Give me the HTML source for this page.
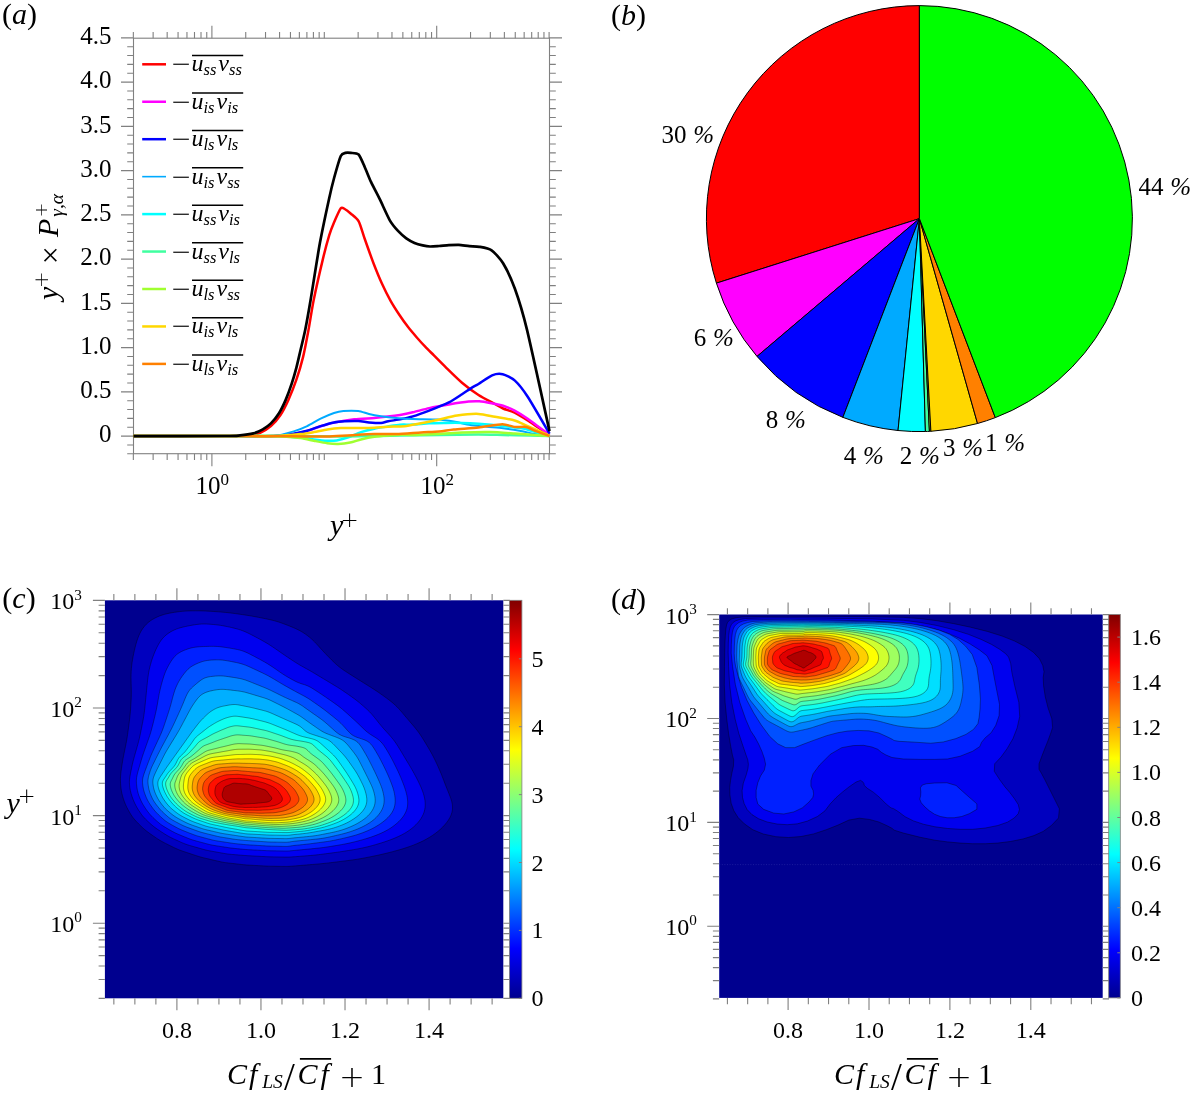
<!DOCTYPE html>
<html lang="en"><head><meta charset="utf-8"><title>Figure</title>
<style>
html,body{margin:0;padding:0;background:#fff;}
body{width:1191px;height:1097px;overflow:hidden;}
svg{display:block;}
text{fill:#000;}
</style></head><body>
<svg width="1191" height="1097" viewBox="0 0 1191 1097">
<rect width="1191" height="1097" fill="#fff"/>
<g stroke="#808080" stroke-width="1.1" fill="none">
<rect x="133.5" y="38.2" width="416" height="415.5"/>
<path d="M133.34 453.7v6.3M133.34 38.2v-6.3M153.13 453.7v6.3M153.13 38.2v-6.3M167.17 453.7v6.3M167.17 38.2v-6.3M178.06 453.7v6.3M178.06 38.2v-6.3M186.96 453.7v6.3M186.96 38.2v-6.3M194.49 453.7v6.3M194.49 38.2v-6.3M201.01 453.7v6.3M201.01 38.2v-6.3M206.76 453.7v6.3M206.76 38.2v-6.3M211.9 453.7v12.5M211.9 38.2v-12.5M245.74 453.7v6.3M245.74 38.2v-6.3M265.53 453.7v6.3M265.53 38.2v-6.3M279.57 453.7v6.3M279.57 38.2v-6.3M290.46 453.7v6.3M290.46 38.2v-6.3M299.36 453.7v6.3M299.36 38.2v-6.3M306.89 453.7v6.3M306.89 38.2v-6.3M313.41 453.7v6.3M313.41 38.2v-6.3M319.16 453.7v6.3M319.16 38.2v-6.3M324.3 453.7v6.3M324.3 38.2v-6.3M358.14 453.7v6.3M358.14 38.2v-6.3M377.93 453.7v6.3M377.93 38.2v-6.3M391.97 453.7v6.3M391.97 38.2v-6.3M402.86 453.7v6.3M402.86 38.2v-6.3M411.76 453.7v6.3M411.76 38.2v-6.3M419.29 453.7v6.3M419.29 38.2v-6.3M425.81 453.7v6.3M425.81 38.2v-6.3M431.56 453.7v6.3M431.56 38.2v-6.3M436.7 453.7v12.5M436.7 38.2v-12.5M470.54 453.7v6.3M470.54 38.2v-6.3M490.33 453.7v6.3M490.33 38.2v-6.3M504.37 453.7v6.3M504.37 38.2v-6.3M515.26 453.7v6.3M515.26 38.2v-6.3M524.16 453.7v6.3M524.16 38.2v-6.3M531.69 453.7v6.3M531.69 38.2v-6.3M538.21 453.7v6.3M538.21 38.2v-6.3M543.96 453.7v6.3M543.96 38.2v-6.3M549.1 453.7v6.3M549.1 38.2v-6.3M133.5 453.8h-6.3M549.5 453.8h6.3M133.5 444.95h-6.3M549.5 444.95h6.3M133.5 436.1h-12.5M549.5 436.1h12.5M133.5 427.25h-6.3M549.5 427.25h6.3M133.5 418.4h-6.3M549.5 418.4h6.3M133.5 409.55h-6.3M549.5 409.55h6.3M133.5 400.7h-6.3M549.5 400.7h6.3M133.5 391.85h-12.5M549.5 391.85h12.5M133.5 383h-6.3M549.5 383h6.3M133.5 374.15h-6.3M549.5 374.15h6.3M133.5 365.3h-6.3M549.5 365.3h6.3M133.5 356.45h-6.3M549.5 356.45h6.3M133.5 347.6h-12.5M549.5 347.6h12.5M133.5 338.75h-6.3M549.5 338.75h6.3M133.5 329.9h-6.3M549.5 329.9h6.3M133.5 321.05h-6.3M549.5 321.05h6.3M133.5 312.2h-6.3M549.5 312.2h6.3M133.5 303.35h-12.5M549.5 303.35h12.5M133.5 294.5h-6.3M549.5 294.5h6.3M133.5 285.65h-6.3M549.5 285.65h6.3M133.5 276.8h-6.3M549.5 276.8h6.3M133.5 267.95h-6.3M549.5 267.95h6.3M133.5 259.1h-12.5M549.5 259.1h12.5M133.5 250.25h-6.3M549.5 250.25h6.3M133.5 241.4h-6.3M549.5 241.4h6.3M133.5 232.55h-6.3M549.5 232.55h6.3M133.5 223.7h-6.3M549.5 223.7h6.3M133.5 214.85h-12.5M549.5 214.85h12.5M133.5 206h-6.3M549.5 206h6.3M133.5 197.15h-6.3M549.5 197.15h6.3M133.5 188.3h-6.3M549.5 188.3h6.3M133.5 179.45h-6.3M549.5 179.45h6.3M133.5 170.6h-12.5M549.5 170.6h12.5M133.5 161.75h-6.3M549.5 161.75h6.3M133.5 152.9h-6.3M549.5 152.9h6.3M133.5 144.05h-6.3M549.5 144.05h6.3M133.5 135.2h-6.3M549.5 135.2h6.3M133.5 126.35h-12.5M549.5 126.35h12.5M133.5 117.5h-6.3M549.5 117.5h6.3M133.5 108.65h-6.3M549.5 108.65h6.3M133.5 99.8h-6.3M549.5 99.8h6.3M133.5 90.95h-6.3M549.5 90.95h6.3M133.5 82.1h-12.5M549.5 82.1h12.5M133.5 73.25h-6.3M549.5 73.25h6.3M133.5 64.4h-6.3M549.5 64.4h6.3M133.5 55.55h-6.3M549.5 55.55h6.3M133.5 46.7h-6.3M549.5 46.7h6.3M133.5 37.85h-12.5M549.5 37.85h12.5"/>
</g>
<path fill="none" stroke="#ff0000" stroke-width="2.5" stroke-linejoin="round" d="M133.5 436.1C145.93 436.09 226.79 436.02 240 436C253.21 435.98 244.34 436.27 246.7 435.9C249.06 435.53 257.38 433.94 260.2 432.8C263.02 431.66 268.55 428.14 270.9 426.1C273.25 424.06 278.26 418.36 280.3 415.3C282.34 412.24 286.52 404.05 288.4 399.9C290.28 395.75 294.68 384.72 296.4 379.7C298.12 374.68 301.69 362.7 303.1 356.9C304.51 351.1 307.26 336.64 308.5 330C309.74 323.36 312.01 308.33 313.7 300C315.39 291.67 321.19 266.14 323 258.6C324.81 251.06 327.94 239.55 329.2 235.4C330.46 231.25 332.45 226.16 333.8 223C335.15 219.84 339.53 209.93 340.8 208.3C342.07 206.67 343.52 208.37 344.7 209C345.88 209.63 349.27 212.26 350.9 213.7C352.53 215.13 357.1 218.41 358.7 221.3C360.3 224.19 362.9 233.67 364.6 238.5C366.3 243.33 371.28 257.45 373.3 262.7C375.32 267.95 379.88 279.06 381.9 283.5C383.92 287.94 388.57 297.16 390.6 300.8C392.63 304.44 397.28 311.67 399.3 314.7C401.32 317.73 405.88 324.18 407.9 326.8C409.92 329.43 414.58 334.88 416.6 337.2C418.62 339.52 423.18 344.58 425.2 346.7C427.22 348.82 431.52 353.02 433.9 355.4C436.28 357.78 442.32 363.92 445.6 367.1C448.88 370.29 458.16 379.44 462 382.7C465.84 385.95 474.66 392.51 478.5 395C482.34 397.49 492.03 402.43 494.9 404C497.77 405.57 500.8 407.49 503.1 408.5C505.4 409.51 511.73 411.3 514.6 412.7C517.47 414.1 523.63 417.88 527.7 420.5C531.77 423.12 546.96 433.49 549.5 435.2"/>
<path fill="none" stroke="#ff00ff" stroke-width="2.5" stroke-linejoin="round" d="M133.5 436.1C145.93 436.1 223.66 436.11 240 436.1C256.35 436.09 267.34 436.26 273.6 436C279.87 435.74 289.78 434.48 293.7 433.9C297.62 433.32 304.06 431.89 307.2 431C310.34 430.11 317.47 427.28 320.6 426.3C323.73 425.32 330.08 423.42 334 422.6C337.92 421.78 349.5 419.84 354.2 419.3C358.9 418.76 370.38 418.31 374.3 418C378.22 417.69 384.8 416.96 387.8 416.6C390.8 416.24 397.08 415.4 400 414.9C402.92 414.4 409.39 413.09 412.8 412.3C416.21 411.51 424.99 409.01 429.2 408.1C433.41 407.19 444.3 405.26 448.9 404.5C453.5 403.74 465.05 401.97 468.6 401.6C472.15 401.23 476.62 401.11 479.3 401.3C481.98 401.49 488.82 402.69 491.6 403.2C494.38 403.71 500.42 404.84 503.1 405.7C505.78 406.56 511.73 409.07 514.6 410.6C517.47 412.13 523.63 415.95 527.7 418.8C531.77 421.65 546.96 433.11 549.5 435"/>
<path fill="none" stroke="#0000ff" stroke-width="2.5" stroke-linejoin="round" d="M133.5 436.1C145.93 436.1 223.66 436.11 240 436.1C256.35 436.09 267.34 436.28 273.6 436C279.87 435.72 289.78 434.31 293.7 433.7C297.62 433.09 304.06 431.69 307.2 430.8C310.34 429.91 317.47 427.08 320.6 426.1C323.73 425.12 331.18 422.96 334 422.4C336.82 421.84 341.98 421.45 344.8 421.3C347.62 421.15 355.38 420.97 358.2 421.1C361.02 421.23 366.33 422.18 369 422.4C371.67 422.62 378.86 423.13 381.1 423C383.34 422.87 385.84 421.75 388.2 421.3C390.56 420.85 398.43 419.67 401.3 419.1C404.17 418.53 409.55 417.39 412.8 416.4C416.06 415.41 424.99 412.23 429.2 410.6C433.41 408.97 445.07 404.31 448.9 402.4C452.73 400.49 459.32 395.93 462 394.2C464.68 392.47 469.97 388.79 471.9 387.6C473.82 386.41 476.14 385.44 478.5 384C480.86 382.56 489.28 376.44 492.1 375.3C494.92 374.16 500.04 373.58 502.7 374.2C505.36 374.82 511.98 377.98 514.9 380.6C517.82 383.23 523.66 390.52 527.7 396.7C531.74 402.88 546.96 429.3 549.5 433.6"/>
<path fill="none" stroke="#00aaff" stroke-width="2" stroke-linejoin="round" d="M133.5 436.1C145.93 436.1 223.66 436.11 240 436.1C256.35 436.09 267.34 436.55 273.6 436C279.87 435.45 289.78 432.55 293.7 431.4C297.62 430.25 304.06 427.58 307.2 426.1C310.34 424.62 317.47 420.23 320.6 418.7C323.73 417.17 331.34 413.9 334 413C336.66 412.1 340.58 411.23 343.4 411C346.22 410.77 355.21 410.65 358.2 411C361.19 411.35 366.33 413.39 369 414C371.67 414.61 377.9 415.73 381.1 416.2C384.3 416.67 392.7 417.66 396.4 418C400.1 418.34 408.02 418.91 412.8 419.1C417.58 419.29 432.62 419.31 437.4 419.6C442.18 419.89 449.96 420.98 453.8 421.6C457.64 422.22 466.46 424.31 470.3 424.9C474.14 425.49 482.87 426.3 486.7 426.7C490.53 427.1 499.27 427.82 503.1 428.3C506.93 428.78 515.67 430.12 519.5 430.8C523.33 431.48 532.4 433.52 535.9 434.1C539.4 434.68 547.91 435.6 549.5 435.8"/>
<path fill="none" stroke="#00ffff" stroke-width="2.5" stroke-linejoin="round" d="M133.5 436.1C145.93 436.1 223.66 436.11 240 436.1C256.35 436.09 266.54 435.84 273.6 436C280.66 436.16 295.8 437.09 300.5 437.5C305.2 437.91 310.77 439.12 313.9 439.5C317.03 439.88 324.64 440.69 327.3 440.8C329.96 440.91 334.34 440.78 336.7 440.4C339.06 440.01 344.68 438.47 347.5 437.5C350.32 436.53 357.77 433.13 360.9 432.1C364.03 431.07 371.16 429.35 374.3 428.7C377.44 428.05 384.8 426.97 387.8 426.5C390.8 426.03 397.08 424.92 400 424.7C402.92 424.48 409.39 424.78 412.8 424.6C416.21 424.43 425.37 423.4 429.2 423.2C433.03 423 441.77 422.94 445.6 422.9C449.43 422.86 458.16 422.81 462 422.9C465.84 422.99 473.7 423.35 478.5 423.7C483.3 424.05 497.75 425.32 503.1 425.9C508.46 426.48 520.39 427.89 524.4 428.7C528.41 429.5 534.57 431.97 537.5 432.8C540.43 433.63 548.1 435.45 549.5 435.8"/>
<path fill="none" stroke="#40ffa0" stroke-width="2.5" stroke-linejoin="round" d="M133.5 436.1C145.93 436.1 220.57 436.09 240 436.1C259.43 436.11 288.33 436.15 300 436.2C311.67 436.25 330.67 436.52 340 436.5C349.33 436.48 373 436.12 380 436C387 435.88 393 435.62 400 435.5C407 435.38 430.9 435.12 440 435C449.1 434.88 470.65 434.5 478 434.5C485.35 434.5 496.93 434.87 503 435C509.07 435.13 524.58 435.48 530 435.6C535.42 435.72 547.23 435.95 549.5 436"/>
<path fill="none" stroke="#a0ff30" stroke-width="2.5" stroke-linejoin="round" d="M133.5 436.1C145.93 436.1 223.66 436.11 240 436.1C256.35 436.09 266.54 435.77 273.6 436C280.66 436.23 295.8 437.54 300.5 438.1C305.2 438.66 310.77 440.21 313.9 440.8C317.03 441.39 324.48 442.84 327.3 443.2C330.12 443.56 335.43 443.97 338.1 443.9C340.77 443.83 347.54 443.11 350.2 442.6C352.86 442.09 358.09 440.18 360.9 439.5C363.71 438.82 371.16 437.27 374.3 436.8C377.44 436.33 384.8 435.73 387.8 435.5C390.8 435.27 396.24 434.88 400 434.8C403.76 434.72 412.77 435.07 420 434.8C427.23 434.53 453.83 432.83 462 432.5C470.17 432.17 483.82 431.88 490 432C496.18 432.12 508.06 433.03 515 433.5C521.94 433.97 545.48 435.71 549.5 436"/>
<path fill="none" stroke="#ffd700" stroke-width="2.5" stroke-linejoin="round" d="M133.5 436.1C145.93 436.1 223.66 436.11 240 436.1C256.35 436.09 266.54 436.23 273.6 436C280.66 435.77 295.8 434.56 300.5 434.1C305.2 433.65 310.77 432.65 313.9 432.1C317.03 431.55 324.16 429.87 327.3 429.4C330.44 428.93 336.88 428.25 340.8 428.1C344.72 427.95 356.99 428.14 360.9 428.1C364.81 428.06 371.16 427.96 374.3 427.8C377.44 427.64 384.26 426.89 387.8 426.7C391.34 426.51 400.73 426.61 404.6 426.2C408.47 425.79 417.17 423.92 421 423.2C424.83 422.48 433.19 420.9 437.4 420C441.61 419.1 452.31 416.21 457.1 415.5C461.9 414.79 474.09 413.75 478.5 413.9C482.91 414.05 490.69 416.03 494.9 416.8C499.11 417.57 510.77 419.4 514.6 420.5C518.43 421.6 523.63 424.44 527.7 426.2C531.77 427.96 546.96 434.5 549.5 435.6"/>
<path fill="none" stroke="#ff8000" stroke-width="2.5" stroke-linejoin="round" d="M133.5 436.1C145.93 436.1 223.66 436.09 240 436.1C256.35 436.11 265.76 436.17 273.6 436.2C281.44 436.23 300.94 436.36 307.2 436.4C313.46 436.44 322.6 436.61 327.3 436.5C332 436.39 342.02 435.78 347.5 435.5C352.98 435.22 368.6 434.29 374.3 434.1C380 433.91 390.95 434.1 396.4 433.9C401.85 433.7 416.02 432.68 421 432.4C425.98 432.12 435.27 431.84 439.1 431.5C442.93 431.16 449.2 429.97 453.8 429.5C458.4 429.03 472.84 428.12 478.5 427.5C484.16 426.88 498.09 424.26 502.3 424.2C506.51 424.14 511.84 426.67 514.6 427C517.37 427.33 523.51 426.52 526 427C528.49 427.48 533.16 430.05 535.9 431.1C538.64 432.15 547.91 435.43 549.5 436"/>
<path fill="none" stroke="#000000" stroke-width="2.7" stroke-linejoin="round" d="M133.5 436.1C144.18 436.09 212.57 436.08 225 436C237.43 435.92 236.69 435.7 240 435.4C243.31 435.1 250.74 434.1 253.4 433.4C256.06 432.7 260.76 430.57 262.8 429.4C264.84 428.23 269.01 425.28 270.9 423.4C272.79 421.52 277.27 416.04 279 413.3C280.73 410.56 284.22 403.35 285.7 399.9C287.18 396.45 290.45 387.47 291.7 383.7C292.95 379.93 295.37 371.51 296.4 367.6C297.43 363.69 299.47 354.59 300.5 350.2C301.53 345.81 304.02 335.86 305.2 330C306.38 324.14 308.89 310.14 310.6 300C312.31 289.86 317.73 254.98 319.9 243.1C322.07 231.22 327.54 205.79 329.2 198.2C330.86 190.6 332.75 182.92 334.1 178C335.45 173.08 339.48 158.93 340.8 156C342.12 153.07 344.22 153.26 345.4 152.9C346.58 152.54 349.36 152.71 350.9 152.9C352.44 153.09 356.98 152.83 358.6 154.5C360.22 156.17 363.35 164 364.8 167.2C366.25 170.4 369.23 178.11 371 181.9C372.77 185.69 377.81 195.22 380 199.7C382.19 204.18 387.7 216.66 389.8 220.3C391.9 223.94 396.07 228.8 398 230.9C399.93 233 404.38 236.9 406.3 238.3C408.23 239.7 412.59 242.07 414.5 242.9C416.41 243.73 420.89 244.98 422.7 245.4C424.51 245.82 428.09 246.43 430 246.5C431.91 246.57 436.9 246.15 439.1 246C441.31 245.85 446.6 245.33 448.9 245.2C451.2 245.07 456.41 244.78 458.8 244.9C461.19 245.02 467.01 245.98 469.4 246.2C471.79 246.42 476.71 246.32 479.3 246.8C481.89 247.28 488.82 248.39 491.6 250.3C494.38 252.21 500.38 258.71 503.1 263.2C505.82 267.69 512.12 281.08 514.9 288.8C517.68 296.52 522.86 312.8 526.9 329.4C530.94 346 546.86 419.24 549.5 431.1"/>
<line x1="142.2" y1="64.3" x2="166" y2="64.3" stroke="#ff0000" stroke-width="2.5"/>
<line x1="192" y1="55.5" x2="243.2" y2="55.5" stroke="#000" stroke-width="1.5"/>
<text transform="translate(171.7,72.3) scale(1.4,1)" font-size="24" font-family='"Liberation Serif", "DejaVu Serif", serif'>−</text>
<text x="191.5" y="71.3" font-size="24" font-style="italic" font-family='"Liberation Serif", "DejaVu Serif", serif'>u<tspan font-size="16.5" dy="4">ss</tspan><tspan dy="-4" dx="2">v</tspan><tspan font-size="16.5" dy="4">ss</tspan></text>
<line x1="142.2" y1="101.75" x2="166" y2="101.75" stroke="#ff00ff" stroke-width="2.5"/>
<line x1="192" y1="92.95" x2="243.2" y2="92.95" stroke="#000" stroke-width="1.5"/>
<text transform="translate(171.7,109.75) scale(1.4,1)" font-size="24" font-family='"Liberation Serif", "DejaVu Serif", serif'>−</text>
<text x="191.5" y="108.75" font-size="24" font-style="italic" font-family='"Liberation Serif", "DejaVu Serif", serif'>u<tspan font-size="16.5" dy="4">is</tspan><tspan dy="-4" dx="2">v</tspan><tspan font-size="16.5" dy="4">is</tspan></text>
<line x1="142.2" y1="139.2" x2="166" y2="139.2" stroke="#0000ff" stroke-width="2.5"/>
<line x1="192" y1="130.4" x2="243.2" y2="130.4" stroke="#000" stroke-width="1.5"/>
<text transform="translate(171.7,147.2) scale(1.4,1)" font-size="24" font-family='"Liberation Serif", "DejaVu Serif", serif'>−</text>
<text x="191.5" y="146.2" font-size="24" font-style="italic" font-family='"Liberation Serif", "DejaVu Serif", serif'>u<tspan font-size="16.5" dy="4">ls</tspan><tspan dy="-4" dx="2">v</tspan><tspan font-size="16.5" dy="4">ls</tspan></text>
<line x1="142.2" y1="176.65" x2="166" y2="176.65" stroke="#00aaff" stroke-width="1.6"/>
<line x1="192" y1="167.85" x2="243.2" y2="167.85" stroke="#000" stroke-width="1.5"/>
<text transform="translate(171.7,184.65) scale(1.4,1)" font-size="24" font-family='"Liberation Serif", "DejaVu Serif", serif'>−</text>
<text x="191.5" y="183.65" font-size="24" font-style="italic" font-family='"Liberation Serif", "DejaVu Serif", serif'>u<tspan font-size="16.5" dy="4">is</tspan><tspan dy="-4" dx="2">v</tspan><tspan font-size="16.5" dy="4">ss</tspan></text>
<line x1="142.2" y1="214.1" x2="166" y2="214.1" stroke="#00ffff" stroke-width="2.5"/>
<line x1="192" y1="205.3" x2="243.2" y2="205.3" stroke="#000" stroke-width="1.5"/>
<text transform="translate(171.7,222.1) scale(1.4,1)" font-size="24" font-family='"Liberation Serif", "DejaVu Serif", serif'>−</text>
<text x="191.5" y="221.1" font-size="24" font-style="italic" font-family='"Liberation Serif", "DejaVu Serif", serif'>u<tspan font-size="16.5" dy="4">ss</tspan><tspan dy="-4" dx="2">v</tspan><tspan font-size="16.5" dy="4">is</tspan></text>
<line x1="142.2" y1="251.55" x2="166" y2="251.55" stroke="#40ffa0" stroke-width="2.5"/>
<line x1="192" y1="242.75" x2="243.2" y2="242.75" stroke="#000" stroke-width="1.5"/>
<text transform="translate(171.7,259.55) scale(1.4,1)" font-size="24" font-family='"Liberation Serif", "DejaVu Serif", serif'>−</text>
<text x="191.5" y="258.55" font-size="24" font-style="italic" font-family='"Liberation Serif", "DejaVu Serif", serif'>u<tspan font-size="16.5" dy="4">ss</tspan><tspan dy="-4" dx="2">v</tspan><tspan font-size="16.5" dy="4">ls</tspan></text>
<line x1="142.2" y1="289" x2="166" y2="289" stroke="#a0ff30" stroke-width="2.5"/>
<line x1="192" y1="280.2" x2="243.2" y2="280.2" stroke="#000" stroke-width="1.5"/>
<text transform="translate(171.7,297) scale(1.4,1)" font-size="24" font-family='"Liberation Serif", "DejaVu Serif", serif'>−</text>
<text x="191.5" y="296" font-size="24" font-style="italic" font-family='"Liberation Serif", "DejaVu Serif", serif'>u<tspan font-size="16.5" dy="4">ls</tspan><tspan dy="-4" dx="2">v</tspan><tspan font-size="16.5" dy="4">ss</tspan></text>
<line x1="142.2" y1="326.45" x2="166" y2="326.45" stroke="#ffd700" stroke-width="2.5"/>
<line x1="192" y1="317.65" x2="243.2" y2="317.65" stroke="#000" stroke-width="1.5"/>
<text transform="translate(171.7,334.45) scale(1.4,1)" font-size="24" font-family='"Liberation Serif", "DejaVu Serif", serif'>−</text>
<text x="191.5" y="333.45" font-size="24" font-style="italic" font-family='"Liberation Serif", "DejaVu Serif", serif'>u<tspan font-size="16.5" dy="4">is</tspan><tspan dy="-4" dx="2">v</tspan><tspan font-size="16.5" dy="4">ls</tspan></text>
<line x1="142.2" y1="363.9" x2="166" y2="363.9" stroke="#ff8000" stroke-width="2.5"/>
<line x1="192" y1="355.1" x2="243.2" y2="355.1" stroke="#000" stroke-width="1.5"/>
<text transform="translate(171.7,371.9) scale(1.4,1)" font-size="24" font-family='"Liberation Serif", "DejaVu Serif", serif'>−</text>
<text x="191.5" y="370.9" font-size="24" font-style="italic" font-family='"Liberation Serif", "DejaVu Serif", serif'>u<tspan font-size="16.5" dy="4">ls</tspan><tspan dy="-4" dx="2">v</tspan><tspan font-size="16.5" dy="4">is</tspan></text>
<text x="111.5" y="442.4" font-size="25" text-anchor="end" font-family='"Liberation Serif", "DejaVu Serif", serif'>0</text>
<text x="111.5" y="398.15" font-size="25" text-anchor="end" font-family='"Liberation Serif", "DejaVu Serif", serif'>0.5</text>
<text x="111.5" y="353.9" font-size="25" text-anchor="end" font-family='"Liberation Serif", "DejaVu Serif", serif'>1.0</text>
<text x="111.5" y="309.65" font-size="25" text-anchor="end" font-family='"Liberation Serif", "DejaVu Serif", serif'>1.5</text>
<text x="111.5" y="265.4" font-size="25" text-anchor="end" font-family='"Liberation Serif", "DejaVu Serif", serif'>2.0</text>
<text x="111.5" y="221.15" font-size="25" text-anchor="end" font-family='"Liberation Serif", "DejaVu Serif", serif'>2.5</text>
<text x="111.5" y="176.9" font-size="25" text-anchor="end" font-family='"Liberation Serif", "DejaVu Serif", serif'>3.0</text>
<text x="111.5" y="132.65" font-size="25" text-anchor="end" font-family='"Liberation Serif", "DejaVu Serif", serif'>3.5</text>
<text x="111.5" y="88.4" font-size="25" text-anchor="end" font-family='"Liberation Serif", "DejaVu Serif", serif'>4.0</text>
<text x="111.5" y="44.15" font-size="25" text-anchor="end" font-family='"Liberation Serif", "DejaVu Serif", serif'>4.5</text>
<text x="195.6" y="494.2" font-size="25" font-family='"Liberation Serif", "DejaVu Serif", serif'>10<tspan font-size="17" dy="-9.3">0</tspan></text>
<text x="420.4" y="494.2" font-size="25" font-family='"Liberation Serif", "DejaVu Serif", serif'>10<tspan font-size="17" dy="-9.3">2</tspan></text>
<text x="330" y="535" font-size="30" font-style="italic" font-family='"Liberation Serif", "DejaVu Serif", serif'>y<tspan x="340.6" y="527.3" font-style="normal" font-family="DejaVu Sans, sans-serif" font-weight="200" font-size="21.7">+</tspan></text>
<text transform="translate(57.7,302) rotate(-90)" font-size="30" font-family='"Liberation Serif", "DejaVu Serif", serif'><tspan x="2" y="0" font-style="italic">y</tspan><tspan x="13.9" y="-10" font-family="DejaVu Sans, sans-serif" font-weight="200" font-size="19.7">+</tspan><tspan x="37.7" y="3" font-size="32">×</tspan><tspan x="65" y="0" font-style="italic">P</tspan><tspan x="84.6" y="-10.6" font-family="DejaVu Sans, sans-serif" font-weight="200" font-size="17.8">+</tspan><tspan x="85.3" y="5.3" font-size="19.5" font-style="italic">γ,α</tspan></text>
<text x="2" y="23.6" font-size="30" font-family='"Liberation Serif", "DejaVu Serif", serif'>(<tspan font-style="italic">a</tspan>)</text>
<g stroke="#000" stroke-width="1" stroke-linejoin="round">
<path fill="#ff0000" d="M919.4 218.6L919.4 5.6A213 213 0 0 0 716.42 283.15Z"/>
<path fill="#ff00ff" d="M919.4 218.6L716.42 283.15A213 213 0 0 0 757 356.42Z"/>
<path fill="#0000ff" d="M919.4 218.6L757 356.42A213 213 0 0 0 842.86 417.37Z"/>
<path fill="#00aaff" d="M919.4 218.6L842.86 417.37A213 213 0 0 0 898.02 430.52Z"/>
<path fill="#00ffff" d="M919.4 218.6L898.02 430.52A213 213 0 0 0 925.42 431.51Z"/>
<path fill="#40ffa0" d="M919.4 218.6L925.42 431.51A213 213 0 0 0 929.43 431.36Z"/>
<path fill="#a0ff30" d="M919.4 218.6L929.43 431.36A213 213 0 0 0 930.9 431.29Z"/>
<path fill="#ffd700" d="M919.4 218.6L930.9 431.29A213 213 0 0 0 977.54 423.51Z"/>
<path fill="#ff8000" d="M919.4 218.6L977.54 423.51A213 213 0 0 0 995.32 417.61Z"/>
<path fill="#00ff00" d="M919.4 218.6L995.32 417.61A213 213 0 0 0 919.4 5.6Z"/>
</g>
<text x="661.5" y="143" font-size="25" font-family='"Liberation Serif", "DejaVu Serif", serif'>30 <tspan font-style="italic" dx="0.5">%</tspan></text>
<text x="1138.5" y="194.8" font-size="25" font-family='"Liberation Serif", "DejaVu Serif", serif'>44 <tspan font-style="italic" dx="0.5">%</tspan></text>
<text x="693.8" y="346" font-size="25" font-family='"Liberation Serif", "DejaVu Serif", serif'>6 <tspan font-style="italic" dx="0.5">%</tspan></text>
<text x="765.8" y="427.8" font-size="25" font-family='"Liberation Serif", "DejaVu Serif", serif'>8 <tspan font-style="italic" dx="0.5">%</tspan></text>
<text x="843.7" y="464" font-size="25" font-family='"Liberation Serif", "DejaVu Serif", serif'>4 <tspan font-style="italic" dx="0.5">%</tspan></text>
<text x="899.7" y="464" font-size="25" font-family='"Liberation Serif", "DejaVu Serif", serif'>2 <tspan font-style="italic" dx="0.5">%</tspan></text>
<text x="942.9" y="455.6" font-size="25" font-family='"Liberation Serif", "DejaVu Serif", serif'>3 <tspan font-style="italic" dx="0.5">%</tspan></text>
<text x="985" y="450.6" font-size="25" font-family='"Liberation Serif", "DejaVu Serif", serif'>1 <tspan font-style="italic" dx="0.5">%</tspan></text>
<text x="611" y="24.8" font-size="30" font-family='"Liberation Serif", "DejaVu Serif", serif'>(<tspan font-style="italic">b</tspan>)</text>
<rect x="104.9" y="600.3" width="398.4" height="398" fill="#00008f"/>
<clipPath id="cc"><rect x="104.9" y="600.3" width="398.4" height="398"/></clipPath>
<g clip-path="url(#cc)">
<path fill="#0000bf" stroke="#000" stroke-opacity="0.75" stroke-width="0.5" stroke-linejoin="round" d="M448.9 793.5L447.83 790.87L446.78 788.27L445.76 785.69L444.78 783.14L443.8 780.6L442.84 778.09L441.86 775.6L440.86 773.12L439.83 770.68L438.78 768.25L437.71 765.85L436.63 763.47L435.52 761.11L434.39 758.77L433.22 756.46L432.01 754.17L430.76 751.92L429.49 749.69L428.19 747.48L426.89 745.3L425.58 743.14L424.27 740.99L422.96 738.86L421.63 736.76L420.25 734.69L418.83 732.65L417.34 730.66L415.81 728.7L414.24 726.78L412.64 724.89L411.05 723.02L409.46 721.17L407.89 719.33L406.34 717.5L404.8 715.68L403.28 713.87L401.76 712.08L400.22 710.31L398.66 708.57L397.04 706.88L395.36 705.24L393.61 703.66L391.8 702.14L389.95 700.67L388.07 699.24L386.18 697.84L384.3 696.47L382.41 695.12L380.53 693.79L378.65 692.48L376.76 691.2L374.87 689.95L372.98 688.72L371.09 687.52L369.21 686.33L367.33 685.15L365.47 683.99L363.62 682.83L361.79 681.68L359.96 680.54L358.15 679.4L356.35 678.27L354.56 677.14L352.79 676.01L351.02 674.89L349.26 673.77L347.51 672.65L345.78 671.52L344.06 670.38L342.37 669.22L340.71 668.01L339.08 666.76L337.5 665.44L335.95 664.07L334.43 662.65L332.92 661.2L331.41 659.72L329.91 658.21L328.4 656.68L326.88 655.14L325.37 653.56L323.85 651.95L322.34 650.31L320.81 648.64L319.28 646.94L317.72 645.22L316.14 643.51L314.53 641.83L312.87 640.19L311.15 638.62L309.39 637.12L307.58 635.69L305.72 634.34L303.82 633.05L301.88 631.84L299.89 630.71L297.87 629.66L295.82 628.69L293.74 627.77L291.64 626.9L289.53 626.05L287.4 625.21L285.27 624.39L283.12 623.59L280.95 622.81L278.77 622.07L276.57 621.39L274.36 620.76L272.13 620.19L269.89 619.67L267.63 619.18L265.37 618.7L263.1 618.24L260.83 617.79L258.55 617.34L256.26 616.9L253.96 616.48L251.65 616.07L249.33 615.67L247 615.3L244.66 614.94L242.32 614.59L239.96 614.25L237.59 613.91L235.21 613.59L232.82 613.27L230.41 612.97L228 612.7L225.57 612.44L223.13 612.22L220.69 612.01L218.22 611.82L215.75 611.64L213.26 611.46L210.76 611.3L208.24 611.16L205.71 611.04L203.17 610.95L200.62 610.88L198.06 610.84L195.48 610.83L192.89 610.84L190.3 610.89L187.7 610.98L185.09 611.12L182.49 611.33L179.89 611.59L177.29 611.91L174.7 612.28L172.11 612.7L169.52 613.17L166.96 613.72L164.42 614.36L161.92 615.13L159.47 616.01L157.08 617.02L154.75 618.16L152.49 619.43L150.31 620.85L148.24 622.45L146.3 624.23L144.49 626.21L142.82 628.38L141.3 630.73L139.93 633.25L138.71 635.93L137.63 638.74L136.68 641.65L135.83 644.62L135.06 647.61L134.35 650.61L133.7 653.59L133.1 656.55L132.56 659.5L132.08 662.46L131.69 665.43L131.38 668.43L131.18 671.45L131.07 674.49L131.03 677.53L131.07 680.56L131.14 683.55L131.23 686.48L131.3 689.32L131.33 692.06L131.32 694.7L131.26 697.24L131.15 699.69L131.03 702.07L130.89 704.4L130.73 706.68L130.58 708.91L130.41 711.1L130.22 713.24L130.02 715.34L129.8 717.39L129.57 719.41L129.33 721.39L129.08 723.35L128.83 725.27L128.58 727.18L128.33 729.07L128.08 730.93L127.83 732.78L127.57 734.6L127.3 736.41L127.02 738.19L126.73 739.95L126.41 741.69L126.09 743.42L125.75 745.13L125.4 746.82L125.06 748.51L124.71 750.19L124.36 751.87L124.02 753.54L123.69 755.21L123.37 756.88L123.06 758.55L122.77 760.21L122.49 761.88L122.22 763.54L121.96 765.21L121.71 766.87L121.46 768.53L121.23 770.19L121.01 771.85L120.81 773.51L120.65 775.18L120.53 776.85L120.46 778.52L120.45 780.2L120.5 781.88L120.58 783.55L120.7 785.22L120.86 786.89L121.06 788.55L121.29 790.21L121.59 791.86L121.93 793.5L122.33 795.13L122.78 796.75L123.26 798.36L123.79 799.96L124.35 801.54L124.95 803.11L125.61 804.65L126.31 806.18L127.06 807.7L127.84 809.19L128.64 810.66L129.46 812.12L130.31 813.55L131.18 814.97L132.11 816.35L133.1 817.71L134.16 819.03L135.27 820.32L136.42 821.58L137.6 822.81L138.79 824.02L139.98 825.2L141.17 826.36L142.37 827.5L143.59 828.6L144.84 829.68L146.11 830.72L147.41 831.73L148.72 832.71L150.04 833.66L151.35 834.59L152.65 835.51L153.94 836.4L155.22 837.28L156.48 838.14L157.75 838.97L159.03 839.78L160.32 840.56L161.63 841.31L162.95 842.03L164.27 842.72L165.58 843.39L166.88 844.05L168.17 844.69L169.44 845.33L170.69 845.95L171.92 846.56L173.14 847.16L174.35 847.75L175.56 848.32L176.77 848.87L177.98 849.39L179.21 849.88L180.44 850.35L181.67 850.79L182.9 851.22L184.12 851.63L185.32 852.03L186.51 852.43L187.68 852.82L188.84 853.2L189.99 853.58L191.12 853.96L192.23 854.33L193.34 854.69L194.43 855.06L195.51 855.41L196.58 855.77L197.64 856.11L198.7 856.45L199.76 856.77L200.81 857.07L201.87 857.36L202.92 857.63L203.97 857.89L205.02 858.14L206.06 858.39L207.09 858.63L208.11 858.86L209.13 859.1L210.13 859.33L211.13 859.57L212.12 859.8L213.1 860.02L214.08 860.25L215.05 860.48L216.02 860.7L216.98 860.93L217.94 861.15L218.89 861.37L219.84 861.59L220.78 861.8L221.73 862L222.68 862.18L223.63 862.35L224.58 862.5L225.53 862.64L226.48 862.76L227.44 862.87L228.38 862.98L229.33 863.09L230.27 863.19L231.21 863.3L232.14 863.4L233.07 863.51L234 863.62L234.93 863.72L235.86 863.83L236.79 863.93L237.71 864.04L238.64 864.14L239.56 864.25L240.49 864.35L241.42 864.46L242.34 864.56L243.27 864.66L244.2 864.76L245.13 864.85L246.06 864.93L247 865L247.94 865.07L248.88 865.12L249.82 865.18L250.76 865.23L251.7 865.28L252.65 865.33L253.61 865.38L254.56 865.43L255.52 865.49L256.48 865.54L257.45 865.59L258.43 865.64L259.41 865.7L260.39 865.75L261.38 865.8L262.38 865.86L263.38 865.91L264.4 865.96L265.42 866.02L266.44 866.07L267.48 866.11L268.52 866.15L269.57 866.18L270.63 866.21L271.69 866.23L272.76 866.25L273.85 866.27L274.94 866.29L276.05 866.31L277.16 866.32L278.29 866.34L279.44 866.36L280.6 866.38L281.77 866.4L282.96 866.41L284.16 866.43L285.37 866.44L286.6 866.43L287.83 866.41L289.06 866.36L290.3 866.28L291.55 866.19L292.8 866.1L294.08 865.99L295.37 865.89L296.68 865.78L298.01 865.67L299.36 865.56L300.73 865.45L302.12 865.33L303.54 865.22L304.98 865.1L306.44 864.97L307.94 864.85L309.46 864.72L311.01 864.59L312.6 864.46L314.21 864.33L315.86 864.19L317.54 864.04L319.26 863.89L321.01 863.73L322.79 863.56L324.6 863.37L326.44 863.16L328.31 862.95L330.23 862.72L332.19 862.49L334.2 862.24L336.26 861.99L338.37 861.73L340.55 861.46L342.78 861.19L345.07 860.91L347.43 860.61L349.85 860.29L352.32 859.95L354.84 859.58L357.4 859.18L360.01 858.74L362.66 858.27L365.36 857.77L368.13 857.23L370.97 856.67L373.89 856.07L376.87 855.45L379.92 854.78L383.03 854.06L386.2 853.3L389.43 852.5L392.73 851.64L396.09 850.73L399.51 849.77L402.97 848.73L406.44 847.62L409.91 846.43L413.35 845.15L416.74 843.78L420.08 842.31L423.33 840.75L426.49 839.08L429.53 837.32L432.44 835.46L435.22 833.51L437.86 831.46L440.33 829.33L442.65 827.12L444.78 824.83L446.73 822.46L448.45 820.02L449.93 817.52L451.11 814.95L451.96 812.33L452.44 809.67L452.55 806.97L452.3 804.26L451.73 801.54L450.92 798.84L449.95 796.16Z"/>
<path fill="#0000ef" stroke="#000" stroke-opacity="0.75" stroke-width="0.5" stroke-linejoin="round" d="M423.36 793.5L422.57 791.2L421.69 788.93L420.74 786.67L419.73 784.45L418.68 782.25L417.6 780.07L416.5 777.92L415.39 775.8L414.26 773.7L413.11 771.63L411.94 769.59L410.76 767.56L409.58 765.56L408.4 763.59L407.23 761.63L406.06 759.69L404.91 757.77L403.76 755.86L402.63 753.98L401.5 752.1L400.38 750.24L399.26 748.4L398.13 746.57L396.98 744.77L395.8 742.99L394.57 741.24L393.28 739.54L391.93 737.87L390.54 736.24L389.11 734.64L387.67 733.06L386.24 731.51L384.83 729.96L383.46 728.41L382.12 726.87L380.82 725.32L379.54 723.77L378.3 722.21L377.07 720.66L375.84 719.11L374.61 717.58L373.36 716.07L372.09 714.58L370.77 713.12L369.42 711.7L368.03 710.32L366.6 708.98L365.15 707.66L363.69 706.36L362.22 705.09L360.75 703.83L359.26 702.59L357.76 701.38L356.25 700.19L354.72 699.03L353.17 697.9L351.62 696.79L350.07 695.69L348.52 694.6L346.98 693.52L345.44 692.45L343.89 691.4L342.35 690.35L340.8 689.33L339.24 688.32L337.67 687.33L336.1 686.36L334.53 685.41L332.96 684.46L331.4 683.51L329.83 682.57L328.27 681.64L326.72 680.7L325.16 679.77L323.61 678.84L322.06 677.91L320.52 676.98L318.97 676.06L317.42 675.13L315.88 674.2L314.33 673.28L312.78 672.35L311.22 671.44L309.66 670.53L308.08 669.63L306.5 668.75L304.91 667.88L303.32 667L301.73 666.12L300.14 665.21L298.56 664.27L296.98 663.3L295.4 662.31L293.82 661.29L292.23 660.25L290.64 659.2L289.03 658.13L287.42 657.05L285.79 655.95L284.15 654.84L282.5 653.7L280.84 652.55L279.16 651.38L277.46 650.2L275.74 649.01L274 647.81L272.24 646.62L270.45 645.44L268.64 644.28L266.79 643.15L264.92 642.06L263.03 640.98L261.11 639.92L259.17 638.87L257.2 637.81L255.22 636.75L253.2 635.68L251.16 634.62L249.09 633.58L247 632.57L244.88 631.63L242.74 630.77L240.58 630L238.4 629.32L236.2 628.7L233.99 628.14L231.76 627.6L229.51 627.09L227.25 626.6L224.97 626.14L222.67 625.71L220.37 625.34L218.05 625.02L215.72 624.74L213.38 624.5L211.04 624.3L208.68 624.14L206.31 624.03L203.95 623.99L201.59 624.04L199.25 624.19L196.92 624.44L194.61 624.77L192.3 625.15L190 625.58L187.7 626.04L185.4 626.52L183.1 627.04L180.82 627.63L178.57 628.3L176.36 629.08L174.2 629.99L172.1 631.02L170.06 632.18L168.08 633.47L166.19 634.91L164.4 636.5L162.72 638.27L161.16 640.23L159.73 642.34L158.4 644.58L157.16 646.9L156.01 649.28L154.92 651.71L153.91 654.18L152.97 656.68L152.09 659.21L151.29 661.76L150.55 664.33L149.87 666.92L149.28 669.54L148.76 672.18L148.32 674.85L147.94 677.52L147.62 680.17L147.33 682.8L147.06 685.38L146.81 687.92L146.56 690.4L146.33 692.83L146.09 695.2L145.87 697.53L145.64 699.81L145.42 702.04L145.2 704.23L144.99 706.37L144.76 708.47L144.53 710.52L144.28 712.52L144.01 714.48L143.72 716.38L143.41 718.24L143.08 720.06L142.75 721.85L142.4 723.61L142.06 725.35L141.72 727.07L141.38 728.78L141.04 730.46L140.71 732.13L140.37 733.78L140.03 735.42L139.67 737.03L139.31 738.63L138.92 740.2L138.53 741.76L138.11 743.3L137.69 744.83L137.27 746.35L136.84 747.87L136.41 749.38L135.98 750.88L135.55 752.38L135.12 753.88L134.7 755.38L134.28 756.87L133.87 758.37L133.46 759.87L133.08 761.37L132.71 762.88L132.36 764.39L132.03 765.9L131.71 767.41L131.4 768.93L131.1 770.45L130.79 771.96L130.49 773.48L130.2 775L129.93 776.53L129.69 778.06L129.53 779.6L129.43 781.14L129.42 782.7L129.49 784.25L129.63 785.81L129.81 787.36L130.05 788.91L130.34 790.45L130.68 791.98L131.08 793.5L131.54 795.01L132.04 796.51L132.57 798L133.13 799.47L133.72 800.92L134.34 802.37L135.01 803.79L135.72 805.2L136.47 806.58L137.25 807.95L138.06 809.29L138.89 810.62L139.74 811.93L140.61 813.22L141.51 814.48L142.47 815.72L143.48 816.92L144.54 818.1L145.65 819.24L146.78 820.35L147.92 821.44L149.07 822.51L150.21 823.55L151.36 824.57L152.53 825.57L153.72 826.53L154.93 827.47L156.17 828.37L157.42 829.24L158.67 830.09L159.92 830.91L161.16 831.72L162.38 832.51L163.59 833.29L164.78 834.05L165.97 834.79L167.16 835.51L168.35 836.2L169.56 836.87L170.78 837.5L172.01 838.11L173.24 838.7L174.47 839.27L175.68 839.82L176.87 840.36L178.04 840.89L179.2 841.42L180.34 841.93L181.47 842.43L182.59 842.92L183.71 843.39L184.84 843.84L185.97 844.26L187.1 844.66L188.25 845.03L189.39 845.38L190.52 845.71L191.64 846.03L192.75 846.35L193.84 846.66L194.92 846.97L195.98 847.27L197.02 847.57L198.05 847.86L199.07 848.15L200.08 848.44L201.07 848.72L202.06 849L203.03 849.27L204 849.54L204.96 849.8L205.92 850.04L206.88 850.27L207.84 850.48L208.8 850.67L209.75 850.86L210.7 851.03L211.64 851.2L212.57 851.37L213.49 851.53L214.41 851.7L215.32 851.86L216.21 852.02L217.1 852.17L217.99 852.33L218.86 852.49L219.74 852.64L220.6 852.8L221.46 852.95L222.31 853.1L223.16 853.25L224.01 853.4L224.85 853.55L225.69 853.69L226.52 853.82L227.36 853.95L228.2 854.06L229.03 854.16L229.87 854.24L230.7 854.32L231.53 854.4L232.36 854.47L233.19 854.53L234.01 854.6L234.83 854.67L235.65 854.74L236.47 854.8L237.28 854.87L238.09 854.94L238.9 855.01L239.71 855.08L240.52 855.15L241.33 855.21L242.14 855.28L242.95 855.35L243.76 855.41L244.57 855.47L245.38 855.53L246.19 855.59L247 855.64L247.81 855.69L248.63 855.74L249.45 855.78L250.27 855.83L251.09 855.87L251.91 855.92L252.74 855.96L253.57 856.01L254.4 856.05L255.24 856.1L256.08 856.14L256.93 856.19L257.78 856.23L258.64 856.28L259.5 856.32L260.36 856.37L261.24 856.42L262.12 856.47L263 856.51L263.9 856.56L264.8 856.61L265.71 856.66L266.62 856.7L267.55 856.74L268.48 856.78L269.42 856.81L270.37 856.83L271.32 856.86L272.28 856.87L273.26 856.89L274.24 856.9L275.24 856.92L276.24 856.94L277.26 856.95L278.3 856.97L279.35 856.98L280.41 857L281.49 857.02L282.58 857.04L283.7 857.06L284.82 857.08L285.97 857.09L287.12 857.09L288.29 857.08L289.46 857.04L290.63 856.99L291.82 856.92L293.02 856.84L294.23 856.75L295.47 856.67L296.72 856.57L298 856.48L299.3 856.38L300.62 856.28L301.96 856.17L303.34 856.07L304.73 855.96L306.16 855.85L307.62 855.73L309.11 855.61L310.63 855.48L312.17 855.35L313.75 855.2L315.34 855.04L316.96 854.86L318.61 854.66L320.29 854.45L322 854.24L323.76 854.01L325.55 853.78L327.4 853.54L329.29 853.29L331.23 853.03L333.23 852.76L335.28 852.49L337.38 852.19L339.53 851.88L341.74 851.56L344 851.21L346.32 850.84L348.71 850.46L351.16 850.06L353.69 849.63L356.28 849.18L358.93 848.7L361.62 848.17L364.33 847.59L367.06 846.95L369.8 846.26L372.57 845.51L375.37 844.71L378.22 843.87L381.12 842.98L384.07 842.04L387.04 841.04L390.01 839.97L392.97 838.83L395.9 837.61L398.79 836.31L401.6 834.93L404.33 833.46L406.93 831.9L409.39 830.25L411.71 828.51L413.88 826.69L415.89 824.8L417.74 822.84L419.42 820.81L420.9 818.71L422.17 816.56L423.24 814.36L424.08 812.11L424.69 809.83L425.07 807.51L425.24 805.18L425.2 802.84L424.98 800.49L424.58 798.15L424.03 795.82Z"/>
<path fill="#0020ff" stroke="#000" stroke-opacity="0.75" stroke-width="0.5" stroke-linejoin="round" d="M406.43 793.5L405.88 791.42L405.26 789.36L404.58 787.31L403.86 785.28L403.1 783.27L402.31 781.28L401.52 779.3L400.7 777.35L399.87 775.41L399.02 773.49L398.15 771.58L397.27 769.7L396.36 767.83L395.45 765.99L394.53 764.15L393.61 762.34L392.69 760.53L391.75 758.75L390.79 756.98L389.82 755.23L388.83 753.5L387.83 751.78L386.82 750.09L385.79 748.4L384.73 746.75L383.62 745.12L382.42 743.54L381.08 742.03L379.59 740.6L377.94 739.26L376.16 738.01L374.3 736.82L372.45 735.67L370.65 734.52L368.96 733.36L367.38 732.16L365.91 730.94L364.52 729.69L363.19 728.43L361.89 727.17L360.6 725.91L359.33 724.67L358.05 723.43L356.77 722.22L355.48 721.01L354.2 719.83L352.91 718.65L351.62 717.49L350.34 716.33L349.07 715.18L347.79 714.04L346.53 712.9L345.26 711.78L343.99 710.66L342.71 709.56L341.42 708.48L340.11 707.43L338.79 706.4L337.45 705.39L336.09 704.41L334.73 703.44L333.38 702.48L332.02 701.53L330.67 700.58L329.32 699.64L327.97 698.7L326.62 697.77L325.27 696.84L323.92 695.92L322.57 695.01L321.22 694.11L319.86 693.22L318.5 692.33L317.14 691.44L315.78 690.56L314.42 689.68L313.05 688.81L311.67 687.97L310.27 687.16L308.83 686.41L307.35 685.73L305.83 685.14L304.28 684.62L302.72 684.14L301.17 683.65L299.65 683.12L298.15 682.54L296.69 681.89L295.25 681.19L293.83 680.45L292.41 679.69L290.99 678.91L289.57 678.12L288.15 677.31L286.72 676.48L285.3 675.61L283.88 674.72L282.46 673.79L281.03 672.84L279.6 671.85L278.15 670.85L276.69 669.83L275.22 668.8L273.72 667.77L272.21 666.74L270.68 665.72L269.13 664.72L267.55 663.74L265.95 662.78L264.33 661.85L262.69 660.94L261.03 660.03L259.35 659.12L257.65 658.21L255.93 657.29L254.19 656.37L252.42 655.43L250.64 654.5L248.83 653.59L247 652.71L245.15 651.9L243.27 651.17L241.38 650.54L239.48 650.01L237.57 649.55L235.64 649.16L233.7 648.8L231.76 648.46L229.79 648.12L227.82 647.8L225.83 647.48L223.83 647.18L221.81 646.91L219.79 646.68L217.76 646.51L215.73 646.4L213.7 646.35L211.67 646.35L209.63 646.37L207.59 646.42L205.54 646.49L203.47 646.56L201.4 646.65L199.32 646.77L197.25 646.94L195.19 647.19L193.15 647.52L191.14 647.97L189.16 648.51L187.21 649.15L185.29 649.86L183.39 650.64L181.53 651.49L179.73 652.46L177.99 653.57L176.36 654.85L174.83 656.32L173.41 657.96L172.08 659.73L170.84 661.59L169.66 663.51L168.54 665.47L167.48 667.46L166.48 669.51L165.56 671.61L164.71 673.77L163.93 675.97L163.22 678.18L162.55 680.4L161.91 682.61L161.31 684.8L160.74 686.98L160.22 689.15L159.73 691.32L159.28 693.48L158.87 695.62L158.49 697.75L158.13 699.85L157.77 701.91L157.42 703.92L157.07 705.9L156.71 707.82L156.34 709.7L155.95 711.52L155.56 713.31L155.15 715.05L154.74 716.76L154.32 718.45L153.91 720.11L153.5 721.76L153.1 723.38L152.7 724.98L152.3 726.57L151.89 728.13L151.48 729.68L151.06 731.2L150.62 732.69L150.16 734.16L149.69 735.61L149.21 737.04L148.72 738.46L148.22 739.87L147.72 741.27L147.22 742.66L146.73 744.05L146.23 745.44L145.74 746.82L145.25 748.2L144.76 749.58L144.28 750.95L143.8 752.33L143.33 753.7L142.87 755.08L142.42 756.47L141.98 757.85L141.56 759.24L141.14 760.63L140.73 762.02L140.33 763.41L139.92 764.81L139.51 766.2L139.11 767.6L138.7 768.99L138.3 770.4L137.91 771.8L137.53 773.21L137.19 774.63L136.88 776.06L136.64 777.5L136.48 778.95L136.39 780.41L136.39 781.87L136.46 783.34L136.58 784.81L136.75 786.27L136.95 787.73L137.19 789.19L137.48 790.63L137.82 792.07L138.22 793.5L138.67 794.92L139.18 796.32L139.72 797.72L140.29 799.09L140.9 800.45L141.55 801.8L142.24 803.13L142.98 804.43L143.75 805.72L144.55 806.99L145.37 808.24L146.2 809.46L147.05 810.67L147.92 811.86L148.83 813.03L149.78 814.17L150.77 815.27L151.81 816.35L152.87 817.41L153.94 818.44L155.01 819.44L156.08 820.43L157.15 821.4L158.22 822.35L159.32 823.26L160.45 824.15L161.62 825L162.82 825.81L164.04 826.6L165.28 827.35L166.51 828.08L167.73 828.79L168.94 829.49L170.12 830.17L171.3 830.83L172.46 831.48L173.63 832.1L174.8 832.7L175.99 833.27L177.17 833.81L178.36 834.33L179.55 834.84L180.72 835.32L181.87 835.79L183.01 836.26L184.13 836.71L185.22 837.16L186.3 837.6L187.37 838.03L188.42 838.45L189.47 838.85L190.51 839.24L191.56 839.61L192.61 839.95L193.66 840.28L194.71 840.58L195.75 840.87L196.78 841.15L197.8 841.43L198.81 841.69L199.79 841.96L200.77 842.22L201.73 842.48L202.67 842.73L203.61 842.98L204.53 843.23L205.44 843.47L206.34 843.71L207.23 843.95L208.11 844.18L208.98 844.41L209.86 844.63L210.73 844.83L211.6 845.01L212.47 845.18L213.34 845.34L214.2 845.48L215.06 845.62L215.92 845.75L216.76 845.88L217.6 846L218.42 846.13L219.24 846.26L220.06 846.38L220.86 846.5L221.66 846.63L222.45 846.75L223.24 846.87L224.02 846.99L224.8 847.11L225.57 847.23L226.33 847.34L227.09 847.46L227.85 847.58L228.61 847.69L229.36 847.8L230.11 847.9L230.86 848L231.6 848.09L232.35 848.18L233.09 848.26L233.84 848.33L234.58 848.41L235.31 848.48L236.05 848.56L236.78 848.63L237.51 848.7L238.25 848.77L238.97 848.85L239.7 848.92L240.43 849L241.16 849.07L241.89 849.14L242.62 849.22L243.34 849.29L244.07 849.35L244.8 849.42L245.53 849.48L246.27 849.54L247 849.59L247.73 849.64L248.47 849.68L249.21 849.72L249.95 849.76L250.69 849.8L251.43 849.84L252.18 849.88L252.93 849.92L253.68 849.96L254.44 850L255.2 850.04L255.96 850.09L256.73 850.13L257.5 850.17L258.28 850.21L259.06 850.25L259.85 850.3L260.65 850.34L261.45 850.38L262.25 850.43L263.07 850.47L263.89 850.51L264.72 850.56L265.55 850.6L266.4 850.65L267.25 850.69L268.11 850.72L268.98 850.75L269.85 850.78L270.73 850.8L271.62 850.82L272.53 850.83L273.44 850.85L274.36 850.86L275.29 850.87L276.24 850.89L277.2 850.9L278.18 850.92L279.16 850.93L280.17 850.95L281.19 850.97L282.23 850.98L283.28 851L284.35 851.02L285.44 851.03L286.54 851.03L287.65 851.01L288.75 850.97L289.86 850.89L290.96 850.79L292.08 850.68L293.21 850.57L294.37 850.46L295.55 850.34L296.75 850.23L297.97 850.11L299.22 849.99L300.49 849.86L301.78 849.74L303.11 849.61L304.46 849.48L305.84 849.34L307.26 849.2L308.71 849.06L310.19 848.92L311.71 848.77L313.27 848.61L314.87 848.46L316.5 848.29L318.18 848.12L319.89 847.93L321.64 847.73L323.41 847.5L325.22 847.26L327.05 846.99L328.93 846.7L330.84 846.4L332.81 846.08L334.83 845.75L336.91 845.41L339.05 845.05L341.24 844.67L343.49 844.27L345.78 843.83L348.1 843.35L350.44 842.84L352.81 842.28L355.22 841.68L357.67 841.05L360.17 840.38L362.72 839.67L365.32 838.92L367.94 838.12L370.58 837.26L373.21 836.34L375.85 835.37L378.47 834.32L381.06 833.21L383.61 832.03L386.07 830.76L388.44 829.42L390.71 828L392.87 826.51L394.95 824.95L396.92 823.32L398.77 821.63L400.48 819.87L402.04 818.06L403.43 816.18L404.65 814.25L405.67 812.28L406.49 810.26L407.1 808.21L407.5 806.13L407.69 804.03L407.71 801.92L407.56 799.81L407.29 797.7L406.9 795.59Z"/>
<path fill="#0050ff" stroke="#000" stroke-opacity="0.75" stroke-width="0.5" stroke-linejoin="round" d="M394.43 793.5L394.01 791.58L393.51 789.66L392.94 787.77L392.3 785.89L391.62 784.02L390.91 782.17L390.18 780.34L389.44 778.53L388.69 776.73L387.93 774.95L387.14 773.18L386.33 771.43L385.51 769.7L384.68 767.98L383.84 766.28L383 764.59L382.15 762.92L381.3 761.26L380.45 759.61L379.58 757.98L378.7 756.36L377.8 754.76L376.89 753.17L375.96 751.6L375.03 750.04L374.08 748.5L373.09 746.98L372.04 745.5L370.86 744.09L369.48 742.77L367.86 741.57L365.97 740.53L363.85 739.63L361.58 738.85L359.3 738.12L357.14 737.38L355.18 736.59L353.46 735.7L351.96 734.72L350.65 733.66L349.47 732.54L348.36 731.39L347.28 730.22L346.23 729.06L345.19 727.89L344.14 726.74L343.08 725.6L342.01 724.47L340.91 723.37L339.79 722.3L338.64 721.26L337.47 720.24L336.28 719.25L335.08 718.27L333.89 717.3L332.69 716.34L331.5 715.39L330.31 714.44L329.13 713.5L327.94 712.56L326.76 711.62L325.57 710.7L324.38 709.79L323.19 708.89L321.98 708L320.77 707.13L319.56 706.26L318.34 705.4L317.13 704.55L315.91 703.69L314.7 702.84L313.48 702L312.26 701.15L311.04 700.31L309.82 699.49L308.58 698.68L307.32 697.9L306.05 697.14L304.76 696.41L303.46 695.71L302.15 695.02L300.84 694.33L299.54 693.65L298.23 692.95L296.93 692.26L295.63 691.55L294.33 690.84L293.03 690.13L291.72 689.41L290.41 688.69L289.1 687.96L287.79 687.23L286.48 686.49L285.16 685.74L283.84 684.98L282.51 684.21L281.18 683.42L279.84 682.62L278.5 681.82L277.14 681L275.78 680.19L274.4 679.36L273.01 678.54L271.61 677.72L270.19 676.91L268.76 676.12L267.3 675.34L265.83 674.59L264.35 673.85L262.85 673.12L261.33 672.4L259.8 671.68L258.26 670.96L256.7 670.23L255.13 669.49L253.54 668.75L251.93 668L250.31 667.26L248.66 666.52L247 665.8L245.32 665.12L243.62 664.5L241.91 663.93L240.18 663.44L238.45 663L236.7 662.61L234.94 662.24L233.17 661.89L231.38 661.54L229.58 661.2L227.77 660.87L225.95 660.57L224.11 660.31L222.27 660.09L220.44 659.95L218.6 659.87L216.76 659.85L214.92 659.89L213.08 659.96L211.25 660.06L209.41 660.22L207.58 660.43L205.77 660.72L203.99 661.11L202.23 661.6L200.5 662.18L198.8 662.84L197.12 663.55L195.46 664.31L193.83 665.13L192.23 666.03L190.69 667.03L189.22 668.16L187.81 669.42L186.48 670.79L185.22 672.25L184.01 673.77L182.83 675.32L181.7 676.9L180.62 678.52L179.58 680.17L178.59 681.87L177.67 683.61L176.8 685.41L176 687.24L175.26 689.12L174.58 691.03L173.96 692.97L173.39 694.92L172.85 696.87L172.34 698.8L171.85 700.7L171.36 702.56L170.87 704.37L170.38 706.13L169.88 707.85L169.37 709.52L168.85 711.15L168.34 712.75L167.82 714.32L167.31 715.87L166.81 717.4L166.3 718.91L165.81 720.4L165.32 721.87L164.84 723.33L164.35 724.76L163.87 726.18L163.39 727.58L162.89 728.96L162.38 730.31L161.85 731.64L161.31 732.94L160.75 734.22L160.18 735.49L159.61 736.75L159.03 737.99L158.45 739.24L157.87 740.48L157.3 741.71L156.72 742.94L156.15 744.17L155.58 745.4L155.01 746.63L154.43 747.85L153.86 749.08L153.29 750.3L152.73 751.53L152.17 752.76L151.62 753.99L151.09 755.23L150.57 756.48L150.06 757.74L149.56 759L149.08 760.26L148.6 761.53L148.12 762.8L147.64 764.07L147.16 765.34L146.68 766.62L146.2 767.9L145.72 769.19L145.24 770.47L144.76 771.77L144.29 773.07L143.84 774.38L143.43 775.7L143.07 777.04L142.79 778.39L142.6 779.76L142.52 781.13L142.53 782.52L142.63 783.91L142.78 785.3L142.99 786.68L143.24 788.06L143.53 789.43L143.88 790.8L144.28 792.16L144.73 793.5L145.22 794.83L145.73 796.15L146.28 797.46L146.86 798.75L147.48 800.02L148.15 801.28L148.87 802.52L149.63 803.73L150.43 804.93L151.24 806.11L152.07 807.26L152.91 808.4L153.77 809.52L154.65 810.62L155.56 811.69L156.52 812.73L157.5 813.75L158.51 814.75L159.52 815.72L160.54 816.67L161.55 817.6L162.56 818.51L163.58 819.4L164.63 820.27L165.7 821.1L166.82 821.89L167.97 822.66L169.15 823.39L170.34 824.09L171.52 824.76L172.7 825.42L173.86 826.06L175 826.69L176.13 827.3L177.25 827.9L178.37 828.47L179.5 829.01L180.63 829.53L181.77 830.03L182.91 830.5L184.04 830.96L185.15 831.4L186.25 831.83L187.33 832.25L188.39 832.66L189.43 833.07L190.45 833.46L191.46 833.85L192.45 834.23L193.43 834.61L194.4 834.96L195.37 835.31L196.34 835.63L197.32 835.93L198.28 836.22L199.25 836.49L200.21 836.76L201.15 837.01L202.08 837.26L203 837.5L203.9 837.74L204.79 837.98L205.67 838.21L206.54 838.44L207.39 838.67L208.23 838.89L209.07 839.11L209.89 839.33L210.7 839.54L211.51 839.75L212.31 839.96L213.11 840.15L213.9 840.33L214.7 840.5L215.49 840.65L216.29 840.79L217.08 840.92L217.86 841.05L218.64 841.17L219.41 841.28L220.18 841.4L220.93 841.51L221.68 841.63L222.42 841.74L223.15 841.85L223.88 841.97L224.61 842.08L225.32 842.19L226.04 842.3L226.74 842.4L227.45 842.51L228.15 842.62L228.84 842.73L229.53 842.83L230.22 842.94L230.9 843.04L231.58 843.15L232.26 843.25L232.94 843.34L233.62 843.44L234.3 843.52L234.97 843.6L235.65 843.67L236.32 843.74L236.99 843.81L237.66 843.88L238.33 843.95L239 844.01L239.67 844.08L240.33 844.15L241 844.22L241.66 844.28L242.33 844.35L242.99 844.41L243.66 844.48L244.33 844.54L244.99 844.6L245.66 844.66L246.33 844.71L247 844.77L247.67 844.81L248.34 844.85L249.02 844.9L249.7 844.94L250.37 844.98L251.05 845.02L251.74 845.06L252.42 845.1L253.11 845.14L253.8 845.18L254.5 845.22L255.2 845.27L255.9 845.31L256.61 845.35L257.32 845.4L258.04 845.44L258.76 845.48L259.49 845.53L260.22 845.57L260.96 845.62L261.71 845.66L262.46 845.71L263.23 845.76L263.99 845.8L264.77 845.85L265.55 845.9L266.35 845.94L267.15 845.99L267.96 846.03L268.77 846.06L269.6 846.09L270.43 846.12L271.27 846.14L272.12 846.16L272.98 846.18L273.85 846.2L274.74 846.22L275.64 846.24L276.55 846.26L277.48 846.28L278.42 846.31L279.37 846.33L280.35 846.35L281.34 846.37L282.35 846.4L283.37 846.42L284.42 846.44L285.47 846.45L286.53 846.43L287.58 846.38L288.61 846.28L289.63 846.15L290.65 845.98L291.68 845.81L292.73 845.65L293.82 845.5L294.95 845.37L296.11 845.25L297.3 845.14L298.52 845.02L299.76 844.9L301.03 844.77L302.33 844.64L303.65 844.51L305 844.36L306.38 844.21L307.78 844.05L309.21 843.88L310.67 843.69L312.16 843.5L313.7 843.3L315.27 843.1L316.88 842.89L318.54 842.67L320.25 842.45L322.01 842.21L323.82 841.97L325.68 841.71L327.57 841.44L329.5 841.13L331.46 840.8L333.43 840.43L335.44 840.03L337.47 839.6L339.55 839.14L341.67 838.66L343.86 838.15L346.11 837.63L348.41 837.07L350.77 836.48L353.15 835.85L355.53 835.16L357.92 834.42L360.29 833.62L362.65 832.76L365.01 831.84L367.35 830.87L369.67 829.84L371.95 828.74L374.18 827.58L376.34 826.35L378.44 825.06L380.47 823.7L382.44 822.29L384.33 820.82L386.13 819.29L387.8 817.69L389.34 816.04L390.71 814.34L391.91 812.58L392.93 810.77L393.75 808.92L394.38 807.04L394.82 805.13L395.08 803.21L395.19 801.27L395.16 799.32L395.01 797.38L394.76 795.43Z"/>
<path fill="#0080ff" stroke="#000" stroke-opacity="0.75" stroke-width="0.5" stroke-linejoin="round" d="M383.35 793.5L382.92 791.72L382.43 789.95L381.88 788.2L381.26 786.46L380.6 784.74L379.9 783.04L379.18 781.35L378.44 779.69L377.7 778.03L376.95 776.39L376.2 774.77L375.45 773.16L374.68 771.56L373.91 769.98L373.14 768.41L372.37 766.85L371.59 765.31L370.82 763.77L370.05 762.25L369.28 760.74L368.5 759.23L367.71 757.74L366.9 756.27L366.08 754.81L365.24 753.36L364.4 751.93L363.55 750.5L362.7 749.09L361.84 747.68L360.95 746.3L360.01 744.95L358.98 743.64L357.81 742.42L356.45 741.3L354.87 740.3L353.1 739.44L351.17 738.69L349.15 738.03L347.13 737.42L345.17 736.82L343.32 736.19L341.63 735.51L340.1 734.76L338.72 733.94L337.46 733.06L336.28 732.14L335.16 731.19L334.07 730.24L333 729.28L331.93 728.33L330.88 727.38L329.82 726.43L328.77 725.49L327.72 724.56L326.67 723.63L325.61 722.72L324.54 721.82L323.46 720.94L322.36 720.09L321.25 719.25L320.13 718.43L319 717.63L317.87 716.83L316.75 716.04L315.62 715.25L314.5 714.47L313.38 713.69L312.27 712.9L311.15 712.12L310.04 711.34L308.93 710.56L307.83 709.77L306.73 708.98L305.63 708.19L304.53 707.4L303.43 706.61L302.31 705.84L301.17 705.1L300.01 704.39L298.83 703.73L297.62 703.1L296.4 702.51L295.17 701.94L293.94 701.38L292.7 700.84L291.46 700.29L290.22 699.74L288.99 699.2L287.75 698.64L286.52 698.09L285.29 697.52L284.06 696.94L282.84 696.36L281.61 695.76L280.38 695.15L279.15 694.54L277.92 693.92L276.68 693.3L275.43 692.68L274.18 692.06L272.92 691.43L271.65 690.81L270.38 690.19L269.09 689.59L267.79 688.99L266.48 688.42L265.15 687.85L263.82 687.3L262.48 686.75L261.13 686.21L259.76 685.66L258.39 685.11L257.01 684.55L255.62 684L254.21 683.43L252.8 682.87L251.37 682.3L249.93 681.72L248.47 681.16L247 680.6L245.52 680.08L244.02 679.59L242.51 679.16L240.99 678.78L239.46 678.45L237.92 678.16L236.38 677.89L234.82 677.64L233.26 677.39L231.68 677.14L230.09 676.9L228.49 676.66L226.88 676.44L225.27 676.23L223.64 676.07L222.01 675.95L220.39 675.9L218.77 675.9L217.15 675.97L215.54 676.07L213.92 676.21L212.31 676.38L210.69 676.57L209.09 676.82L207.5 677.14L205.95 677.57L204.44 678.14L202.99 678.85L201.6 679.69L200.25 680.64L198.94 681.64L197.66 682.69L196.4 683.74L195.15 684.8L193.92 685.86L192.7 686.93L191.52 688.05L190.39 689.23L189.33 690.52L188.35 691.92L187.46 693.42L186.65 695.01L185.9 696.66L185.19 698.32L184.51 699.97L183.84 701.61L183.19 703.21L182.54 704.78L181.89 706.31L181.25 707.81L180.6 709.27L179.96 710.71L179.31 712.12L178.68 713.51L178.05 714.88L177.43 716.23L176.81 717.57L176.2 718.89L175.6 720.2L175 721.5L174.41 722.78L173.81 724.05L173.22 725.3L172.63 726.54L172.03 727.75L171.42 728.95L170.81 730.14L170.2 731.31L169.58 732.47L168.96 733.62L168.35 734.77L167.73 735.91L167.12 737.05L166.51 738.18L165.9 739.31L165.3 740.44L164.69 741.57L164.09 742.69L163.48 743.81L162.88 744.93L162.28 746.06L161.68 747.18L161.09 748.3L160.51 749.43L159.93 750.56L159.35 751.69L158.78 752.83L158.2 753.97L157.63 755.11L157.06 756.25L156.49 757.39L155.92 758.54L155.34 759.69L154.77 760.84L154.19 761.99L153.61 763.16L153.04 764.32L152.47 765.5L151.92 766.69L151.4 767.88L150.91 769.1L150.45 770.32L150.02 771.56L149.61 772.8L149.23 774.05L148.87 775.31L148.54 776.58L148.27 777.86L148.07 779.16L147.95 780.46L147.93 781.77L147.98 783.09L148.1 784.41L148.27 785.73L148.48 787.04L148.73 788.35L149.02 789.65L149.37 790.94L149.77 792.23L150.21 793.5L150.69 794.76L151.21 796.01L151.76 797.24L152.35 798.46L152.98 799.66L153.66 800.85L154.4 802.01L155.18 803.15L155.99 804.27L156.82 805.37L157.66 806.45L158.51 807.52L159.37 808.56L160.27 809.58L161.19 810.57L162.14 811.54L163.11 812.48L164.1 813.4L165.09 814.3L166.08 815.18L167.07 816.04L168.07 816.88L169.09 817.69L170.14 818.47L171.23 819.22L172.35 819.93L173.51 820.61L174.67 821.26L175.84 821.89L176.99 822.5L178.13 823.09L179.24 823.67L180.34 824.23L181.43 824.78L182.51 825.3L183.6 825.81L184.69 826.28L185.78 826.74L186.87 827.17L187.96 827.58L189.04 827.98L190.1 828.37L191.14 828.75L192.16 829.11L193.16 829.48L194.14 829.83L195.1 830.18L196.05 830.52L196.97 830.86L197.89 831.18L198.8 831.5L199.71 831.8L200.61 832.08L201.51 832.35L202.41 832.6L203.31 832.84L204.19 833.07L205.07 833.29L205.93 833.51L206.78 833.72L207.62 833.93L208.44 834.13L209.25 834.33L210.06 834.53L210.84 834.73L211.62 834.92L212.39 835.11L213.15 835.3L213.9 835.49L214.64 835.67L215.37 835.86L216.1 836.03L216.82 836.21L217.53 836.38L218.24 836.54L218.95 836.69L219.66 836.83L220.37 836.96L221.07 837.08L221.77 837.2L222.47 837.31L223.15 837.42L223.83 837.53L224.51 837.64L225.18 837.75L225.84 837.86L226.5 837.96L227.16 838.07L227.81 838.18L228.45 838.28L229.09 838.39L229.73 838.49L230.36 838.59L230.99 838.7L231.62 838.8L232.25 838.9L232.87 839.01L233.49 839.11L234.11 839.2L234.73 839.29L235.35 839.38L235.97 839.46L236.58 839.53L237.2 839.6L237.82 839.66L238.43 839.72L239.05 839.79L239.66 839.85L240.27 839.91L240.88 839.97L241.49 840.03L242.1 840.09L242.71 840.15L243.32 840.21L243.93 840.27L244.55 840.33L245.16 840.39L245.77 840.44L246.38 840.49L247 840.54L247.62 840.59L248.23 840.63L248.85 840.67L249.47 840.71L250.1 840.75L250.72 840.79L251.35 840.84L251.98 840.88L252.61 840.92L253.25 840.96L253.89 841.01L254.53 841.05L255.18 841.09L255.83 841.14L256.48 841.18L257.14 841.23L257.81 841.27L258.48 841.32L259.16 841.36L259.84 841.41L260.52 841.45L261.22 841.5L261.92 841.55L262.63 841.6L263.34 841.64L264.07 841.69L264.8 841.74L265.54 841.79L266.29 841.84L267.04 841.89L267.81 841.93L268.58 841.96L269.36 841.99L270.14 842.02L270.93 842.04L271.74 842.05L272.55 842.06L273.38 842.08L274.21 842.09L275.06 842.1L275.92 842.12L276.8 842.13L277.69 842.14L278.6 842.16L279.52 842.17L280.46 842.19L281.42 842.2L282.4 842.22L283.39 842.24L284.41 842.25L285.43 842.25L286.47 842.24L287.49 842.18L288.5 842.09L289.5 841.96L290.49 841.8L291.49 841.63L292.53 841.47L293.6 841.33L294.7 841.2L295.85 841.09L297.02 840.97L298.23 840.85L299.46 840.73L300.72 840.61L302.01 840.48L303.34 840.36L304.7 840.22L306.1 840.09L307.53 839.95L309.01 839.8L310.53 839.66L312.09 839.5L313.7 839.34L315.36 839.18L317.06 839L318.8 838.8L320.56 838.58L322.34 838.33L324.14 838.03L325.94 837.71L327.75 837.34L329.59 836.95L331.46 836.54L333.38 836.1L335.36 835.64L337.39 835.17L339.48 834.68L341.63 834.16L343.81 833.6L346.01 833L348.22 832.35L350.42 831.65L352.62 830.9L354.81 830.1L357 829.24L359.18 828.33L361.33 827.37L363.44 826.34L365.5 825.25L367.5 824.1L369.43 822.89L371.28 821.62L373.04 820.29L374.69 818.9L376.22 817.45L377.62 815.94L378.9 814.39L380.07 812.79L381.11 811.16L382.02 809.48L382.77 807.77L383.37 806.03L383.8 804.27L384.06 802.48L384.17 800.69L384.13 798.89L383.97 797.09L383.7 795.29Z"/>
<path fill="#00afff" stroke="#000" stroke-opacity="0.75" stroke-width="0.5" stroke-linejoin="round" d="M374.26 793.5L373.82 791.84L373.31 790.19L372.74 788.56L372.11 786.94L371.42 785.34L370.7 783.76L369.95 782.2L369.19 780.66L368.43 779.13L367.68 777.61L366.93 776.11L366.18 774.62L365.44 773.15L364.71 771.68L363.98 770.23L363.26 768.79L362.54 767.36L361.83 765.93L361.11 764.52L360.4 763.11L359.68 761.72L358.95 760.34L358.19 758.98L357.39 757.63L356.55 756.31L355.66 755.02L354.74 753.75L353.8 752.5L352.84 751.27L351.88 750.06L350.92 748.85L349.96 747.66L349 746.48L348.03 745.31L347.04 744.16L346.01 743.05L344.9 741.99L343.7 741L342.38 740.09L340.95 739.26L339.43 738.51L337.85 737.83L336.24 737.19L334.64 736.59L333.05 736L331.49 735.43L329.97 734.87L328.48 734.3L327.04 733.73L325.66 733.15L324.34 732.53L323.08 731.89L321.89 731.21L320.75 730.51L319.65 729.79L318.57 729.06L317.51 728.33L316.45 727.59L315.41 726.86L314.37 726.13L313.33 725.41L312.3 724.69L311.27 723.97L310.25 723.25L309.23 722.54L308.22 721.82L307.22 721.1L306.21 720.38L305.22 719.65L304.22 718.93L303.23 718.21L302.22 717.49L301.21 716.79L300.19 716.11L299.15 715.45L298.1 714.82L297.03 714.2L295.97 713.6L294.89 713L293.82 712.41L292.75 711.82L291.67 711.23L290.6 710.64L289.52 710.05L288.44 709.46L287.37 708.87L286.28 708.29L285.2 707.71L284.1 707.14L283.01 706.57L281.9 706.01L280.8 705.45L279.69 704.89L278.57 704.34L277.46 703.78L276.34 703.21L275.21 702.65L274.08 702.09L272.94 701.52L271.79 700.96L270.64 700.42L269.47 699.89L268.29 699.39L267.1 698.93L265.9 698.49L264.68 698.08L263.46 697.69L262.23 697.31L261 696.94L259.76 696.56L258.52 696.19L257.27 695.81L256.01 695.44L254.75 695.06L253.48 694.67L252.2 694.29L250.91 693.9L249.62 693.52L248.31 693.13L247 692.76L245.68 692.39L244.34 692.06L243 691.75L241.65 691.49L240.3 691.26L238.94 691.05L237.57 690.87L236.2 690.7L234.81 690.54L233.42 690.38L232.02 690.21L230.62 690.05L229.2 689.89L227.77 689.73L226.33 689.58L224.89 689.46L223.44 689.38L222 689.35L220.56 689.38L219.13 689.48L217.71 689.64L216.3 689.85L214.89 690.08L213.48 690.34L212.08 690.63L210.68 690.94L209.29 691.29L207.92 691.69L206.56 692.15L205.24 692.68L203.94 693.28L202.69 693.97L201.48 694.76L200.33 695.65L199.24 696.66L198.22 697.76L197.24 698.93L196.31 700.14L195.41 701.38L194.53 702.62L193.68 703.87L192.84 705.13L192.04 706.39L191.26 707.67L190.51 708.96L189.78 710.25L189.08 711.54L188.39 712.82L187.71 714.1L187.04 715.35L186.37 716.6L185.72 717.83L185.07 719.04L184.43 720.24L183.8 721.43L183.17 722.61L182.55 723.78L181.94 724.94L181.32 726.08L180.72 727.22L180.11 728.34L179.5 729.44L178.89 730.54L178.27 731.61L177.64 732.68L177.02 733.73L176.39 734.77L175.75 735.81L175.12 736.84L174.49 737.86L173.86 738.89L173.23 739.91L172.61 740.92L171.98 741.94L171.36 742.96L170.73 743.97L170.11 744.98L169.48 746L168.86 747.01L168.24 748.03L167.62 749.05L167.01 750.07L166.41 751.1L165.82 752.14L165.24 753.18L164.68 754.23L164.13 755.29L163.58 756.36L163.04 757.43L162.5 758.5L161.97 759.58L161.43 760.65L160.89 761.73L160.35 762.81L159.8 763.9L159.26 764.99L158.71 766.09L158.16 767.18L157.61 768.29L157.06 769.4L156.52 770.52L155.98 771.65L155.45 772.78L154.93 773.93L154.42 775.09L153.95 776.26L153.54 777.44L153.21 778.64L152.97 779.87L152.85 781.11L152.84 782.36L152.92 783.61L153.06 784.87L153.25 786.12L153.49 787.37L153.78 788.61L154.12 789.85L154.51 791.08L154.95 792.3L155.43 793.5L155.94 794.69L156.48 795.87L157.05 797.03L157.65 798.18L158.3 799.31L158.98 800.43L159.71 801.52L160.47 802.6L161.24 803.65L162.03 804.69L162.83 805.7L163.65 806.7L164.5 807.68L165.39 808.63L166.32 809.55L167.29 810.44L168.28 811.31L169.28 812.16L170.28 812.98L171.28 813.79L172.28 814.57L173.29 815.33L174.31 816.07L175.36 816.78L176.44 817.45L177.53 818.1L178.63 818.72L179.73 819.32L180.82 819.9L181.89 820.47L182.94 821.02L183.97 821.56L185 822.08L186.01 822.59L187.03 823.07L188.06 823.53L189.1 823.96L190.14 824.37L191.17 824.76L192.2 825.14L193.22 825.5L194.21 825.85L195.19 826.19L196.15 826.52L197.08 826.85L198 827.17L198.9 827.49L199.79 827.8L200.66 828.1L201.52 828.39L202.38 828.68L203.23 828.94L204.09 829.19L204.94 829.42L205.79 829.64L206.63 829.85L207.46 830.05L208.29 830.24L209.09 830.43L209.89 830.61L210.67 830.79L211.44 830.97L212.2 831.15L212.95 831.32L213.68 831.49L214.41 831.66L215.13 831.82L215.83 831.99L216.53 832.15L217.22 832.31L217.9 832.47L218.57 832.63L219.24 832.78L219.9 832.93L220.56 833.08L221.21 833.21L221.86 833.34L222.51 833.47L223.16 833.58L223.8 833.69L224.44 833.79L225.07 833.88L225.7 833.98L226.33 834.08L226.94 834.17L227.56 834.26L228.16 834.36L228.77 834.45L229.37 834.54L229.96 834.63L230.55 834.72L231.14 834.81L231.73 834.9L232.31 834.99L232.88 835.08L233.46 835.17L234.03 835.26L234.6 835.35L235.17 835.44L235.74 835.52L236.31 835.61L236.87 835.7L237.43 835.78L237.99 835.87L238.55 835.96L239.12 836.04L239.68 836.13L240.24 836.21L240.8 836.29L241.36 836.36L241.92 836.44L242.48 836.51L243.04 836.59L243.6 836.67L244.17 836.74L244.73 836.82L245.3 836.89L245.86 836.95L246.43 837.01L247 837.05L247.57 837.1L248.14 837.13L248.72 837.17L249.29 837.2L249.87 837.24L250.44 837.27L251.02 837.3L251.61 837.34L252.19 837.37L252.78 837.41L253.37 837.44L253.97 837.48L254.56 837.52L255.16 837.55L255.77 837.59L256.38 837.63L256.99 837.66L257.61 837.7L258.24 837.74L258.86 837.78L259.5 837.82L260.14 837.86L260.78 837.89L261.44 837.93L262.1 837.97L262.76 838.02L263.44 838.06L264.12 838.1L264.81 838.14L265.51 838.18L266.22 838.23L266.93 838.27L267.65 838.3L268.39 838.34L269.12 838.36L269.87 838.38L270.62 838.4L271.39 838.42L272.16 838.43L272.95 838.44L273.75 838.45L274.56 838.47L275.38 838.48L276.22 838.49L277.07 838.51L277.94 838.52L278.83 838.53L279.73 838.55L280.65 838.56L281.59 838.58L282.55 838.6L283.53 838.62L284.54 838.63L285.55 838.64L286.58 838.63L287.61 838.6L288.63 838.53L289.64 838.43L290.65 838.31L291.68 838.18L292.73 838.05L293.82 837.93L294.94 837.81L296.09 837.7L297.27 837.59L298.48 837.47L299.73 837.35L301 837.23L302.31 837.1L303.65 836.97L305.03 836.83L306.45 836.7L307.91 836.55L309.41 836.39L310.95 836.23L312.51 836.04L314.09 835.83L315.7 835.6L317.32 835.34L318.96 835.05L320.64 834.74L322.35 834.41L324.11 834.07L325.92 833.71L327.79 833.34L329.72 832.96L331.71 832.55L333.74 832.12L335.8 831.65L337.87 831.14L339.93 830.58L341.98 829.96L344.01 829.29L346.02 828.57L348.04 827.8L350.05 826.98L352.05 826.12L354.02 825.2L355.95 824.23L357.84 823.2L359.67 822.12L361.46 820.98L363.19 819.79L364.84 818.55L366.4 817.25L367.86 815.9L369.21 814.5L370.43 813.05L371.54 811.56L372.51 810.02L373.34 808.45L374.03 806.85L374.56 805.22L374.93 803.57L375.15 801.9L375.22 800.22L375.14 798.53L374.94 796.85L374.64 795.17Z"/>
<path fill="#00dfff" stroke="#000" stroke-opacity="0.75" stroke-width="0.5" stroke-linejoin="round" d="M365.89 793.5L365.48 791.95L365.01 790.41L364.49 788.88L363.91 787.37L363.28 785.88L362.61 784.4L361.92 782.94L361.21 781.5L360.49 780.07L359.77 778.65L359.05 777.25L358.3 775.87L357.54 774.51L356.74 773.16L355.92 771.84L355.07 770.53L354.2 769.24L353.33 767.97L352.46 766.72L351.59 765.48L350.73 764.25L349.87 763.03L349.02 761.82L348.16 760.63L347.3 759.45L346.42 758.29L345.52 757.15L344.6 756.03L343.65 754.94L342.69 753.87L341.71 752.81L340.74 751.77L339.76 750.74L338.79 749.72L337.83 748.71L336.88 747.7L335.93 746.71L334.99 745.73L334.05 744.75L333.09 743.79L332.12 742.86L331.09 741.97L330 741.13L328.82 740.36L327.56 739.67L326.22 739.05L324.83 738.49L323.42 737.98L322 737.5L320.59 737.03L319.2 736.58L317.83 736.14L316.48 735.71L315.16 735.29L313.86 734.87L312.58 734.45L311.34 734.03L310.13 733.59L308.99 733.12L307.9 732.6L306.89 732.02L305.95 731.38L305.06 730.69L304.22 729.96L303.39 729.21L302.56 728.45L301.72 727.71L300.85 727L299.95 726.33L299.01 725.72L298.03 725.16L297.03 724.64L296.01 724.15L294.98 723.68L293.95 723.23L292.93 722.78L291.91 722.33L290.89 721.88L289.87 721.44L288.86 720.99L287.85 720.55L286.85 720.11L285.85 719.66L284.85 719.22L283.85 718.77L282.85 718.33L281.86 717.88L280.87 717.44L279.87 716.99L278.88 716.54L277.88 716.09L276.89 715.65L275.89 715.2L274.89 714.75L273.89 714.3L272.88 713.85L271.87 713.4L270.86 712.96L269.83 712.54L268.8 712.13L267.76 711.76L266.71 711.42L265.65 711.1L264.58 710.8L263.51 710.52L262.43 710.25L261.35 709.97L260.27 709.7L259.19 709.43L258.1 709.16L257.01 708.89L255.92 708.62L254.82 708.34L253.72 708.08L252.62 707.81L251.5 707.55L250.39 707.3L249.26 707.06L248.13 706.82L247 706.59L245.86 706.36L244.71 706.13L243.56 705.9L242.4 705.66L241.23 705.43L240.05 705.2L238.87 704.98L237.68 704.78L236.48 704.63L235.29 704.53L234.1 704.51L232.91 704.55L231.73 704.66L230.56 704.82L229.4 705.01L228.23 705.21L227.07 705.42L225.91 705.64L224.74 705.86L223.58 706.1L222.42 706.34L221.26 706.61L220.11 706.91L218.97 707.25L217.86 707.64L216.76 708.09L215.68 708.6L214.62 709.14L213.58 709.73L212.55 710.34L211.55 710.98L210.56 711.65L209.6 712.36L208.66 713.11L207.74 713.9L206.85 714.71L205.98 715.54L205.12 716.37L204.27 717.19L203.42 718.02L202.59 718.85L201.77 719.69L200.97 720.54L200.18 721.41L199.42 722.29L198.68 723.19L197.95 724.1L197.24 725.01L196.54 725.92L195.84 726.83L195.15 727.72L194.46 728.62L193.78 729.51L193.11 730.4L192.44 731.29L191.78 732.17L191.13 733.06L190.49 733.95L189.85 734.83L189.22 735.72L188.59 736.6L187.97 737.48L187.34 738.35L186.72 739.23L186.1 740.1L185.49 740.96L184.87 741.83L184.26 742.69L183.64 743.55L183.02 744.41L182.41 745.27L181.79 746.13L181.18 746.98L180.56 747.84L179.95 748.7L179.33 749.56L178.72 750.42L178.1 751.28L177.48 752.14L176.86 753L176.24 753.87L175.61 754.74L174.99 755.61L174.36 756.49L173.74 757.37L173.1 758.25L172.47 759.14L171.84 760.03L171.2 760.93L170.55 761.83L169.91 762.74L169.26 763.66L168.6 764.58L167.95 765.51L167.29 766.44L166.64 767.39L165.99 768.34L165.33 769.31L164.68 770.28L164.02 771.27L163.36 772.26L162.69 773.26L162.01 774.27L161.33 775.29L160.64 776.32L159.96 777.37L159.32 778.43L158.74 779.52L158.28 780.64L157.97 781.78L157.83 782.95L157.83 784.13L157.95 785.32L158.15 786.51L158.43 787.69L158.76 788.88L159.14 790.05L159.57 791.21L160.04 792.36L160.55 793.5L161.07 794.62L161.62 795.74L162.2 796.83L162.81 797.91L163.47 798.98L164.16 800.02L164.88 801.05L165.63 802.05L166.39 803.04L167.16 804.01L167.95 804.96L168.76 805.89L169.6 806.8L170.49 807.68L171.42 808.53L172.37 809.36L173.34 810.17L174.31 810.95L175.27 811.72L176.24 812.46L177.21 813.18L178.19 813.88L179.19 814.56L180.21 815.2L181.26 815.82L182.32 816.4L183.38 816.97L184.43 817.52L185.47 818.05L186.48 818.57L187.48 819.07L188.46 819.56L189.43 820.04L190.4 820.5L191.38 820.93L192.35 821.34L193.33 821.73L194.32 822.11L195.29 822.46L196.25 822.8L197.2 823.13L198.12 823.45L199.03 823.77L199.91 824.08L200.78 824.38L201.64 824.68L202.47 824.97L203.29 825.25L204.11 825.53L204.91 825.8L205.71 826.05L206.51 826.29L207.31 826.51L208.11 826.72L208.9 826.91L209.7 827.09L210.48 827.26L211.25 827.43L212.01 827.59L212.75 827.75L213.48 827.91L214.2 828.06L214.91 828.21L215.61 828.36L216.3 828.51L216.97 828.66L217.64 828.8L218.3 828.94L218.95 829.08L219.59 829.22L220.22 829.36L220.85 829.49L221.47 829.63L222.08 829.76L222.69 829.89L223.29 830.02L223.88 830.14L224.47 830.26L225.06 830.37L225.65 830.48L226.23 830.59L226.81 830.69L227.38 830.79L227.95 830.88L228.52 830.98L229.08 831.07L229.64 831.17L230.19 831.26L230.74 831.35L231.28 831.44L231.83 831.54L232.36 831.63L232.9 831.72L233.43 831.81L233.97 831.9L234.49 831.99L235.02 832.08L235.55 832.17L236.07 832.26L236.59 832.34L237.11 832.43L237.63 832.52L238.15 832.61L238.67 832.7L239.19 832.79L239.7 832.87L240.22 832.96L240.74 833.04L241.26 833.12L241.77 833.2L242.29 833.28L242.81 833.35L243.33 833.43L243.85 833.5L244.37 833.58L244.9 833.65L245.42 833.72L245.95 833.78L246.47 833.83L247 833.87L247.53 833.91L248.06 833.94L248.59 833.97L249.12 834L249.66 834.02L250.19 834.05L250.73 834.08L251.27 834.11L251.81 834.14L252.35 834.16L252.9 834.19L253.45 834.22L254 834.25L254.56 834.28L255.12 834.31L255.68 834.34L256.25 834.37L256.82 834.41L257.4 834.44L257.98 834.47L258.56 834.5L259.15 834.53L259.75 834.56L260.35 834.6L260.96 834.63L261.58 834.66L262.2 834.7L262.83 834.73L263.46 834.77L264.11 834.8L264.76 834.84L265.42 834.87L266.09 834.91L266.77 834.95L267.45 834.98L268.15 835.01L268.85 835.03L269.56 835.05L270.28 835.07L271.01 835.09L271.75 835.1L272.5 835.11L273.26 835.12L274.04 835.13L274.83 835.15L275.63 835.16L276.45 835.17L277.29 835.19L278.14 835.2L279.01 835.21L279.9 835.23L280.8 835.24L281.73 835.26L282.68 835.28L283.65 835.29L284.65 835.31L285.65 835.32L286.67 835.31L287.69 835.27L288.69 835.19L289.69 835.09L290.69 834.96L291.7 834.82L292.75 834.69L293.83 834.57L294.95 834.45L296.1 834.34L297.29 834.23L298.52 834.11L299.77 833.99L301.05 833.86L302.37 833.73L303.71 833.58L305.08 833.42L306.47 833.24L307.88 833.03L309.31 832.81L310.77 832.58L312.25 832.32L313.78 832.06L315.35 831.78L316.98 831.49L318.65 831.2L320.38 830.89L322.17 830.57L324 830.23L325.88 829.87L327.79 829.47L329.71 829.03L331.62 828.55L333.52 828.02L335.4 827.43L337.28 826.81L339.16 826.14L341.05 825.42L342.93 824.67L344.79 823.87L346.62 823.01L348.4 822.1L350.13 821.13L351.82 820.12L353.48 819.06L355.09 817.96L356.66 816.81L358.15 815.61L359.56 814.36L360.88 813.07L362.1 811.73L363.2 810.35L364.18 808.93L365.01 807.47L365.69 805.97L366.21 804.45L366.57 802.91L366.78 801.35L366.83 799.78L366.74 798.2L366.54 796.63L366.25 795.06Z"/>
<path fill="#10ffef" stroke="#000" stroke-opacity="0.75" stroke-width="0.5" stroke-linejoin="round" d="M357.71 793.5L357.25 792.06L356.75 790.63L356.18 789.21L355.55 787.81L354.86 786.43L354.13 785.07L353.36 783.73L352.57 782.4L351.78 781.1L350.99 779.81L350.21 778.54L349.43 777.28L348.65 776.03L347.87 774.8L347.08 773.59L346.29 772.39L345.49 771.21L344.69 770.05L343.89 768.89L343.1 767.75L342.31 766.62L341.52 765.5L340.74 764.39L339.97 763.29L339.2 762.2L338.43 761.12L337.66 760.05L336.87 759L336.05 757.97L335.19 756.97L334.31 755.99L333.38 755.04L332.44 754.11L331.48 753.21L330.51 752.32L329.55 751.44L328.6 750.57L327.65 749.71L326.71 748.86L325.78 748.02L324.86 747.18L323.94 746.35L323.04 745.53L322.13 744.71L321.23 743.9L320.32 743.11L319.38 742.35L318.41 741.62L317.38 740.95L316.27 740.35L315.09 739.82L313.85 739.36L312.57 738.97L311.26 738.62L309.95 738.29L308.66 737.98L307.38 737.68L306.13 737.39L304.9 737.09L303.7 736.8L302.53 736.5L301.39 736.18L300.3 735.84L299.24 735.48L298.21 735.1L297.22 734.71L296.24 734.3L295.28 733.88L294.32 733.47L293.38 733.06L292.44 732.64L291.51 732.24L290.59 731.83L289.66 731.42L288.75 731.02L287.83 730.62L286.92 730.23L286.01 729.84L285.11 729.45L284.2 729.07L283.29 728.7L282.39 728.33L281.48 727.96L280.58 727.6L279.68 727.24L278.78 726.88L277.88 726.52L276.98 726.16L276.09 725.8L275.19 725.44L274.3 725.08L273.4 724.72L272.5 724.37L271.61 724.01L270.71 723.66L269.8 723.32L268.89 722.99L267.98 722.69L267.05 722.4L266.12 722.13L265.19 721.87L264.26 721.63L263.32 721.39L262.38 721.15L261.44 720.92L260.5 720.68L259.55 720.45L258.61 720.21L257.66 719.97L256.71 719.73L255.76 719.5L254.8 719.26L253.84 719.03L252.88 718.8L251.91 718.59L250.94 718.39L249.96 718.21L248.98 718.04L247.99 717.88L247 717.72L246.01 717.57L245.01 717.42L244 717.27L243 717.12L241.98 716.96L240.96 716.81L239.94 716.65L238.91 716.5L237.87 716.37L236.83 716.26L235.79 716.19L234.75 716.19L233.72 716.24L232.7 716.36L231.69 716.53L230.68 716.73L229.68 716.96L228.69 717.21L227.69 717.48L226.71 717.77L225.73 718.09L224.77 718.44L223.81 718.81L222.86 719.21L221.92 719.62L220.99 720.04L220.06 720.47L219.13 720.91L218.22 721.36L217.31 721.82L216.41 722.3L215.52 722.8L214.64 723.31L213.77 723.83L212.9 724.36L212.04 724.88L211.18 725.42L210.33 725.96L209.49 726.52L208.66 727.09L207.84 727.68L207.03 728.28L206.24 728.89L205.45 729.51L204.66 730.14L203.88 730.76L203.1 731.38L202.32 732L201.54 732.62L200.76 733.23L199.97 733.85L199.19 734.46L198.41 735.08L197.64 735.7L196.88 736.35L196.15 737.03L195.46 737.74L194.81 738.5L194.2 739.3L193.62 740.12L193.06 740.95L192.5 741.78L191.95 742.61L191.38 743.42L190.81 744.22L190.22 745.01L189.63 745.79L189.04 746.56L188.44 747.34L187.85 748.11L187.25 748.88L186.65 749.66L186.05 750.42L185.44 751.19L184.8 751.94L184.14 752.68L183.44 753.4L182.71 754.1L181.94 754.79L181.16 755.49L180.4 756.2L179.68 756.95L179.02 757.74L178.44 758.57L177.92 759.43L177.44 760.32L177 761.23L176.57 762.14L176.12 763.05L175.65 763.95L175.13 764.83L174.55 765.69L173.91 766.54L173.21 767.37L172.47 768.2L171.68 769.03L170.87 769.86L170.06 770.71L169.25 771.57L168.48 772.46L167.75 773.37L167.09 774.31L166.47 775.28L165.86 776.25L165.23 777.23L164.54 778.22L163.85 779.21L163.22 780.23L162.73 781.28L162.44 782.37L162.34 783.48L162.4 784.61L162.59 785.74L162.85 786.88L163.18 788.01L163.56 789.13L163.99 790.24L164.46 791.34L164.95 792.43L165.48 793.5L166.02 794.56L166.59 795.61L167.2 796.64L167.84 797.65L168.52 798.64L169.24 799.62L169.98 800.58L170.73 801.52L171.49 802.44L172.26 803.34L173.05 804.22L173.86 805.08L174.7 805.92L175.58 806.74L176.47 807.53L177.39 808.3L178.3 809.04L179.21 809.77L180.12 810.49L181.03 811.18L181.95 811.85L182.88 812.49L183.85 813.11L184.84 813.7L185.85 814.26L186.86 814.8L187.87 815.31L188.87 815.81L189.84 816.3L190.8 816.78L191.74 817.24L192.67 817.69L193.58 818.12L194.5 818.54L195.42 818.93L196.35 819.31L197.28 819.66L198.21 819.99L199.12 820.31L200.03 820.62L200.91 820.92L201.78 821.21L202.63 821.49L203.47 821.77L204.28 822.04L205.08 822.31L205.86 822.57L206.63 822.83L207.39 823.08L208.14 823.32L208.88 823.55L209.63 823.77L210.37 823.97L211.11 824.15L211.85 824.33L212.58 824.49L213.3 824.65L214.01 824.8L214.71 824.95L215.4 825.1L216.08 825.25L216.74 825.39L217.39 825.53L218.04 825.67L218.67 825.8L219.29 825.94L219.91 826.07L220.52 826.2L221.12 826.33L221.71 826.46L222.29 826.59L222.87 826.71L223.44 826.84L224 826.96L224.56 827.08L225.11 827.2L225.66 827.32L226.21 827.43L226.75 827.54L227.28 827.65L227.82 827.75L228.35 827.85L228.88 827.95L229.4 828.04L229.92 828.13L230.44 828.23L230.95 828.32L231.46 828.41L231.96 828.5L232.47 828.59L232.97 828.67L233.46 828.76L233.96 828.85L234.45 828.94L234.94 829.02L235.43 829.11L235.92 829.2L236.4 829.28L236.88 829.37L237.36 829.46L237.84 829.55L238.32 829.64L238.8 829.73L239.28 829.82L239.76 829.91L240.24 829.99L240.72 830.07L241.19 830.15L241.67 830.23L242.15 830.32L242.63 830.4L243.11 830.48L243.59 830.57L244.08 830.65L244.56 830.73L245.05 830.8L245.53 830.86L246.02 830.92L246.51 830.97L247 831.01L247.49 831.05L247.98 831.08L248.48 831.11L248.97 831.14L249.47 831.16L249.97 831.19L250.47 831.22L250.97 831.25L251.47 831.28L251.98 831.31L252.49 831.34L253 831.37L253.51 831.4L254.03 831.44L254.55 831.47L255.08 831.5L255.61 831.53L256.14 831.56L256.68 831.6L257.22 831.63L257.76 831.66L258.31 831.7L258.87 831.73L259.43 831.76L260 831.8L260.57 831.83L261.16 831.87L261.74 831.91L262.34 831.94L262.94 831.98L263.55 832.02L264.17 832.05L264.79 832.09L265.43 832.13L266.07 832.17L266.72 832.21L267.38 832.25L268.05 832.28L268.73 832.3L269.42 832.33L270.11 832.35L270.81 832.36L271.53 832.37L272.25 832.39L272.99 832.4L273.74 832.41L274.51 832.42L275.29 832.43L276.08 832.45L276.89 832.46L277.72 832.47L278.57 832.49L279.44 832.5L280.32 832.51L281.23 832.53L282.16 832.55L283.11 832.56L284.09 832.58L285.09 832.6L286.1 832.6L287.13 832.59L288.15 832.55L289.17 832.49L290.2 832.4L291.23 832.29L292.29 832.18L293.38 832.07L294.5 831.97L295.66 831.86L296.85 831.75L298.07 831.64L299.33 831.52L300.61 831.39L301.93 831.25L303.28 831.1L304.65 830.94L306.04 830.75L307.45 830.54L308.87 830.31L310.32 830.06L311.79 829.78L313.29 829.49L314.83 829.19L316.42 828.87L318.04 828.53L319.69 828.17L321.36 827.78L323.03 827.35L324.71 826.89L326.38 826.38L328.07 825.84L329.77 825.27L331.51 824.68L333.27 824.05L335.05 823.39L336.83 822.69L338.6 821.94L340.34 821.15L342.03 820.3L343.68 819.4L345.28 818.46L346.85 817.47L348.37 816.44L349.83 815.36L351.22 814.23L352.52 813.06L353.73 811.84L354.84 810.58L355.85 809.28L356.74 807.95L357.49 806.58L358.09 805.18L358.53 803.75L358.81 802.3L358.93 800.84L358.9 799.36L358.73 797.89L358.46 796.42L358.12 794.95Z"/>
<path fill="#40ffbf" stroke="#000" stroke-opacity="0.75" stroke-width="0.5" stroke-linejoin="round" d="M352.1 793.5L351.62 792.13L351.09 790.77L350.5 789.43L349.86 788.11L349.15 786.8L348.39 785.52L347.6 784.26L346.78 783.01L345.96 781.79L345.14 780.58L344.34 779.39L343.54 778.21L342.74 777.05L341.96 775.9L341.18 774.77L340.4 773.65L339.61 772.54L338.83 771.45L338.04 770.38L337.25 769.32L336.46 768.27L335.68 767.23L334.9 766.21L334.13 765.19L333.36 764.18L332.6 763.19L331.84 762.2L331.07 761.23L330.28 760.28L329.45 759.35L328.58 758.45L327.68 757.58L326.73 756.74L325.77 755.93L324.8 755.13L323.83 754.35L322.87 753.58L321.91 752.83L320.97 752.08L320.03 751.33L319.12 750.59L318.24 749.84L317.39 749.09L316.57 748.32L315.79 747.53L315.04 746.74L314.28 745.95L313.5 745.18L312.65 744.48L311.7 743.85L310.65 743.32L309.5 742.88L308.29 742.53L307.04 742.23L305.77 741.96L304.52 741.71L303.27 741.48L302.04 741.26L300.83 741.07L299.62 740.88L298.43 740.71L297.26 740.54L296.12 740.36L295.02 740.17L293.96 739.95L292.94 739.71L291.95 739.45L290.99 739.18L290.05 738.89L289.14 738.59L288.24 738.27L287.36 737.95L286.49 737.62L285.63 737.29L284.78 736.96L283.93 736.63L283.08 736.31L282.24 735.99L281.4 735.68L280.55 735.38L279.71 735.09L278.87 734.8L278.03 734.51L277.2 734.23L276.36 733.96L275.53 733.68L274.71 733.4L273.88 733.13L273.06 732.85L272.24 732.57L271.42 732.3L270.6 732.03L269.78 731.75L268.96 731.49L268.14 731.22L267.32 730.97L266.49 730.74L265.65 730.52L264.82 730.33L263.98 730.14L263.14 729.97L262.29 729.8L261.45 729.63L260.61 729.45L259.78 729.27L258.94 729.09L258.1 728.91L257.26 728.73L256.42 728.54L255.58 728.36L254.73 728.17L253.89 727.99L253.04 727.81L252.18 727.64L251.33 727.48L250.47 727.34L249.6 727.21L248.74 727.09L247.87 726.98L247 726.88L246.13 726.78L245.25 726.68L244.37 726.58L243.49 726.48L242.6 726.38L241.71 726.27L240.81 726.16L239.91 726.05L239 725.95L238.09 725.86L237.18 725.79L236.27 725.77L235.37 725.8L234.47 725.88L233.58 726.01L232.69 726.18L231.81 726.37L230.93 726.58L230.06 726.81L229.2 727.06L228.34 727.34L227.49 727.64L226.65 727.97L225.82 728.31L224.99 728.65L224.16 728.99L223.32 729.33L222.49 729.66L221.67 730L220.84 730.35L220.02 730.71L219.21 731.08L218.4 731.46L217.58 731.83L216.77 732.2L215.95 732.56L215.13 732.93L214.32 733.31L213.51 733.7L212.71 734.11L211.92 734.53L211.13 734.97L210.35 735.42L209.57 735.87L208.79 736.31L208 736.76L207.21 737.2L206.41 737.64L205.61 738.07L204.8 738.5L203.98 738.93L203.16 739.36L202.34 739.8L201.52 740.25L200.72 740.72L199.94 741.23L199.2 741.79L198.51 742.4L197.86 743.06L197.26 743.76L196.67 744.47L196.09 745.19L195.51 745.9L194.92 746.61L194.32 747.3L193.7 747.98L193.08 748.66L192.45 749.33L191.82 750L191.19 750.68L190.56 751.35L189.92 752.03L189.27 752.7L188.61 753.37L187.92 754.02L187.2 754.67L186.44 755.29L185.64 755.9L184.8 756.5L183.95 757.1L183.12 757.73L182.35 758.4L181.65 759.12L181.04 759.89L180.52 760.72L180.05 761.57L179.62 762.44L179.2 763.31L178.77 764.18L178.3 765.04L177.79 765.89L177.21 766.71L176.58 767.52L175.87 768.31L175.12 769.1L174.34 769.89L173.54 770.69L172.73 771.5L171.94 772.33L171.18 773.19L170.5 774.07L169.89 774.99L169.35 775.93L168.82 776.88L168.26 777.84L167.65 778.79L167.01 779.75L166.42 780.74L165.96 781.75L165.7 782.8L165.62 783.87L165.7 784.95L165.88 786.05L166.14 787.14L166.46 788.22L166.84 789.3L167.26 790.37L167.71 791.42L168.2 792.47L168.72 793.5L169.26 794.52L169.83 795.52L170.45 796.51L171.1 797.48L171.79 798.43L172.51 799.36L173.25 800.28L174.01 801.17L174.77 802.05L175.54 802.91L176.33 803.75L177.15 804.56L178 805.36L178.87 806.13L179.78 806.87L180.69 807.59L181.6 808.3L182.51 808.98L183.41 809.65L184.31 810.3L185.22 810.92L186.14 811.53L187.09 812.1L188.05 812.65L189.03 813.18L190 813.68L190.97 814.17L191.92 814.64L192.86 815.1L193.77 815.55L194.68 815.98L195.57 816.4L196.46 816.8L197.36 817.18L198.26 817.54L199.16 817.88L200.07 818.19L200.98 818.49L201.87 818.77L202.76 819.04L203.62 819.31L204.47 819.56L205.3 819.81L206.11 820.05L206.91 820.29L207.68 820.52L208.45 820.75L209.19 820.97L209.93 821.18L210.66 821.39L211.38 821.58L212.09 821.77L212.81 821.94L213.52 822.1L214.22 822.25L214.91 822.39L215.6 822.53L216.27 822.66L216.94 822.79L217.59 822.91L218.23 823.04L218.85 823.16L219.47 823.28L220.08 823.4L220.68 823.51L221.27 823.63L221.85 823.74L222.43 823.85L222.99 823.95L223.55 824.05L224.11 824.16L224.66 824.25L225.2 824.35L225.73 824.45L226.26 824.54L226.78 824.63L227.3 824.72L227.81 824.81L228.32 824.9L228.83 824.98L229.33 825.06L229.82 825.13L230.32 825.21L230.81 825.28L231.29 825.35L231.77 825.42L232.25 825.49L232.72 825.56L233.19 825.63L233.66 825.7L234.12 825.77L234.58 825.84L235.04 825.91L235.5 825.98L235.95 826.05L236.4 826.12L236.85 826.19L237.29 826.26L237.74 826.34L238.18 826.41L238.62 826.49L239.06 826.56L239.5 826.64L239.94 826.72L240.38 826.79L240.82 826.86L241.25 826.93L241.69 827.01L242.13 827.08L242.57 827.15L243.01 827.23L243.45 827.3L243.89 827.38L244.33 827.45L244.77 827.52L245.21 827.58L245.66 827.64L246.1 827.69L246.55 827.73L247 827.77L247.45 827.8L247.9 827.83L248.35 827.86L248.8 827.89L249.26 827.91L249.71 827.94L250.17 827.97L250.63 828.01L251.09 828.04L251.55 828.07L252.02 828.11L252.49 828.15L252.96 828.18L253.44 828.22L253.91 828.26L254.4 828.3L254.88 828.34L255.37 828.38L255.87 828.42L256.37 828.47L256.87 828.51L257.38 828.56L257.9 828.6L258.42 828.65L258.95 828.7L259.48 828.74L260.02 828.79L260.57 828.84L261.12 828.89L261.68 828.95L262.25 829L262.83 829.05L263.41 829.1L264.01 829.16L264.61 829.21L265.22 829.27L265.85 829.32L266.48 829.37L267.12 829.42L267.76 829.46L268.42 829.5L269.08 829.54L269.76 829.57L270.45 829.61L271.15 829.64L271.86 829.68L272.59 829.71L273.34 829.75L274.09 829.78L274.87 829.82L275.66 829.86L276.47 829.9L277.3 829.93L278.15 829.97L279.02 830.01L279.91 830.05L280.82 830.09L281.76 830.13L282.73 830.17L283.72 830.22L284.73 830.25L285.74 830.26L286.75 830.25L287.76 830.2L288.77 830.13L289.8 830.05L290.86 829.98L291.95 829.9L293.08 829.83L294.24 829.75L295.43 829.67L296.66 829.58L297.92 829.48L299.21 829.38L300.53 829.27L301.88 829.14L303.24 828.99L304.62 828.81L306.01 828.61L307.41 828.38L308.84 828.13L310.29 827.86L311.78 827.58L313.3 827.28L314.85 826.96L316.42 826.61L318 826.23L319.58 825.81L321.15 825.36L322.73 824.87L324.31 824.34L325.92 823.79L327.56 823.22L329.23 822.62L330.92 821.99L332.62 821.32L334.3 820.61L335.95 819.85L337.56 819.04L339.12 818.18L340.65 817.28L342.14 816.34L343.58 815.35L344.97 814.32L346.27 813.25L347.5 812.13L348.65 810.97L349.7 809.77L350.65 808.53L351.49 807.26L352.19 805.95L352.75 804.61L353.15 803.25L353.39 801.87L353.48 800.48L353.41 799.08L353.21 797.67L352.91 796.27L352.53 794.88Z"/>
<path fill="#70ff8f" stroke="#000" stroke-opacity="0.75" stroke-width="0.5" stroke-linejoin="round" d="M344.43 793.5L343.94 792.23L343.41 790.98L342.84 789.73L342.2 788.51L341.52 787.3L340.79 786.12L340.02 784.95L339.23 783.81L338.43 782.68L337.63 781.57L336.84 780.47L336.06 779.39L335.28 778.33L334.52 777.28L333.76 776.24L333.01 775.22L332.25 774.21L331.49 773.22L330.73 772.24L329.96 771.27L329.19 770.32L328.41 769.38L327.64 768.46L326.87 767.55L326.1 766.65L325.35 765.76L324.59 764.87L323.84 764.01L323.06 763.15L322.27 762.32L321.43 761.52L320.57 760.75L319.67 760L318.75 759.28L317.82 758.58L316.89 757.89L315.96 757.22L315.03 756.56L314.12 755.91L313.22 755.27L312.34 754.63L311.49 753.98L310.68 753.32L309.91 752.64L309.19 751.95L308.49 751.24L307.8 750.53L307.09 749.84L306.32 749.2L305.48 748.63L304.54 748.14L303.51 747.74L302.43 747.4L301.31 747.12L300.18 746.86L299.06 746.63L297.95 746.4L296.84 746.2L295.75 746.01L294.65 745.85L293.56 745.71L292.48 745.57L291.43 745.44L290.4 745.29L289.41 745.14L288.45 744.96L287.53 744.77L286.62 744.57L285.75 744.35L284.9 744.11L284.06 743.86L283.25 743.61L282.45 743.34L281.66 743.08L280.87 742.81L280.09 742.55L279.31 742.29L278.53 742.04L277.76 741.8L276.99 741.56L276.21 741.34L275.44 741.12L274.67 740.9L273.91 740.69L273.15 740.48L272.39 740.27L271.64 740.06L270.89 739.85L270.14 739.64L269.39 739.44L268.65 739.23L267.91 739.03L267.17 738.83L266.43 738.63L265.69 738.45L264.95 738.27L264.2 738.11L263.45 737.96L262.7 737.83L261.95 737.71L261.2 737.6L260.45 737.49L259.7 737.37L258.96 737.25L258.21 737.12L257.47 737L256.73 736.87L255.99 736.74L255.25 736.61L254.51 736.48L253.76 736.35L253.02 736.22L252.27 736.1L251.53 735.99L250.78 735.88L250.02 735.79L249.27 735.71L248.52 735.64L247.76 735.58L247 735.52L246.24 735.47L245.48 735.41L244.72 735.36L243.95 735.3L243.18 735.25L242.41 735.19L241.64 735.12L240.86 735.06L240.07 734.99L239.29 734.93L238.5 734.88L237.71 734.86L236.93 734.88L236.15 734.94L235.37 735.03L234.6 735.15L233.83 735.29L233.06 735.44L232.3 735.61L231.54 735.8L230.79 736.01L230.04 736.24L229.3 736.49L228.56 736.75L227.83 737.01L227.09 737.27L226.35 737.52L225.61 737.77L224.86 738.01L224.12 738.27L223.38 738.52L222.64 738.79L221.9 739.05L221.15 739.31L220.4 739.56L219.64 739.81L218.88 740.06L218.12 740.32L217.36 740.58L216.61 740.86L215.86 741.15L215.11 741.45L214.36 741.76L213.6 742.07L212.84 742.38L212.08 742.69L211.3 742.99L210.52 743.29L209.73 743.58L208.92 743.88L208.11 744.17L207.3 744.47L206.47 744.77L205.65 745.09L204.84 745.42L204.04 745.79L203.28 746.2L202.55 746.66L201.86 747.16L201.2 747.7L200.57 748.27L199.95 748.85L199.32 749.43L198.69 750.01L198.06 750.58L197.41 751.15L196.76 751.71L196.1 752.28L195.44 752.85L194.77 753.42L194.09 753.99L193.41 754.57L192.72 755.14L192.02 755.71L191.29 756.28L190.54 756.83L189.74 757.37L188.91 757.91L188.06 758.43L187.19 758.97L186.35 759.53L185.56 760.14L184.85 760.8L184.22 761.51L183.67 762.27L183.17 763.06L182.72 763.87L182.27 764.68L181.82 765.5L181.34 766.3L180.82 767.1L180.25 767.88L179.63 768.64L178.96 769.4L178.25 770.16L177.53 770.93L176.79 771.7L176.07 772.49L175.38 773.3L174.73 774.14L174.15 775L173.65 775.89L173.21 776.8L172.79 777.73L172.34 778.65L171.85 779.57L171.34 780.5L170.86 781.44L170.5 782.41L170.29 783.4L170.23 784.41L170.29 785.44L170.45 786.47L170.67 787.49L170.95 788.52L171.28 789.53L171.66 790.54L172.07 791.54L172.52 792.53L173.01 793.5L173.53 794.46L174.08 795.41L174.68 796.34L175.32 797.26L175.99 798.15L176.68 799.03L177.39 799.9L178.11 800.74L178.84 801.57L179.58 802.38L180.35 803.16L181.14 803.93L181.97 804.67L182.83 805.39L183.71 806.09L184.6 806.76L185.49 807.42L186.38 808.05L187.25 808.67L188.12 809.28L189 809.86L189.88 810.42L190.76 810.96L191.66 811.48L192.55 811.98L193.45 812.46L194.33 812.93L195.19 813.39L196.05 813.83L196.89 814.26L197.72 814.67L198.55 815.07L199.38 815.45L200.21 815.82L201.06 816.15L201.92 816.47L202.78 816.77L203.64 817.04L204.49 817.31L205.33 817.56L206.15 817.8L206.95 818.04L207.74 818.27L208.51 818.5L209.26 818.71L210 818.93L210.73 819.14L211.44 819.34L212.13 819.54L212.82 819.73L213.5 819.91L214.17 820.08L214.84 820.25L215.5 820.41L216.15 820.55L216.79 820.7L217.43 820.83L218.05 820.97L218.67 821.1L219.27 821.23L219.86 821.36L220.44 821.48L221.02 821.61L221.58 821.73L222.14 821.85L222.69 821.96L223.23 822.08L223.77 822.19L224.3 822.29L224.83 822.39L225.35 822.49L225.87 822.59L226.38 822.68L226.88 822.77L227.38 822.86L227.88 822.94L228.37 823.03L228.86 823.11L229.34 823.19L229.81 823.27L230.29 823.34L230.76 823.42L231.22 823.49L231.68 823.56L232.14 823.63L232.59 823.7L233.05 823.77L233.49 823.84L233.94 823.91L234.38 823.98L234.81 824.04L235.25 824.11L235.68 824.18L236.11 824.25L236.54 824.32L236.96 824.39L237.39 824.46L237.81 824.53L238.23 824.6L238.65 824.67L239.06 824.75L239.48 824.83L239.89 824.9L240.31 824.97L240.72 825.05L241.14 825.12L241.55 825.19L241.97 825.26L242.38 825.33L242.8 825.41L243.21 825.48L243.63 825.56L244.05 825.63L244.47 825.7L244.89 825.77L245.31 825.83L245.73 825.88L246.15 825.92L246.58 825.96L247 825.99L247.43 826.02L247.85 826.05L248.28 826.07L248.71 826.1L249.14 826.12L249.57 826.15L250 826.18L250.44 826.21L250.88 826.24L251.31 826.27L251.76 826.31L252.2 826.34L252.65 826.38L253.1 826.41L253.55 826.45L254.01 826.49L254.47 826.53L254.94 826.57L255.41 826.61L255.88 826.65L256.36 826.69L256.84 826.73L257.33 826.78L257.83 826.82L258.33 826.87L258.83 826.91L259.34 826.96L259.86 827.01L260.39 827.06L260.92 827.1L261.46 827.15L262 827.2L262.56 827.25L263.12 827.29L263.69 827.34L264.27 827.39L264.86 827.44L265.45 827.48L266.05 827.52L266.67 827.56L267.29 827.6L267.92 827.64L268.56 827.67L269.21 827.7L269.88 827.74L270.55 827.77L271.24 827.8L271.95 827.84L272.67 827.87L273.4 827.91L274.15 827.95L274.92 827.98L275.71 828.02L276.51 828.05L277.33 828.08L278.17 828.12L279.03 828.15L279.91 828.18L280.82 828.22L281.75 828.25L282.7 828.28L283.66 828.29L284.61 828.27L285.57 828.23L286.53 828.17L287.51 828.1L288.51 828.03L289.55 827.96L290.62 827.89L291.72 827.81L292.85 827.74L294.01 827.65L295.19 827.56L296.41 827.46L297.66 827.35L298.92 827.22L300.21 827.07L301.5 826.9L302.8 826.7L304.12 826.48L305.46 826.24L306.82 825.98L308.21 825.7L309.63 825.41L311.08 825.1L312.54 824.76L314 824.39L315.46 823.98L316.91 823.54L318.35 823.05L319.8 822.54L321.26 822L322.74 821.44L324.25 820.86L325.77 820.24L327.29 819.59L328.8 818.9L330.27 818.17L331.71 817.39L333.1 816.57L334.47 815.71L335.79 814.82L337.08 813.88L338.31 812.91L339.48 811.89L340.58 810.84L341.6 809.75L342.54 808.63L343.39 807.48L344.14 806.29L344.77 805.07L345.26 803.83L345.62 802.56L345.82 801.28L345.88 799.98L345.79 798.68L345.57 797.37L345.26 796.07L344.87 794.78Z"/>
<path fill="#9fff60" stroke="#000" stroke-opacity="0.75" stroke-width="0.5" stroke-linejoin="round" d="M337.3 793.5L336.81 792.32L336.29 791.16L335.73 790.01L335.13 788.88L334.48 787.77L333.78 786.67L333.06 785.59L332.3 784.53L331.53 783.49L330.76 782.47L329.99 781.47L329.23 780.48L328.47 779.5L327.73 778.54L326.98 777.59L326.24 776.66L325.5 775.74L324.75 774.83L324 773.95L323.23 773.07L322.46 772.22L321.67 771.38L320.89 770.56L320.1 769.75L319.31 768.95L318.54 768.17L317.76 767.39L316.99 766.63L316.21 765.89L315.42 765.16L314.6 764.46L313.76 763.78L312.9 763.12L312.02 762.49L311.13 761.87L310.23 761.28L309.33 760.7L308.44 760.14L307.55 759.59L306.68 759.04L305.83 758.5L305 757.96L304.19 757.41L303.42 756.86L302.68 756.3L301.96 755.73L301.24 755.17L300.51 754.62L299.75 754.11L298.94 753.64L298.08 753.24L297.16 752.88L296.21 752.58L295.24 752.3L294.27 752.05L293.3 751.81L292.34 751.58L291.4 751.37L290.45 751.17L289.5 751L288.56 750.84L287.62 750.69L286.7 750.55L285.8 750.41L284.91 750.27L284.05 750.12L283.21 749.96L282.39 749.8L281.59 749.63L280.8 749.45L280.04 749.26L279.29 749.06L278.54 748.87L277.81 748.67L277.09 748.47L276.36 748.28L275.65 748.1L274.93 747.92L274.22 747.75L273.51 747.59L272.8 747.44L272.09 747.29L271.39 747.14L270.69 747L270 746.86L269.31 746.72L268.63 746.58L267.95 746.44L267.28 746.3L266.61 746.16L265.94 746.02L265.28 745.89L264.61 745.76L263.95 745.64L263.29 745.52L262.62 745.42L261.96 745.32L261.3 745.24L260.63 745.17L259.97 745.1L259.31 745.04L258.65 744.98L257.99 744.91L257.34 744.84L256.69 744.77L256.04 744.7L255.4 744.63L254.75 744.55L254.11 744.48L253.46 744.4L252.82 744.33L252.18 744.26L251.53 744.19L250.89 744.13L250.24 744.08L249.59 744.03L248.94 744L248.3 743.97L247.65 743.95L247 743.92L246.35 743.9L245.7 743.88L245.05 743.86L244.4 743.84L243.74 743.82L243.09 743.79L242.43 743.77L241.77 743.74L241.11 743.71L240.44 743.68L239.77 743.65L239.1 743.64L238.43 743.65L237.77 743.68L237.1 743.73L236.44 743.8L235.77 743.87L235.11 743.96L234.44 744.06L233.78 744.17L233.12 744.3L232.47 744.44L231.81 744.59L231.16 744.76L230.51 744.92L229.86 745.09L229.2 745.25L228.54 745.41L227.88 745.57L227.21 745.73L226.55 745.9L225.88 746.06L225.21 746.23L224.53 746.39L223.85 746.55L223.16 746.7L222.46 746.86L221.76 747.01L221.06 747.17L220.35 747.34L219.65 747.52L218.94 747.71L218.23 747.9L217.51 748.09L216.78 748.28L216.05 748.46L215.3 748.65L214.55 748.83L213.78 749.02L213.01 749.2L212.23 749.39L211.43 749.58L210.63 749.77L209.82 749.97L209.01 750.18L208.21 750.42L207.42 750.69L206.66 750.99L205.92 751.33L205.21 751.71L204.51 752.11L203.83 752.53L203.15 752.96L202.47 753.4L201.79 753.85L201.1 754.3L200.41 754.75L199.71 755.2L199 755.66L198.29 756.12L197.57 756.59L196.84 757.06L196.1 757.53L195.35 758L194.58 758.47L193.79 758.94L192.97 759.41L192.12 759.87L191.26 760.34L190.39 760.82L189.55 761.33L188.76 761.88L188.02 762.47L187.36 763.11L186.76 763.79L186.21 764.5L185.69 765.24L185.19 765.98L184.68 766.72L184.16 767.47L183.61 768.21L183.03 768.94L182.42 769.67L181.78 770.4L181.13 771.14L180.47 771.88L179.84 772.64L179.22 773.42L178.65 774.22L178.13 775.05L177.67 775.89L177.28 776.76L176.93 777.65L176.61 778.54L176.28 779.43L175.93 780.33L175.56 781.22L175.22 782.13L174.96 783.05L174.8 783.99L174.74 784.95L174.78 785.91L174.89 786.87L175.06 787.84L175.28 788.8L175.56 789.76L175.87 790.71L176.23 791.65L176.64 792.58L177.08 793.5L177.57 794.41L178.1 795.3L178.67 796.18L179.28 797.05L179.92 797.9L180.58 798.73L181.26 799.54L181.94 800.34L182.63 801.12L183.34 801.88L184.08 802.62L184.85 803.34L185.65 804.04L186.49 804.72L187.35 805.37L188.22 805.99L189.09 806.6L189.96 807.2L190.81 807.77L191.66 808.33L192.5 808.87L193.33 809.4L194.16 809.91L194.99 810.4L195.81 810.88L196.62 811.34L197.42 811.79L198.2 812.23L198.98 812.66L199.74 813.07L200.51 813.47L201.28 813.86L202.05 814.22L202.84 814.56L203.64 814.88L204.45 815.18L205.27 815.46L206.08 815.72L206.89 815.96L207.69 816.2L208.47 816.42L209.24 816.64L209.98 816.85L210.72 817.06L211.43 817.26L212.14 817.46L212.83 817.65L213.5 817.84L214.16 818.02L214.81 818.2L215.46 818.37L216.09 818.53L216.71 818.69L217.33 818.84L217.94 818.99L218.54 819.13L219.12 819.27L219.7 819.4L220.27 819.54L220.83 819.67L221.38 819.8L221.92 819.93L222.46 820.05L222.98 820.17L223.5 820.29L224.02 820.41L224.53 820.52L225.03 820.63L225.53 820.73L226.03 820.83L226.52 820.93L227.01 821.02L227.49 821.1L227.97 821.18L228.45 821.26L228.92 821.34L229.39 821.42L229.85 821.49L230.3 821.56L230.76 821.64L231.2 821.71L231.65 821.78L232.09 821.84L232.52 821.91L232.96 821.98L233.39 822.04L233.81 822.11L234.23 822.17L234.65 822.24L235.07 822.3L235.48 822.37L235.89 822.43L236.3 822.5L236.71 822.56L237.11 822.63L237.51 822.7L237.91 822.76L238.31 822.83L238.71 822.9L239.1 822.97L239.5 823.05L239.89 823.12L240.28 823.19L240.67 823.26L241.07 823.33L241.46 823.4L241.85 823.47L242.24 823.54L242.63 823.61L243.03 823.68L243.42 823.76L243.81 823.83L244.21 823.9L244.6 823.96L245 824.02L245.4 824.08L245.8 824.12L246.2 824.16L246.6 824.2L247 824.22L247.4 824.25L247.81 824.27L248.21 824.29L248.62 824.32L249.02 824.34L249.43 824.37L249.84 824.39L250.25 824.42L250.66 824.45L251.08 824.48L251.5 824.51L251.92 824.55L252.34 824.58L252.77 824.62L253.2 824.65L253.63 824.69L254.07 824.73L254.51 824.76L254.95 824.8L255.4 824.84L255.85 824.88L256.31 824.93L256.77 824.97L257.24 825.01L257.71 825.06L258.19 825.11L258.68 825.15L259.17 825.2L259.67 825.25L260.17 825.29L260.68 825.34L261.19 825.38L261.72 825.43L262.25 825.47L262.79 825.51L263.33 825.55L263.89 825.6L264.45 825.64L265.02 825.68L265.6 825.71L266.19 825.75L266.78 825.78L267.39 825.82L268.01 825.85L268.64 825.89L269.28 825.92L269.94 825.96L270.61 826L271.29 826.03L271.99 826.07L272.71 826.11L273.44 826.15L274.18 826.19L274.95 826.22L275.72 826.25L276.52 826.28L277.32 826.3L278.15 826.33L279 826.35L279.87 826.37L280.75 826.37L281.64 826.37L282.54 826.35L283.44 826.31L284.35 826.26L285.28 826.2L286.24 826.14L287.23 826.08L288.24 826.01L289.29 825.95L290.36 825.88L291.45 825.8L292.58 825.71L293.72 825.61L294.89 825.5L296.07 825.37L297.27 825.22L298.48 825.05L299.7 824.86L300.94 824.64L302.2 824.41L303.48 824.17L304.8 823.91L306.13 823.63L307.5 823.33L308.87 823.01L310.25 822.66L311.61 822.27L312.96 821.84L314.3 821.38L315.63 820.88L316.96 820.36L318.3 819.81L319.65 819.23L321.01 818.62L322.36 817.98L323.69 817.31L324.99 816.6L326.26 815.85L327.49 815.07L328.68 814.25L329.85 813.39L330.98 812.5L332.06 811.58L333.1 810.63L334.08 809.64L334.98 808.62L335.82 807.57L336.58 806.49L337.24 805.38L337.8 804.25L338.25 803.09L338.56 801.91L338.74 800.72L338.77 799.52L338.67 798.3L338.45 797.09L338.13 795.89L337.74 794.69Z"/>
<path fill="#cfff30" stroke="#000" stroke-opacity="0.75" stroke-width="0.5" stroke-linejoin="round" d="M330.29 793.5L329.81 792.42L329.31 791.34L328.78 790.29L328.21 789.24L327.6 788.22L326.96 787.21L326.28 786.21L325.58 785.24L324.86 784.28L324.14 783.34L323.41 782.42L322.69 781.51L321.97 780.62L321.26 779.74L320.55 778.87L319.84 778.02L319.13 777.18L318.42 776.35L317.69 775.55L316.95 774.76L316.2 773.98L315.43 773.23L314.66 772.49L313.88 771.77L313.1 771.06L312.32 770.37L311.56 769.68L310.79 769.01L310.03 768.35L309.26 767.71L308.49 767.08L307.7 766.48L306.9 765.89L306.09 765.32L305.26 764.77L304.43 764.24L303.59 763.73L302.76 763.23L301.93 762.74L301.11 762.26L300.31 761.79L299.51 761.32L298.74 760.86L297.98 760.39L297.23 759.94L296.49 759.49L295.75 759.05L295 758.62L294.25 758.22L293.47 757.84L292.68 757.49L291.87 757.16L291.06 756.86L290.24 756.57L289.43 756.29L288.62 756.02L287.83 755.76L287.04 755.51L286.25 755.26L285.46 755.04L284.68 754.82L283.89 754.62L283.11 754.43L282.34 754.25L281.57 754.08L280.82 753.91L280.07 753.74L279.34 753.57L278.61 753.4L277.9 753.23L277.2 753.06L276.51 752.88L275.83 752.71L275.15 752.54L274.48 752.38L273.81 752.22L273.14 752.07L272.48 751.92L271.82 751.79L271.16 751.66L270.5 751.54L269.85 751.42L269.2 751.31L268.55 751.2L267.92 751.09L267.28 750.98L266.65 750.87L266.03 750.76L265.41 750.65L264.79 750.55L264.18 750.44L263.57 750.34L262.96 750.25L262.35 750.16L261.74 750.08L261.13 750.01L260.53 749.94L259.92 749.89L259.31 749.84L258.71 749.8L258.11 749.75L257.51 749.72L256.92 749.68L256.32 749.64L255.73 749.59L255.15 749.55L254.56 749.51L253.97 749.46L253.39 749.42L252.81 749.38L252.23 749.34L251.65 749.3L251.06 749.27L250.48 749.24L249.9 749.23L249.32 749.21L248.74 749.2L248.16 749.2L247.58 749.2L247 749.2L246.42 749.2L245.84 749.21L245.26 749.21L244.68 749.21L244.1 749.21L243.51 749.21L242.93 749.22L242.35 749.22L241.76 749.22L241.17 749.22L240.58 749.22L239.99 749.22L239.39 749.24L238.8 749.26L238.2 749.28L237.61 749.31L237.01 749.35L236.41 749.39L235.81 749.44L235.21 749.5L234.61 749.57L234.01 749.65L233.41 749.74L232.82 749.84L232.22 749.95L231.62 750.06L231.01 750.17L230.41 750.28L229.8 750.39L229.19 750.5L228.58 750.62L227.96 750.73L227.34 750.85L226.71 750.96L226.08 751.07L225.44 751.18L224.79 751.29L224.14 751.4L223.49 751.52L222.83 751.63L222.16 751.75L221.49 751.87L220.82 752L220.13 752.13L219.44 752.25L218.74 752.38L218.03 752.51L217.31 752.64L216.58 752.77L215.85 752.9L215.1 753.03L214.34 753.16L213.57 753.3L212.79 753.44L212 753.59L211.21 753.75L210.43 753.93L209.65 754.14L208.88 754.37L208.13 754.63L207.39 754.91L206.66 755.22L205.94 755.55L205.23 755.89L204.53 756.25L203.82 756.62L203.11 757L202.39 757.38L201.67 757.76L200.94 758.15L200.19 758.55L199.44 758.95L198.68 759.35L197.91 759.76L197.12 760.17L196.31 760.58L195.49 761L194.66 761.43L193.82 761.86L192.99 762.32L192.18 762.8L191.4 763.31L190.67 763.86L189.99 764.45L189.36 765.08L188.78 765.73L188.22 766.4L187.67 767.09L187.13 767.78L186.59 768.48L186.03 769.18L185.46 769.88L184.89 770.58L184.3 771.3L183.72 772.02L183.16 772.76L182.63 773.51L182.15 774.29L181.71 775.09L181.33 775.9L181 776.74L180.73 777.59L180.49 778.45L180.27 779.32L180.06 780.18L179.84 781.05L179.62 781.92L179.43 782.8L179.27 783.68L179.16 784.57L179.12 785.47L179.14 786.37L179.21 787.27L179.33 788.17L179.5 789.08L179.72 789.97L179.98 790.87L180.29 791.75L180.65 792.63L181.05 793.5L181.5 794.36L182 795.2L182.54 796.03L183.12 796.85L183.73 797.65L184.35 798.43L184.98 799.2L185.63 799.95L186.28 800.69L186.96 801.4L187.66 802.1L188.4 802.78L189.17 803.44L189.97 804.07L190.8 804.68L191.64 805.27L192.49 805.83L193.33 806.39L194.16 806.92L194.97 807.44L195.78 807.95L196.57 808.44L197.34 808.92L198.11 809.39L198.86 809.84L199.59 810.29L200.32 810.72L201.03 811.14L201.74 811.56L202.44 811.96L203.15 812.34L203.86 812.71L204.59 813.05L205.33 813.38L206.08 813.68L206.85 813.96L207.62 814.22L208.39 814.46L209.15 814.69L209.91 814.91L210.65 815.12L211.38 815.33L212.09 815.53L212.78 815.72L213.46 815.91L214.13 816.09L214.78 816.27L215.42 816.44L216.05 816.61L216.67 816.78L217.27 816.94L217.87 817.09L218.45 817.24L219.03 817.39L219.6 817.53L220.15 817.67L220.7 817.81L221.24 817.95L221.77 818.08L222.29 818.21L222.8 818.34L223.31 818.46L223.81 818.59L224.3 818.71L224.79 818.83L225.27 818.94L225.75 819.06L226.22 819.16L226.69 819.26L227.16 819.36L227.63 819.44L228.09 819.53L228.55 819.61L229.01 819.68L229.46 819.75L229.91 819.82L230.35 819.89L230.79 819.96L231.22 820.02L231.65 820.09L232.07 820.15L232.49 820.22L232.91 820.28L233.32 820.34L233.73 820.41L234.14 820.47L234.54 820.53L234.94 820.59L235.33 820.65L235.73 820.71L236.12 820.78L236.51 820.84L236.89 820.9L237.28 820.96L237.66 821.02L238.04 821.09L238.41 821.15L238.79 821.22L239.16 821.29L239.54 821.35L239.91 821.42L240.28 821.49L240.65 821.56L241.02 821.63L241.39 821.69L241.76 821.76L242.13 821.83L242.5 821.9L242.87 821.96L243.24 822.03L243.61 822.11L243.99 822.17L244.36 822.24L244.73 822.3L245.11 822.35L245.49 822.4L245.86 822.44L246.24 822.47L246.62 822.5L247 822.53L247.38 822.55L247.76 822.57L248.14 822.59L248.53 822.61L248.91 822.63L249.29 822.65L249.68 822.68L250.07 822.7L250.46 822.73L250.85 822.76L251.25 822.79L251.64 822.82L252.04 822.85L252.45 822.88L252.85 822.92L253.26 822.95L253.67 822.99L254.09 823.02L254.51 823.06L254.93 823.1L255.36 823.14L255.79 823.18L256.23 823.22L256.67 823.26L257.12 823.31L257.57 823.35L258.03 823.4L258.49 823.44L258.96 823.48L259.44 823.53L259.92 823.57L260.41 823.61L260.9 823.65L261.4 823.69L261.9 823.72L262.42 823.76L262.94 823.79L263.47 823.83L264 823.86L264.55 823.9L265.11 823.93L265.67 823.97L266.24 824L266.83 824.03L267.43 824.07L268.03 824.11L268.66 824.14L269.29 824.18L269.94 824.22L270.6 824.25L271.27 824.29L271.97 824.33L272.67 824.37L273.39 824.4L274.12 824.43L274.87 824.45L275.63 824.47L276.4 824.48L277.18 824.48L277.98 824.48L278.79 824.47L279.61 824.45L280.44 824.42L281.29 824.38L282.16 824.33L283.04 824.28L283.95 824.23L284.88 824.18L285.84 824.12L286.83 824.06L287.83 823.99L288.87 823.92L289.92 823.83L290.99 823.73L292.08 823.62L293.17 823.49L294.29 823.33L295.41 823.16L296.55 822.98L297.7 822.77L298.88 822.55L300.08 822.32L301.32 822.08L302.57 821.82L303.85 821.54L305.14 821.23L306.43 820.9L307.71 820.53L308.97 820.13L310.21 819.68L311.44 819.21L312.65 818.7L313.85 818.16L315.05 817.6L316.25 817.01L317.43 816.38L318.6 815.73L319.74 815.05L320.85 814.33L321.92 813.58L322.97 812.79L323.98 811.98L324.96 811.14L325.91 810.27L326.82 809.38L327.68 808.45L328.48 807.5L329.21 806.52L329.88 805.52L330.46 804.49L330.95 803.44L331.34 802.36L331.61 801.27L331.76 800.17L331.77 799.06L331.66 797.94L331.43 796.82L331.11 795.7L330.73 794.6Z"/>
<path fill="#ffff00" stroke="#000" stroke-opacity="0.75" stroke-width="0.5" stroke-linejoin="round" d="M324.12 793.5L323.66 792.5L323.17 791.51L322.66 790.53L322.12 789.56L321.54 788.61L320.93 787.68L320.29 786.77L319.63 785.87L318.94 784.99L318.25 784.12L317.55 783.27L316.85 782.44L316.16 781.62L315.47 780.81L314.79 780.02L314.11 779.23L313.43 778.47L312.74 777.72L312.04 776.98L311.32 776.27L310.59 775.57L309.83 774.89L309.07 774.23L308.3 773.58L307.53 772.95L306.76 772.34L305.99 771.74L305.24 771.14L304.49 770.56L303.74 770L303 769.44L302.25 768.9L301.49 768.38L300.73 767.87L299.95 767.39L299.17 766.92L298.39 766.46L297.6 766.02L296.82 765.6L296.05 765.18L295.28 764.77L294.53 764.37L293.78 763.98L293.04 763.6L292.3 763.23L291.56 762.87L290.83 762.53L290.09 762.19L289.35 761.87L288.62 761.57L287.89 761.27L287.16 760.98L286.44 760.7L285.73 760.42L285.03 760.15L284.34 759.88L283.65 759.62L282.97 759.37L282.29 759.12L281.62 758.88L280.94 758.66L280.26 758.45L279.58 758.25L278.91 758.06L278.23 757.89L277.55 757.72L276.89 757.57L276.22 757.41L275.57 757.26L274.92 757.11L274.28 756.96L273.65 756.82L273.02 756.68L272.4 756.54L271.78 756.41L271.17 756.28L270.56 756.16L269.95 756.05L269.34 755.95L268.73 755.85L268.13 755.76L267.53 755.68L266.94 755.6L266.35 755.52L265.77 755.44L265.19 755.36L264.62 755.29L264.05 755.21L263.48 755.13L262.92 755.06L262.37 754.99L261.81 754.92L261.26 754.85L260.71 754.79L260.16 754.74L259.61 754.7L259.06 754.66L258.51 754.63L257.97 754.6L257.43 754.58L256.89 754.55L256.36 754.53L255.82 754.51L255.29 754.49L254.76 754.47L254.24 754.44L253.72 754.42L253.19 754.4L252.67 754.37L252.15 754.35L251.64 754.33L251.12 754.32L250.6 754.31L250.09 754.3L249.57 754.3L249.05 754.3L248.54 754.3L248.03 754.31L247.51 754.32L247 754.33L246.49 754.34L245.97 754.35L245.46 754.36L244.95 754.37L244.44 754.39L243.92 754.4L243.41 754.41L242.89 754.42L242.38 754.43L241.86 754.44L241.34 754.45L240.82 754.46L240.29 754.47L239.77 754.48L239.24 754.49L238.71 754.5L238.18 754.51L237.64 754.52L237.1 754.53L236.57 754.56L236.03 754.59L235.48 754.62L234.94 754.67L234.4 754.72L233.86 754.78L233.31 754.84L232.76 754.91L232.21 754.98L231.66 755.05L231.1 755.12L230.54 755.19L229.97 755.26L229.4 755.33L228.83 755.4L228.25 755.47L227.66 755.54L227.07 755.62L226.47 755.69L225.87 755.76L225.26 755.84L224.64 755.92L224.01 755.99L223.38 756.07L222.74 756.15L222.1 756.23L221.44 756.31L220.77 756.39L220.1 756.47L219.41 756.56L218.72 756.64L218.01 756.73L217.29 756.81L216.56 756.9L215.82 756.99L215.07 757.09L214.31 757.19L213.54 757.3L212.76 757.42L211.99 757.57L211.23 757.73L210.48 757.92L209.74 758.14L209.01 758.38L208.29 758.64L207.57 758.92L206.86 759.22L206.15 759.52L205.43 759.83L204.7 760.15L203.96 760.47L203.21 760.8L202.45 761.13L201.68 761.47L200.9 761.81L200.1 762.16L199.29 762.52L198.48 762.88L197.65 763.26L196.83 763.65L196.02 764.07L195.22 764.5L194.46 764.97L193.73 765.47L193.04 766.01L192.39 766.57L191.78 767.16L191.19 767.77L190.62 768.4L190.06 769.04L189.5 769.68L188.94 770.34L188.39 771L187.83 771.67L187.29 772.35L186.76 773.05L186.27 773.77L185.82 774.5L185.42 775.26L185.09 776.04L184.8 776.83L184.57 777.64L184.38 778.47L184.21 779.29L184.07 780.12L183.94 780.96L183.82 781.79L183.7 782.62L183.6 783.46L183.51 784.29L183.45 785.13L183.41 785.97L183.41 786.82L183.46 787.66L183.55 788.51L183.68 789.35L183.86 790.19L184.08 791.03L184.35 791.86L184.66 792.68L185.02 793.5L185.44 794.31L185.9 795.1L186.41 795.88L186.95 796.65L187.52 797.4L188.11 798.14L188.7 798.86L189.3 799.56L189.92 800.26L190.56 800.93L191.23 801.59L191.92 802.22L192.65 802.84L193.41 803.43L194.19 804L194.99 804.56L195.78 805.09L196.58 805.61L197.36 806.11L198.13 806.6L198.88 807.07L199.62 807.53L200.34 807.99L201.05 808.43L201.75 808.86L202.43 809.28L203.1 809.7L203.76 810.1L204.42 810.49L205.07 810.87L205.72 811.23L206.39 811.58L207.07 811.91L207.76 812.22L208.47 812.5L209.18 812.77L209.91 813.02L210.63 813.25L211.35 813.47L212.06 813.68L212.75 813.88L213.43 814.07L214.1 814.26L214.75 814.44L215.39 814.62L216.01 814.8L216.63 814.97L217.23 815.13L217.81 815.29L218.39 815.45L218.96 815.61L219.52 815.76L220.06 815.9L220.6 816.05L221.13 816.19L221.65 816.33L222.16 816.46L222.66 816.59L223.16 816.73L223.65 816.85L224.13 816.98L224.6 817.1L225.07 817.22L225.53 817.34L225.99 817.46L226.44 817.57L226.89 817.68L227.33 817.79L227.78 817.88L228.22 817.97L228.66 818.06L229.1 818.14L229.53 818.21L229.97 818.28L230.39 818.35L230.82 818.42L231.24 818.48L231.65 818.54L232.06 818.61L232.47 818.67L232.87 818.73L233.27 818.79L233.66 818.85L234.05 818.91L234.44 818.97L234.82 819.03L235.2 819.09L235.58 819.15L235.95 819.21L236.32 819.27L236.69 819.33L237.06 819.39L237.43 819.45L237.79 819.51L238.15 819.57L238.51 819.64L238.86 819.7L239.22 819.76L239.57 819.83L239.93 819.9L240.28 819.97L240.63 820.03L240.98 820.1L241.33 820.17L241.68 820.23L242.03 820.3L242.38 820.36L242.74 820.43L243.09 820.5L243.44 820.56L243.79 820.63L244.14 820.7L244.5 820.76L244.85 820.81L245.21 820.86L245.56 820.9L245.92 820.94L246.28 820.97L246.64 820.99L247 821.01L247.36 821.03L247.72 821.04L248.08 821.06L248.45 821.08L248.81 821.1L249.17 821.12L249.54 821.14L249.91 821.16L250.28 821.19L250.65 821.21L251.02 821.24L251.4 821.27L251.78 821.3L252.16 821.33L252.54 821.36L252.93 821.39L253.32 821.42L253.71 821.46L254.11 821.49L254.51 821.53L254.91 821.56L255.32 821.6L255.74 821.64L256.16 821.68L256.58 821.72L257.01 821.76L257.44 821.81L257.88 821.85L258.33 821.89L258.78 821.93L259.23 821.97L259.69 822L260.16 822.04L260.63 822.07L261.1 822.1L261.59 822.13L262.08 822.16L262.58 822.19L263.08 822.22L263.6 822.25L264.12 822.28L264.66 822.32L265.2 822.35L265.76 822.38L266.32 822.41L266.9 822.45L267.48 822.48L268.08 822.52L268.69 822.55L269.32 822.59L269.96 822.62L270.61 822.66L271.28 822.69L271.96 822.72L272.65 822.74L273.35 822.76L274.06 822.77L274.78 822.77L275.51 822.76L276.25 822.75L277 822.72L277.76 822.69L278.54 822.66L279.34 822.62L280.16 822.58L281 822.54L281.86 822.5L282.75 822.45L283.66 822.4L284.59 822.34L285.54 822.28L286.51 822.21L287.5 822.13L288.51 822.03L289.52 821.91L290.55 821.78L291.58 821.63L292.63 821.46L293.69 821.28L294.78 821.08L295.88 820.88L297.01 820.66L298.17 820.42L299.35 820.18L300.55 819.91L301.76 819.62L302.97 819.3L304.17 818.95L305.34 818.57L306.5 818.14L307.62 817.69L308.73 817.2L309.82 816.68L310.9 816.13L311.97 815.55L313.03 814.95L314.07 814.33L315.09 813.67L316.08 812.98L317.04 812.27L317.96 811.52L318.86 810.75L319.73 809.96L320.57 809.14L321.37 808.29L322.13 807.42L322.84 806.53L323.49 805.61L324.07 804.67L324.58 803.71L325 802.73L325.33 801.73L325.55 800.72L325.66 799.69L325.64 798.65L325.51 797.61L325.27 796.58L324.94 795.54L324.56 794.52Z"/>
<path fill="#ffcf00" stroke="#000" stroke-opacity="0.75" stroke-width="0.5" stroke-linejoin="round" d="M318.51 793.5L318.06 792.57L317.59 791.65L317.09 790.75L316.57 789.85L316.02 788.98L315.44 788.11L314.82 787.27L314.17 786.44L313.51 785.63L312.84 784.83L312.16 784.05L311.49 783.29L310.82 782.53L310.16 781.79L309.51 781.07L308.86 780.35L308.21 779.65L307.55 778.96L306.88 778.29L306.19 777.64L305.48 777.01L304.75 776.39L304.01 775.8L303.25 775.22L302.5 774.66L301.74 774.11L300.99 773.58L300.25 773.06L299.52 772.55L298.8 772.04L298.08 771.55L297.36 771.08L296.65 770.61L295.92 770.17L295.19 769.73L294.46 769.32L293.73 768.92L292.99 768.53L292.26 768.15L291.53 767.79L290.81 767.44L290.09 767.09L289.38 766.76L288.68 766.44L287.97 766.13L287.27 765.83L286.56 765.54L285.86 765.26L285.17 765L284.48 764.74L283.8 764.49L283.14 764.24L282.48 763.99L281.83 763.75L281.19 763.52L280.56 763.28L279.94 763.05L279.32 762.83L278.7 762.61L278.09 762.41L277.48 762.21L276.87 762.03L276.25 761.86L275.64 761.7L275.02 761.55L274.41 761.41L273.8 761.27L273.2 761.14L272.61 761.01L272.03 760.89L271.45 760.76L270.87 760.64L270.31 760.52L269.74 760.41L269.19 760.3L268.63 760.19L268.07 760.1L267.52 760.01L266.97 759.93L266.42 759.86L265.87 759.8L265.33 759.74L264.79 759.68L264.26 759.63L263.73 759.57L263.21 759.52L262.69 759.47L262.18 759.41L261.67 759.36L261.16 759.31L260.66 759.26L260.16 759.21L259.66 759.17L259.17 759.13L258.68 759.1L258.19 759.07L257.7 759.05L257.21 759.03L256.73 759.01L256.25 759L255.77 758.98L255.29 758.97L254.82 758.95L254.35 758.94L253.88 758.92L253.41 758.9L252.95 758.89L252.49 758.87L252.02 758.85L251.56 758.83L251.1 758.82L250.65 758.81L250.19 758.8L249.73 758.8L249.27 758.8L248.82 758.8L248.36 758.8L247.91 758.81L247.45 758.81L247 758.82L246.55 758.82L246.09 758.83L245.64 758.83L245.18 758.84L244.73 758.84L244.27 758.85L243.82 758.86L243.36 758.86L242.9 758.87L242.44 758.88L241.98 758.88L241.52 758.88L241.05 758.88L240.58 758.88L240.11 758.88L239.64 758.87L239.16 758.87L238.69 758.87L238.2 758.87L237.72 758.87L237.24 758.88L236.75 758.89L236.26 758.91L235.77 758.94L235.28 758.97L234.78 759L234.28 759.03L233.78 759.07L233.28 759.1L232.77 759.14L232.25 759.18L231.74 759.22L231.21 759.26L230.69 759.3L230.16 759.34L229.62 759.39L229.08 759.44L228.53 759.49L227.98 759.54L227.42 759.59L226.86 759.64L226.29 759.7L225.71 759.75L225.12 759.81L224.52 759.86L223.92 759.91L223.3 759.97L222.68 760.03L222.05 760.08L221.4 760.14L220.75 760.2L220.08 760.26L219.4 760.32L218.71 760.38L218.01 760.44L217.29 760.51L216.57 760.58L215.84 760.66L215.1 760.75L214.37 760.87L213.64 761L212.92 761.16L212.22 761.35L211.52 761.56L210.83 761.78L210.15 762.02L209.46 762.28L208.77 762.54L208.07 762.81L207.36 763.08L206.64 763.36L205.9 763.64L205.16 763.93L204.4 764.22L203.63 764.52L202.85 764.83L202.05 765.14L201.26 765.47L200.46 765.81L199.67 766.17L198.9 766.56L198.15 766.98L197.43 767.42L196.75 767.9L196.11 768.4L195.49 768.93L194.91 769.49L194.35 770.06L193.79 770.64L193.25 771.24L192.71 771.84L192.18 772.46L191.66 773.08L191.15 773.72L190.66 774.38L190.21 775.05L189.8 775.74L189.44 776.45L189.13 777.18L188.88 777.93L188.68 778.69L188.52 779.46L188.39 780.24L188.27 781.02L188.18 781.8L188.09 782.58L188.02 783.36L187.95 784.15L187.88 784.93L187.83 785.71L187.81 786.49L187.81 787.28L187.84 788.06L187.92 788.85L188.05 789.64L188.21 790.42L188.41 791.2L188.65 791.97L188.93 792.74L189.25 793.5L189.63 794.25L190.05 794.99L190.51 795.72L191.01 796.43L191.53 797.14L192.08 797.82L192.64 798.5L193.21 799.15L193.79 799.8L194.4 800.43L195.02 801.04L195.67 801.63L196.35 802.2L197.04 802.76L197.75 803.3L198.46 803.82L199.18 804.32L199.9 804.81L200.61 805.28L201.31 805.74L202.01 806.19L202.69 806.62L203.37 807.05L204.05 807.46L204.71 807.86L205.36 808.24L206.01 808.62L206.65 808.99L207.28 809.35L207.9 809.69L208.53 810.03L209.16 810.35L209.8 810.65L210.45 810.93L211.11 811.2L211.78 811.45L212.45 811.68L213.11 811.9L213.78 812.11L214.43 812.31L215.07 812.5L215.7 812.68L216.31 812.86L216.91 813.04L217.5 813.21L218.08 813.38L218.64 813.54L219.2 813.7L219.74 813.85L220.28 814L220.8 814.15L221.32 814.29L221.83 814.43L222.33 814.57L222.83 814.7L223.32 814.82L223.8 814.94L224.28 815.06L224.75 815.17L225.22 815.28L225.67 815.39L226.13 815.5L226.57 815.6L227.01 815.7L227.44 815.8L227.87 815.9L228.29 815.99L228.72 816.08L229.13 816.16L229.55 816.24L229.97 816.31L230.38 816.38L230.79 816.44L231.19 816.5L231.59 816.56L231.99 816.61L232.38 816.67L232.77 816.72L233.16 816.77L233.53 816.82L233.91 816.88L234.28 816.93L234.65 816.98L235.01 817.03L235.37 817.09L235.72 817.14L236.08 817.19L236.43 817.24L236.78 817.3L237.12 817.35L237.46 817.4L237.81 817.45L238.14 817.51L238.48 817.56L238.82 817.61L239.15 817.67L239.48 817.72L239.81 817.78L240.14 817.84L240.46 817.9L240.79 817.96L241.11 818.02L241.44 818.08L241.76 818.14L242.09 818.2L242.41 818.26L242.74 818.32L243.06 818.38L243.38 818.44L243.71 818.5L244.03 818.56L244.36 818.62L244.69 818.67L245.02 818.72L245.34 818.76L245.67 818.79L246.01 818.82L246.34 818.84L246.67 818.86L247 818.87L247.33 818.88L247.67 818.9L248 818.91L248.33 818.92L248.67 818.94L249 818.95L249.34 818.97L249.68 818.99L250.02 819.02L250.36 819.04L250.71 819.06L251.05 819.09L251.4 819.12L251.75 819.15L252.11 819.18L252.46 819.21L252.82 819.24L253.19 819.27L253.55 819.31L253.92 819.34L254.3 819.38L254.68 819.41L255.06 819.45L255.45 819.49L255.84 819.53L256.23 819.58L256.64 819.62L257.04 819.66L257.45 819.7L257.87 819.74L258.29 819.78L258.72 819.82L259.15 819.86L259.59 819.89L260.03 819.92L260.48 819.96L260.94 819.99L261.4 820.02L261.87 820.06L262.35 820.09L262.84 820.13L263.34 820.17L263.85 820.2L264.36 820.24L264.89 820.27L265.43 820.31L265.97 820.35L266.53 820.38L267.1 820.42L267.68 820.45L268.28 820.49L268.88 820.53L269.5 820.56L270.14 820.59L270.78 820.61L271.43 820.63L272.09 820.64L272.76 820.65L273.44 820.64L274.13 820.63L274.84 820.62L275.55 820.6L276.29 820.57L277.04 820.55L277.82 820.53L278.61 820.5L279.43 820.47L280.26 820.44L281.12 820.4L282 820.36L282.9 820.31L283.82 820.25L284.76 820.18L285.7 820.1L286.66 820L287.62 819.88L288.59 819.74L289.57 819.59L290.57 819.42L291.59 819.24L292.63 819.05L293.69 818.85L294.78 818.64L295.89 818.41L297.02 818.17L298.15 817.9L299.29 817.6L300.41 817.28L301.51 816.92L302.59 816.53L303.64 816.1L304.67 815.64L305.68 815.15L306.68 814.64L307.68 814.1L308.66 813.54L309.64 812.95L310.59 812.34L311.52 811.7L312.42 811.03L313.29 810.34L314.12 809.61L314.93 808.87L315.69 808.1L316.43 807.31L317.12 806.5L317.76 805.66L318.34 804.8L318.86 803.92L319.31 803.02L319.67 802.1L319.94 801.17L320.1 800.22L320.15 799.26L320.09 798.29L319.92 797.32L319.66 796.35L319.32 795.39L318.94 794.44Z"/>
<path fill="#ff9f00" stroke="#000" stroke-opacity="0.75" stroke-width="0.5" stroke-linejoin="round" d="M312.28 793.5L311.85 792.65L311.41 791.81L310.94 790.99L310.45 790.17L309.93 789.38L309.37 788.59L308.78 787.82L308.16 787.07L307.53 786.34L306.88 785.62L306.24 784.91L305.6 784.22L304.96 783.54L304.34 782.87L303.73 782.22L303.12 781.57L302.51 780.94L301.9 780.32L301.27 779.72L300.62 779.13L299.95 778.57L299.26 778.02L298.54 777.49L297.82 776.99L297.09 776.5L296.36 776.02L295.64 775.56L294.92 775.1L294.22 774.66L293.53 774.23L292.84 773.81L292.16 773.39L291.48 772.99L290.81 772.61L290.13 772.23L289.46 771.87L288.78 771.52L288.11 771.18L287.44 770.85L286.77 770.54L286.1 770.24L285.43 769.95L284.76 769.67L284.1 769.41L283.43 769.16L282.76 768.92L282.1 768.7L281.44 768.48L280.79 768.27L280.15 768.06L279.52 767.87L278.9 767.67L278.29 767.48L277.69 767.29L277.1 767.1L276.52 766.92L275.95 766.74L275.39 766.56L274.83 766.39L274.27 766.23L273.72 766.07L273.17 765.92L272.62 765.78L272.07 765.65L271.53 765.53L270.99 765.41L270.45 765.3L269.92 765.19L269.4 765.08L268.89 764.98L268.38 764.87L267.87 764.77L267.37 764.67L266.88 764.58L266.39 764.49L265.89 764.41L265.4 764.33L264.92 764.26L264.43 764.21L263.94 764.15L263.46 764.11L262.98 764.07L262.5 764.03L262.03 764L261.56 763.97L261.1 763.94L260.64 763.91L260.19 763.87L259.74 763.84L259.3 763.81L258.86 763.78L258.42 763.75L257.98 763.72L257.55 763.7L257.12 763.68L256.7 763.66L256.27 763.64L255.85 763.63L255.43 763.62L255.01 763.61L254.59 763.6L254.18 763.58L253.77 763.57L253.36 763.56L252.96 763.54L252.56 763.52L252.15 763.5L251.75 763.49L251.35 763.47L250.96 763.45L250.56 763.43L250.16 763.42L249.76 763.41L249.37 763.4L248.97 763.4L248.58 763.39L248.18 763.38L247.79 763.38L247.39 763.37L247 763.37L246.61 763.36L246.21 763.35L245.82 763.34L245.42 763.33L245.02 763.33L244.62 763.32L244.23 763.31L243.83 763.31L243.43 763.3L243.02 763.29L242.62 763.28L242.21 763.27L241.8 763.26L241.39 763.25L240.98 763.23L240.56 763.22L240.14 763.2L239.72 763.18L239.3 763.17L238.87 763.16L238.44 763.15L238.01 763.14L237.57 763.13L237.13 763.13L236.69 763.13L236.25 763.13L235.8 763.13L235.34 763.13L234.89 763.14L234.42 763.14L233.96 763.15L233.49 763.15L233.02 763.16L232.54 763.18L232.06 763.2L231.57 763.22L231.08 763.25L230.59 763.28L230.09 763.31L229.59 763.35L229.08 763.39L228.57 763.42L228.05 763.46L227.52 763.5L226.98 763.54L226.43 763.58L225.88 763.61L225.31 763.65L224.74 763.69L224.16 763.73L223.56 763.77L222.96 763.81L222.35 763.86L221.72 763.9L221.08 763.94L220.43 763.99L219.76 764.04L219.09 764.09L218.41 764.15L217.73 764.23L217.06 764.33L216.38 764.45L215.72 764.59L215.07 764.75L214.42 764.93L213.77 765.12L213.13 765.33L212.49 765.55L211.84 765.78L211.18 766.01L210.51 766.25L209.83 766.49L209.13 766.74L208.42 766.99L207.7 767.24L206.96 767.5L206.22 767.77L205.47 768.05L204.71 768.34L203.95 768.65L203.21 768.98L202.49 769.33L201.79 769.71L201.12 770.12L200.48 770.56L199.89 771.03L199.32 771.52L198.77 772.03L198.24 772.55L197.73 773.09L197.22 773.64L196.72 774.2L196.22 774.77L195.73 775.34L195.26 775.94L194.81 776.54L194.4 777.17L194.03 777.81L193.71 778.47L193.44 779.15L193.21 779.84L193.03 780.54L192.87 781.25L192.74 781.97L192.63 782.69L192.53 783.41L192.45 784.13L192.37 784.85L192.3 785.57L192.25 786.29L192.22 787.02L192.22 787.74L192.26 788.47L192.34 789.2L192.46 789.92L192.61 790.65L192.8 791.37L193.02 792.09L193.27 792.8L193.56 793.5L193.88 794.2L194.24 794.88L194.65 795.56L195.09 796.22L195.57 796.87L196.07 797.51L196.59 798.13L197.12 798.74L197.67 799.34L198.24 799.92L198.81 800.49L199.4 801.04L200 801.58L200.61 802.1L201.22 802.61L201.84 803.1L202.46 803.58L203.07 804.05L203.69 804.5L204.3 804.94L204.93 805.37L205.55 805.78L206.19 806.17L206.83 806.55L207.47 806.92L208.11 807.27L208.75 807.61L209.38 807.94L210 808.26L210.61 808.57L211.22 808.87L211.82 809.16L212.43 809.44L213.03 809.7L213.64 809.95L214.25 810.19L214.86 810.41L215.46 810.63L216.05 810.83L216.64 811.03L217.21 811.22L217.78 811.41L218.33 811.59L218.87 811.77L219.41 811.94L219.93 812.11L220.44 812.27L220.94 812.43L221.43 812.59L221.92 812.74L222.4 812.89L222.88 813.03L223.35 813.17L223.82 813.3L224.29 813.42L224.75 813.53L225.21 813.64L225.67 813.74L226.13 813.84L226.57 813.93L227.02 814.01L227.45 814.1L227.88 814.18L228.3 814.27L228.72 814.35L229.13 814.42L229.54 814.5L229.94 814.57L230.34 814.64L230.73 814.7L231.12 814.76L231.51 814.82L231.89 814.88L232.27 814.93L232.65 814.98L233.02 815.02L233.39 815.07L233.75 815.12L234.11 815.17L234.46 815.22L234.81 815.26L235.16 815.31L235.5 815.36L235.84 815.41L236.17 815.45L236.51 815.5L236.84 815.55L237.16 815.6L237.49 815.64L237.81 815.69L238.13 815.74L238.45 815.79L238.76 815.83L239.07 815.88L239.39 815.93L239.7 815.98L240.01 816.03L240.31 816.08L240.62 816.13L240.92 816.19L241.22 816.24L241.53 816.3L241.83 816.35L242.13 816.41L242.43 816.47L242.73 816.52L243.04 816.57L243.34 816.63L243.64 816.68L243.94 816.73L244.24 816.78L244.55 816.83L244.85 816.87L245.16 816.91L245.46 816.94L245.77 816.97L246.08 816.99L246.38 817L246.69 817.01L247 817.02L247.31 817.03L247.62 817.03L247.92 817.04L248.23 817.05L248.54 817.06L248.85 817.07L249.17 817.08L249.48 817.1L249.79 817.11L250.11 817.13L250.43 817.15L250.75 817.17L251.07 817.19L251.4 817.22L251.72 817.24L252.05 817.26L252.38 817.29L252.72 817.31L253.05 817.34L253.4 817.37L253.74 817.4L254.09 817.43L254.44 817.46L254.8 817.49L255.16 817.53L255.52 817.56L255.89 817.6L256.26 817.63L256.64 817.67L257.02 817.7L257.41 817.73L257.8 817.77L258.2 817.8L258.6 817.83L259.01 817.86L259.43 817.89L259.85 817.92L260.27 817.95L260.71 817.98L261.15 818.01L261.6 818.04L262.06 818.07L262.52 818.1L263 818.13L263.48 818.16L263.97 818.18L264.46 818.21L264.97 818.23L265.49 818.26L266.02 818.28L266.55 818.3L267.1 818.33L267.66 818.35L268.24 818.36L268.82 818.38L269.41 818.39L270.01 818.4L270.63 818.4L271.25 818.39L271.88 818.38L272.53 818.37L273.19 818.35L273.86 818.33L274.56 818.31L275.27 818.3L276.01 818.27L276.76 818.25L277.53 818.22L278.33 818.2L279.14 818.16L279.97 818.12L280.82 818.07L281.68 818.01L282.55 817.93L283.42 817.84L284.3 817.73L285.19 817.6L286.09 817.46L287 817.3L287.93 817.13L288.88 816.96L289.86 816.77L290.86 816.57L291.88 816.37L292.91 816.14L293.96 815.9L295 815.63L296.04 815.33L297.05 815L298.04 814.64L299.01 814.25L299.96 813.83L300.89 813.38L301.82 812.91L302.74 812.42L303.67 811.91L304.58 811.38L305.49 810.82L306.37 810.24L307.23 809.64L308.05 809L308.83 808.34L309.57 807.66L310.27 806.95L310.93 806.22L311.55 805.46L312.12 804.69L312.64 803.9L313.09 803.08L313.47 802.25L313.76 801.4L313.95 800.54L314.04 799.66L314.02 798.77L313.9 797.88L313.69 796.99L313.4 796.11L313.06 795.23L312.68 794.36Z"/>
<path fill="#ff7000" stroke="#000" stroke-opacity="0.75" stroke-width="0.5" stroke-linejoin="round" d="M305.63 793.5L305.23 792.74L304.83 791.99L304.39 791.24L303.94 790.52L303.45 789.8L302.93 789.1L302.37 788.41L301.79 787.74L301.2 787.09L300.6 786.44L299.99 785.82L299.39 785.2L298.81 784.6L298.23 784.01L297.66 783.42L297.1 782.85L296.54 782.29L295.97 781.74L295.39 781.21L294.79 780.69L294.17 780.2L293.52 779.72L292.86 779.26L292.18 778.82L291.49 778.4L290.8 777.99L290.12 777.59L289.44 777.21L288.78 776.83L288.13 776.46L287.48 776.11L286.85 775.76L286.23 775.42L285.61 775.08L285 774.76L284.39 774.45L283.79 774.14L283.19 773.85L282.59 773.57L281.99 773.3L281.39 773.04L280.78 772.8L280.16 772.58L279.55 772.36L278.93 772.17L278.31 771.98L277.7 771.81L277.09 771.64L276.49 771.48L275.9 771.32L275.33 771.17L274.76 771.02L274.21 770.87L273.66 770.73L273.13 770.59L272.6 770.45L272.08 770.32L271.57 770.18L271.07 770.05L270.57 769.93L270.08 769.81L269.59 769.69L269.11 769.58L268.63 769.48L268.16 769.37L267.69 769.27L267.23 769.18L266.77 769.08L266.33 768.99L265.88 768.89L265.45 768.8L265.01 768.71L264.58 768.62L264.16 768.54L263.73 768.46L263.31 768.39L262.88 768.33L262.46 768.27L262.04 768.22L261.62 768.18L261.2 768.15L260.78 768.12L260.37 768.1L259.96 768.07L259.55 768.05L259.15 768.03L258.75 768.01L258.36 767.99L257.97 767.97L257.58 767.95L257.2 767.93L256.82 767.91L256.45 767.89L256.08 767.87L255.71 767.85L255.34 767.84L254.97 767.82L254.61 767.81L254.25 767.79L253.89 767.78L253.54 767.76L253.18 767.75L252.83 767.73L252.48 767.71L252.13 767.69L251.79 767.67L251.44 767.64L251.1 767.62L250.76 767.6L250.41 767.58L250.07 767.56L249.73 767.54L249.39 767.52L249.05 767.5L248.7 767.49L248.36 767.47L248.02 767.46L247.68 767.44L247.34 767.42L247 767.4L246.66 767.38L246.32 767.36L245.97 767.34L245.63 767.32L245.28 767.29L244.94 767.27L244.59 767.25L244.24 767.24L243.89 767.22L243.54 767.2L243.18 767.18L242.83 767.16L242.47 767.14L242.11 767.12L241.75 767.1L241.38 767.07L241.02 767.05L240.64 767.03L240.27 767L239.89 766.98L239.51 766.96L239.13 766.94L238.75 766.92L238.36 766.9L237.96 766.87L237.56 766.85L237.16 766.83L236.76 766.81L236.35 766.8L235.93 766.78L235.51 766.76L235.09 766.75L234.66 766.74L234.24 766.74L233.81 766.75L233.37 766.76L232.94 766.77L232.5 766.8L232.06 766.82L231.61 766.85L231.16 766.88L230.71 766.92L230.25 766.95L229.78 766.98L229.3 767.02L228.82 767.05L228.33 767.08L227.83 767.12L227.32 767.15L226.81 767.19L226.28 767.22L225.75 767.26L225.21 767.29L224.65 767.33L224.08 767.37L223.51 767.41L222.92 767.45L222.32 767.49L221.72 767.54L221.1 767.6L220.49 767.68L219.88 767.77L219.28 767.88L218.68 768L218.09 768.15L217.51 768.31L216.93 768.49L216.34 768.68L215.76 768.87L215.17 769.07L214.57 769.28L213.96 769.49L213.33 769.71L212.7 769.93L212.05 770.15L211.39 770.37L210.71 770.6L210.03 770.84L209.33 771.09L208.64 771.35L207.94 771.63L207.26 771.92L206.6 772.24L205.97 772.59L205.37 772.97L204.8 773.37L204.27 773.8L203.76 774.25L203.27 774.71L202.8 775.19L202.33 775.68L201.86 776.17L201.4 776.68L200.94 777.19L200.48 777.71L200.04 778.24L199.62 778.79L199.24 779.35L198.89 779.93L198.58 780.53L198.33 781.14L198.11 781.76L197.92 782.39L197.76 783.03L197.63 783.68L197.51 784.33L197.4 784.98L197.3 785.63L197.22 786.28L197.16 786.94L197.12 787.6L197.12 788.26L197.16 788.92L197.24 789.58L197.36 790.25L197.5 790.91L197.68 791.56L197.87 792.21L198.09 792.86L198.33 793.5L198.6 794.13L198.9 794.76L199.23 795.38L199.61 795.98L200.02 796.58L200.47 797.16L200.94 797.73L201.43 798.29L201.93 798.83L202.44 799.37L202.96 799.89L203.47 800.39L203.98 800.89L204.49 801.38L205 801.85L205.51 802.32L206.01 802.77L206.52 803.22L207.03 803.65L207.56 804.07L208.1 804.47L208.66 804.86L209.24 805.22L209.85 805.57L210.46 805.9L211.09 806.22L211.71 806.52L212.33 806.81L212.94 807.09L213.54 807.36L214.13 807.62L214.7 807.88L215.27 808.13L215.83 808.37L216.39 808.6L216.94 808.82L217.48 809.03L218.01 809.24L218.54 809.44L219.05 809.63L219.56 809.82L220.06 810.01L220.55 810.19L221.03 810.37L221.5 810.54L221.96 810.71L222.41 810.88L222.86 811.04L223.3 811.2L223.74 811.35L224.17 811.5L224.6 811.64L225.04 811.77L225.47 811.89L225.9 812L226.34 812.1L226.78 812.19L227.21 812.28L227.65 812.35L228.08 812.42L228.5 812.49L228.92 812.55L229.33 812.62L229.73 812.68L230.13 812.74L230.52 812.8L230.9 812.85L231.28 812.91L231.66 812.96L232.03 813.01L232.39 813.06L232.75 813.11L233.11 813.16L233.46 813.2L233.81 813.24L234.15 813.29L234.49 813.33L234.82 813.37L235.15 813.41L235.48 813.45L235.8 813.5L236.12 813.54L236.44 813.58L236.75 813.62L237.06 813.66L237.36 813.7L237.67 813.75L237.97 813.79L238.27 813.83L238.56 813.87L238.86 813.91L239.15 813.95L239.44 813.99L239.73 814.04L240.02 814.08L240.3 814.12L240.58 814.16L240.87 814.2L241.15 814.25L241.43 814.3L241.71 814.35L241.98 814.4L242.26 814.45L242.54 814.5L242.81 814.55L243.09 814.6L243.37 814.64L243.64 814.69L243.92 814.73L244.2 814.77L244.48 814.81L244.76 814.85L245.04 814.88L245.32 814.91L245.6 814.93L245.88 814.94L246.16 814.96L246.44 814.97L246.72 814.97L247 814.97L247.28 814.97L247.56 814.97L247.84 814.97L248.13 814.98L248.41 814.98L248.69 814.98L248.97 814.99L249.26 815L249.55 815.01L249.83 815.02L250.12 815.03L250.41 815.05L250.71 815.06L251 815.08L251.3 815.1L251.59 815.11L251.89 815.13L252.2 815.15L252.5 815.17L252.81 815.19L253.12 815.21L253.44 815.23L253.76 815.26L254.08 815.28L254.4 815.31L254.73 815.33L255.06 815.36L255.4 815.38L255.74 815.41L256.09 815.44L256.44 815.46L256.79 815.49L257.15 815.52L257.51 815.54L257.88 815.57L258.26 815.6L258.64 815.62L259.03 815.65L259.42 815.68L259.82 815.71L260.23 815.73L260.64 815.76L261.06 815.78L261.48 815.8L261.91 815.82L262.35 815.83L262.79 815.85L263.24 815.86L263.7 815.87L264.17 815.88L264.65 815.89L265.13 815.89L265.63 815.9L266.14 815.91L266.65 815.91L267.18 815.91L267.72 815.91L268.27 815.91L268.83 815.91L269.4 815.9L269.98 815.89L270.58 815.88L271.19 815.86L271.82 815.85L272.47 815.83L273.13 815.82L273.81 815.8L274.51 815.78L275.23 815.76L275.97 815.73L276.72 815.7L277.49 815.65L278.27 815.6L279.05 815.53L279.84 815.44L280.64 815.34L281.44 815.23L282.25 815.1L283.07 814.96L283.91 814.81L284.77 814.65L285.65 814.48L286.55 814.31L287.47 814.12L288.41 813.92L289.36 813.7L290.31 813.47L291.25 813.2L292.18 812.91L293.09 812.59L293.98 812.24L294.85 811.87L295.71 811.47L296.56 811.05L297.42 810.61L298.28 810.16L299.14 809.69L299.99 809.2L300.83 808.68L301.64 808.14L302.42 807.57L303.15 806.98L303.82 806.36L304.46 805.71L305.04 805.05L305.58 804.36L306.08 803.65L306.52 802.93L306.9 802.19L307.21 801.43L307.42 800.65L307.53 799.86L307.54 799.06L307.45 798.26L307.27 797.45L307.02 796.65L306.71 795.85L306.37 795.05L306.01 794.27Z"/>
<path fill="#ff4000" stroke="#000" stroke-opacity="0.75" stroke-width="0.5" stroke-linejoin="round" d="M296.91 793.5L296.56 792.85L296.2 792.21L295.82 791.58L295.42 790.96L294.99 790.35L294.53 789.76L294.05 789.18L293.54 788.61L293.01 788.05L292.48 787.51L291.95 786.98L291.43 786.46L290.91 785.96L290.4 785.46L289.9 784.97L289.4 784.49L288.9 784.02L288.4 783.56L287.89 783.12L287.36 782.69L286.81 782.27L286.24 781.88L285.65 781.5L285.04 781.14L284.43 780.79L283.82 780.46L283.22 780.14L282.62 779.83L282.03 779.52L281.46 779.23L280.9 778.94L280.35 778.65L279.81 778.38L279.28 778.1L278.76 777.84L278.25 777.58L277.75 777.32L277.25 777.08L276.75 776.84L276.24 776.62L275.73 776.4L275.22 776.21L274.69 776.03L274.16 775.86L273.63 775.71L273.1 775.56L272.57 775.43L272.05 775.3L271.54 775.17L271.04 775.05L270.55 774.94L270.07 774.82L269.6 774.71L269.14 774.59L268.68 774.49L268.24 774.38L267.8 774.27L267.37 774.17L266.95 774.07L266.53 773.97L266.12 773.87L265.72 773.78L265.32 773.68L264.93 773.59L264.54 773.5L264.16 773.41L263.79 773.32L263.42 773.23L263.05 773.14L262.69 773.05L262.34 772.96L261.98 772.88L261.63 772.79L261.28 772.72L260.94 772.64L260.59 772.58L260.24 772.52L259.89 772.46L259.54 772.41L259.2 772.38L258.85 772.34L258.5 772.31L258.16 772.29L257.82 772.26L257.48 772.24L257.15 772.22L256.82 772.2L256.49 772.18L256.17 772.16L255.85 772.13L255.53 772.11L255.22 772.09L254.91 772.07L254.6 772.04L254.29 772.02L253.99 772L253.68 771.98L253.38 771.95L253.08 771.93L252.79 771.91L252.49 771.89L252.2 771.86L251.9 771.84L251.61 771.81L251.32 771.78L251.03 771.75L250.74 771.72L250.45 771.69L250.17 771.66L249.88 771.63L249.59 771.61L249.3 771.58L249.02 771.56L248.73 771.54L248.44 771.51L248.15 771.49L247.87 771.47L247.58 771.44L247.29 771.42L247 771.39L246.71 771.36L246.42 771.33L246.13 771.3L245.84 771.27L245.54 771.24L245.25 771.22L244.95 771.19L244.65 771.16L244.35 771.14L244.05 771.11L243.75 771.09L243.45 771.06L243.14 771.04L242.83 771.01L242.52 770.99L242.21 770.97L241.9 770.94L241.58 770.92L241.26 770.89L240.93 770.86L240.61 770.83L240.28 770.81L239.94 770.78L239.61 770.75L239.27 770.71L238.92 770.68L238.57 770.65L238.22 770.62L237.86 770.58L237.5 770.55L237.13 770.53L236.76 770.5L236.39 770.48L236.02 770.47L235.64 770.46L235.26 770.47L234.89 770.47L234.51 770.49L234.12 770.51L233.74 770.53L233.35 770.56L232.96 770.59L232.56 770.61L232.16 770.64L231.75 770.67L231.33 770.7L230.91 770.73L230.48 770.76L230.04 770.78L229.59 770.81L229.14 770.84L228.68 770.87L228.2 770.9L227.72 770.93L227.23 770.96L226.73 770.99L226.22 771.02L225.7 771.06L225.17 771.09L224.63 771.13L224.09 771.19L223.55 771.25L223.01 771.32L222.47 771.42L221.94 771.53L221.42 771.65L220.9 771.79L220.38 771.95L219.87 772.11L219.34 772.28L218.82 772.45L218.28 772.63L217.73 772.82L217.18 773L216.61 773.19L216.03 773.39L215.44 773.58L214.83 773.79L214.22 774L213.59 774.21L212.97 774.44L212.35 774.69L211.74 774.95L211.16 775.24L210.61 775.55L210.08 775.89L209.59 776.25L209.12 776.64L208.68 777.04L208.24 777.45L207.81 777.87L207.38 778.29L206.95 778.73L206.52 779.16L206.09 779.61L205.66 780.07L205.25 780.54L204.86 781.02L204.5 781.52L204.19 782.03L203.92 782.56L203.69 783.1L203.49 783.65L203.32 784.22L203.17 784.78L203.04 785.35L202.92 785.93L202.82 786.5L202.73 787.08L202.66 787.66L202.62 788.25L202.61 788.83L202.64 789.42L202.71 790.01L202.81 790.6L202.93 791.19L203.07 791.77L203.23 792.35L203.4 792.93L203.59 793.5L203.79 794.07L204.03 794.63L204.29 795.18L204.59 795.72L204.93 796.26L205.3 796.78L205.7 797.29L206.12 797.8L206.56 798.29L207 798.77L207.44 799.24L207.87 799.7L208.29 800.15L208.7 800.6L209.11 801.04L209.51 801.47L209.91 801.89L210.31 802.31L210.73 802.71L211.16 803.1L211.63 803.48L212.12 803.83L212.64 804.17L213.19 804.49L213.76 804.78L214.34 805.07L214.93 805.33L215.52 805.58L216.1 805.83L216.67 806.06L217.22 806.29L217.76 806.52L218.29 806.73L218.81 806.95L219.31 807.15L219.8 807.36L220.29 807.55L220.76 807.75L221.22 807.94L221.68 808.12L222.12 808.3L222.56 808.48L222.99 808.65L223.41 808.82L223.82 808.99L224.22 809.16L224.62 809.32L225.01 809.48L225.4 809.63L225.78 809.78L226.16 809.93L226.55 810.06L226.94 810.19L227.33 810.3L227.72 810.41L228.12 810.5L228.53 810.58L228.93 810.65L229.33 810.71L229.73 810.77L230.13 810.82L230.52 810.87L230.9 810.92L231.28 810.96L231.64 811.01L232.01 811.06L232.36 811.1L232.71 811.15L233.05 811.19L233.39 811.24L233.72 811.28L234.05 811.32L234.38 811.36L234.69 811.4L235.01 811.44L235.32 811.48L235.63 811.52L235.93 811.56L236.23 811.6L236.53 811.64L236.82 811.68L237.11 811.72L237.4 811.75L237.68 811.79L237.96 811.83L238.24 811.86L238.52 811.9L238.79 811.94L239.06 811.97L239.33 812.01L239.6 812.04L239.87 812.08L240.13 812.11L240.4 812.15L240.66 812.18L240.92 812.22L241.18 812.25L241.43 812.29L241.69 812.33L241.94 812.37L242.2 812.42L242.45 812.46L242.7 812.5L242.95 812.55L243.2 812.59L243.45 812.64L243.71 812.68L243.96 812.71L244.21 812.75L244.46 812.78L244.71 812.81L244.97 812.83L245.22 812.85L245.48 812.87L245.73 812.88L245.98 812.89L246.24 812.9L246.49 812.9L246.75 812.9L247 812.9L247.25 812.89L247.51 812.89L247.76 812.88L248.02 812.88L248.27 812.87L248.52 812.87L248.78 812.87L249.04 812.87L249.29 812.88L249.55 812.88L249.81 812.89L250.07 812.89L250.33 812.9L250.6 812.91L250.86 812.91L251.13 812.92L251.4 812.93L251.67 812.93L251.94 812.94L252.21 812.95L252.49 812.96L252.77 812.97L253.05 812.98L253.33 812.99L253.62 813L253.91 813.01L254.2 813.02L254.5 813.03L254.8 813.04L255.1 813.06L255.41 813.07L255.72 813.08L256.03 813.1L256.35 813.11L256.68 813.13L257.01 813.14L257.34 813.16L257.68 813.17L258.02 813.19L258.37 813.2L258.73 813.21L259.09 813.22L259.45 813.23L259.81 813.23L260.19 813.23L260.56 813.23L260.94 813.23L261.33 813.22L261.72 813.21L262.11 813.2L262.52 813.19L262.93 813.17L263.35 813.16L263.78 813.15L264.22 813.13L264.66 813.12L265.12 813.1L265.59 813.09L266.07 813.07L266.55 813.05L267.06 813.04L267.57 813.02L268.1 813L268.64 812.98L269.19 812.96L269.76 812.94L270.34 812.92L270.95 812.89L271.56 812.86L272.19 812.83L272.84 812.8L273.5 812.75L274.16 812.7L274.83 812.63L275.51 812.55L276.19 812.45L276.87 812.35L277.56 812.23L278.26 812.1L278.98 811.96L279.71 811.82L280.46 811.67L281.24 811.51L282.03 811.35L282.84 811.18L283.66 810.99L284.49 810.78L285.3 810.55L286.11 810.3L286.9 810.03L287.67 809.72L288.42 809.4L289.17 809.06L289.91 808.7L290.65 808.32L291.4 807.93L292.16 807.52L292.91 807.1L293.64 806.65L294.35 806.19L295.03 805.7L295.65 805.18L296.22 804.64L296.74 804.07L297.21 803.49L297.64 802.89L298.02 802.27L298.35 801.63L298.63 800.99L298.83 800.32L298.94 799.65L298.96 798.96L298.89 798.27L298.74 797.57L298.51 796.88L298.23 796.18L297.92 795.5L297.59 794.82L297.26 794.16Z"/>
<path fill="#ff1000" stroke="#000" stroke-opacity="0.75" stroke-width="0.5" stroke-linejoin="round" d="M288.28 793.5L287.97 792.96L287.66 792.44L287.33 791.92L286.99 791.4L286.63 790.9L286.24 790.41L285.83 789.93L285.41 789.46L284.97 789.01L284.52 788.56L284.06 788.13L283.61 787.7L283.16 787.29L282.71 786.88L282.26 786.49L281.81 786.1L281.35 785.73L280.89 785.36L280.43 785.01L279.95 784.67L279.45 784.35L278.95 784.04L278.43 783.74L277.9 783.46L277.38 783.19L276.85 782.93L276.33 782.68L275.81 782.44L275.31 782.2L274.82 781.97L274.35 781.75L273.88 781.53L273.43 781.31L272.99 781.1L272.57 780.89L272.15 780.69L271.74 780.49L271.33 780.29L270.92 780.1L270.51 779.93L270.09 779.76L269.67 779.61L269.24 779.47L268.81 779.34L268.37 779.22L267.94 779.11L267.51 779.01L267.09 778.91L266.67 778.81L266.27 778.72L265.87 778.62L265.48 778.53L265.1 778.44L264.73 778.35L264.37 778.27L264.01 778.18L263.66 778.1L263.32 778.01L262.98 777.93L262.65 777.85L262.33 777.77L262.01 777.69L261.69 777.6L261.38 777.53L261.08 777.45L260.78 777.37L260.48 777.29L260.19 777.21L259.9 777.13L259.62 777.05L259.34 776.98L259.06 776.9L258.78 776.83L258.5 776.76L258.23 776.7L257.95 776.64L257.68 776.58L257.4 776.53L257.12 776.49L256.85 776.45L256.57 776.41L256.3 776.38L256.02 776.35L255.75 776.32L255.48 776.3L255.22 776.27L254.95 776.25L254.69 776.22L254.44 776.19L254.18 776.17L253.93 776.14L253.67 776.11L253.43 776.08L253.18 776.06L252.93 776.03L252.69 776L252.44 775.97L252.2 775.94L251.96 775.91L251.72 775.88L251.48 775.85L251.24 775.82L251.01 775.79L250.77 775.76L250.54 775.73L250.3 775.69L250.07 775.66L249.83 775.63L249.6 775.6L249.36 775.56L249.13 775.54L248.89 775.51L248.66 775.48L248.42 775.46L248.18 775.43L247.95 775.4L247.71 775.38L247.48 775.35L247.24 775.32L247 775.29L246.76 775.26L246.52 775.23L246.28 775.2L246.04 775.17L245.8 775.14L245.55 775.12L245.31 775.09L245.06 775.06L244.81 775.04L244.57 775.01L244.32 774.99L244.06 774.96L243.81 774.94L243.56 774.92L243.3 774.89L243.04 774.87L242.78 774.85L242.52 774.82L242.25 774.8L241.98 774.77L241.71 774.75L241.44 774.72L241.16 774.69L240.88 774.66L240.59 774.63L240.31 774.59L240.01 774.56L239.72 774.52L239.42 774.49L239.11 774.46L238.8 774.42L238.49 774.39L238.18 774.37L237.87 774.35L237.55 774.34L237.23 774.33L236.92 774.33L236.6 774.34L236.27 774.35L235.95 774.36L235.62 774.38L235.29 774.39L234.96 774.41L234.62 774.43L234.27 774.45L233.92 774.47L233.56 774.48L233.2 774.5L232.83 774.52L232.45 774.53L232.06 774.55L231.67 774.57L231.27 774.59L230.86 774.6L230.44 774.62L230.01 774.63L229.58 774.65L229.13 774.67L228.67 774.68L228.2 774.7L227.73 774.72L227.25 774.75L226.77 774.79L226.29 774.85L225.81 774.92L225.34 775L224.87 775.1L224.41 775.21L223.95 775.33L223.49 775.46L223.03 775.6L222.56 775.75L222.09 775.9L221.61 776.05L221.12 776.21L220.63 776.37L220.12 776.54L219.61 776.71L219.08 776.89L218.55 777.07L218.01 777.26L217.47 777.47L216.94 777.68L216.42 777.92L215.93 778.18L215.45 778.45L215 778.75L214.57 779.06L214.15 779.39L213.74 779.72L213.33 780.07L212.92 780.42L212.5 780.77L212.09 781.14L211.67 781.51L211.26 781.89L210.86 782.28L210.49 782.69L210.15 783.11L209.85 783.55L209.59 784L209.37 784.47L209.19 784.94L209.03 785.43L208.89 785.92L208.76 786.41L208.65 786.91L208.55 787.41L208.46 787.91L208.39 788.42L208.33 788.92L208.31 789.43L208.31 789.94L208.33 790.46L208.39 790.97L208.46 791.48L208.55 791.99L208.65 792.5L208.75 793L208.88 793.5L209.01 794L209.17 794.49L209.36 794.98L209.58 795.46L209.83 795.94L210.12 796.4L210.43 796.86L210.76 797.31L211.11 797.75L211.46 798.18L211.8 798.6L212.15 799.02L212.48 799.43L212.81 799.84L213.13 800.24L213.45 800.63L213.77 801.02L214.11 801.4L214.46 801.77L214.83 802.12L215.22 802.46L215.65 802.79L216.11 803.09L216.6 803.38L217.11 803.65L217.64 803.9L218.18 804.13L218.71 804.36L219.25 804.57L219.78 804.77L220.3 804.97L220.81 805.16L221.31 805.34L221.8 805.52L222.28 805.69L222.74 805.86L223.19 806.02L223.63 806.19L224.06 806.35L224.48 806.5L224.89 806.66L225.29 806.81L225.68 806.95L226.06 807.1L226.43 807.24L226.8 807.38L227.16 807.52L227.51 807.66L227.86 807.79L228.21 807.92L228.55 808.04L228.9 808.16L229.25 808.27L229.6 808.36L229.96 808.45L230.32 808.52L230.68 808.59L231.04 808.64L231.4 808.69L231.76 808.74L232.12 808.78L232.47 808.82L232.81 808.85L233.14 808.89L233.47 808.93L233.79 808.96L234.11 809L234.42 809.03L234.73 809.07L235.03 809.11L235.32 809.14L235.61 809.18L235.9 809.21L236.18 809.24L236.46 809.27L236.74 809.31L237.01 809.34L237.28 809.37L237.54 809.39L237.81 809.42L238.07 809.45L238.33 809.47L238.58 809.5L238.84 809.52L239.09 809.54L239.34 809.57L239.58 809.59L239.83 809.61L240.07 809.63L240.31 809.65L240.55 809.67L240.78 809.69L241.02 809.71L241.25 809.73L241.48 809.76L241.71 809.78L241.94 809.8L242.16 809.83L242.39 809.85L242.61 809.88L242.83 809.91L243.05 809.94L243.27 809.97L243.49 810L243.71 810.03L243.93 810.06L244.15 810.09L244.37 810.11L244.59 810.13L244.81 810.15L245.03 810.17L245.25 810.18L245.47 810.19L245.69 810.2L245.91 810.2L246.12 810.2L246.34 810.2L246.56 810.2L246.78 810.19L247 810.19L247.22 810.18L247.44 810.17L247.65 810.17L247.87 810.16L248.09 810.15L248.31 810.15L248.53 810.14L248.75 810.14L248.97 810.14L249.19 810.14L249.41 810.15L249.64 810.15L249.86 810.15L250.09 810.15L250.31 810.15L250.54 810.15L250.77 810.16L251 810.16L251.23 810.16L251.46 810.16L251.7 810.17L251.94 810.17L252.18 810.17L252.42 810.17L252.66 810.18L252.91 810.18L253.15 810.18L253.4 810.18L253.66 810.19L253.91 810.19L254.17 810.2L254.44 810.21L254.71 810.21L254.98 810.22L255.25 810.23L255.53 810.24L255.81 810.25L256.1 810.26L256.39 810.27L256.69 810.28L256.99 810.29L257.29 810.29L257.6 810.29L257.9 810.29L258.22 810.29L258.53 810.28L258.85 810.27L259.17 810.26L259.5 810.24L259.83 810.22L260.17 810.21L260.51 810.19L260.86 810.17L261.22 810.15L261.58 810.13L261.96 810.11L262.34 810.09L262.73 810.08L263.13 810.06L263.54 810.04L263.96 810.02L264.39 810L264.83 809.98L265.28 809.96L265.75 809.94L266.23 809.92L266.72 809.9L267.22 809.88L267.74 809.85L268.27 809.82L268.81 809.79L269.37 809.75L269.93 809.7L270.49 809.64L271.06 809.58L271.63 809.5L272.21 809.41L272.8 809.31L273.4 809.21L274.01 809.09L274.64 808.98L275.29 808.86L275.95 808.73L276.64 808.6L277.34 808.46L278.06 808.31L278.77 808.15L279.49 807.97L280.19 807.76L280.88 807.54L281.56 807.29L282.21 807.02L282.85 806.73L283.49 806.42L284.12 806.1L284.76 805.77L285.39 805.42L286.02 805.06L286.63 804.68L287.22 804.28L287.77 803.86L288.28 803.41L288.73 802.94L289.13 802.46L289.48 801.95L289.78 801.43L290.03 800.89L290.23 800.35L290.38 799.79L290.46 799.22L290.47 798.64L290.4 798.06L290.26 797.47L290.05 796.89L289.8 796.3L289.51 795.73L289.21 795.16L288.9 794.6L288.59 794.04Z"/>
<path fill="#df0000" stroke="#000" stroke-opacity="0.75" stroke-width="0.5" stroke-linejoin="round" d="M279.83 793.5L279.56 793.07L279.29 792.65L279.01 792.24L278.73 791.84L278.44 791.44L278.14 791.05L277.82 790.67L277.49 790.3L277.14 789.93L276.78 789.58L276.41 789.24L276.03 788.9L275.64 788.58L275.23 788.27L274.81 787.97L274.39 787.68L273.95 787.4L273.51 787.14L273.06 786.88L272.61 786.64L272.15 786.41L271.7 786.18L271.25 785.97L270.79 785.77L270.35 785.57L269.91 785.39L269.48 785.21L269.06 785.03L268.64 784.86L268.25 784.7L267.86 784.54L267.48 784.38L267.12 784.23L266.76 784.07L266.42 783.92L266.09 783.77L265.76 783.63L265.44 783.49L265.12 783.35L264.8 783.23L264.47 783.1L264.15 782.99L263.82 782.89L263.49 782.79L263.16 782.7L262.84 782.62L262.51 782.54L262.2 782.46L261.89 782.38L261.58 782.31L261.29 782.24L261 782.17L260.72 782.09L260.44 782.02L260.17 781.95L259.9 781.88L259.64 781.81L259.39 781.74L259.14 781.68L258.89 781.61L258.65 781.54L258.41 781.48L258.17 781.41L257.94 781.35L257.72 781.28L257.49 781.22L257.27 781.15L257.05 781.09L256.83 781.03L256.62 780.97L256.4 780.91L256.19 780.85L255.98 780.79L255.77 780.73L255.57 780.68L255.36 780.63L255.15 780.58L254.95 780.53L254.74 780.49L254.53 780.45L254.33 780.41L254.13 780.38L253.92 780.34L253.72 780.3L253.52 780.27L253.33 780.23L253.13 780.2L252.94 780.16L252.75 780.13L252.55 780.09L252.36 780.05L252.18 780.02L251.99 779.98L251.8 779.94L251.61 779.91L251.43 779.87L251.24 779.83L251.06 779.8L250.88 779.76L250.69 779.72L250.51 779.69L250.32 779.65L250.14 779.62L249.96 779.58L249.78 779.54L249.59 779.51L249.41 779.47L249.23 779.44L249.04 779.4L248.86 779.37L248.68 779.34L248.49 779.31L248.31 779.28L248.12 779.26L247.94 779.23L247.75 779.2L247.56 779.18L247.38 779.15L247.19 779.13L247 779.1L246.81 779.07L246.62 779.05L246.43 779.02L246.24 778.99L246.05 778.97L245.85 778.95L245.66 778.92L245.47 778.9L245.27 778.88L245.07 778.86L244.87 778.84L244.68 778.83L244.48 778.81L244.27 778.79L244.07 778.78L243.87 778.76L243.66 778.75L243.45 778.73L243.25 778.72L243.03 778.7L242.82 778.69L242.61 778.67L242.39 778.65L242.17 778.63L241.95 778.61L241.72 778.59L241.49 778.57L241.26 778.55L241.03 778.52L240.79 778.5L240.55 778.48L240.3 778.46L240.06 778.44L239.81 778.43L239.56 778.41L239.31 778.41L239.06 778.4L238.8 778.4L238.55 778.41L238.29 778.41L238.03 778.42L237.76 778.43L237.5 778.44L237.23 778.45L236.95 778.46L236.67 778.47L236.38 778.48L236.09 778.49L235.79 778.49L235.49 778.5L235.18 778.51L234.86 778.51L234.54 778.52L234.21 778.53L233.87 778.53L233.53 778.53L233.17 778.54L232.8 778.54L232.43 778.54L232.04 778.54L231.65 778.54L231.24 778.55L230.83 778.56L230.42 778.57L230.01 778.6L229.6 778.64L229.2 778.7L228.8 778.76L228.4 778.84L228.01 778.93L227.63 779.04L227.25 779.15L226.87 779.27L226.48 779.4L226.1 779.54L225.72 779.68L225.33 779.83L224.93 779.98L224.53 780.13L224.12 780.29L223.7 780.45L223.28 780.62L222.86 780.8L222.44 780.99L222.03 781.19L221.63 781.4L221.24 781.62L220.85 781.86L220.47 782.1L220.08 782.35L219.69 782.61L219.3 782.87L218.89 783.13L218.49 783.4L218.09 783.69L217.7 783.98L217.33 784.29L216.99 784.61L216.69 784.95L216.43 785.31L216.2 785.68L216.01 786.06L215.85 786.45L215.72 786.85L215.6 787.25L215.49 787.66L215.39 788.07L215.3 788.48L215.21 788.89L215.13 789.3L215.06 789.72L215 790.14L214.95 790.56L214.92 790.98L214.9 791.4L214.9 791.82L214.9 792.24L214.92 792.66L214.95 793.08L214.99 793.5L215.04 793.92L215.12 794.33L215.21 794.75L215.34 795.16L215.48 795.57L215.65 795.97L215.85 796.36L216.05 796.75L216.27 797.14L216.5 797.52L216.72 797.89L216.95 798.26L217.18 798.62L217.42 798.98L217.65 799.34L217.9 799.69L218.15 800.03L218.42 800.36L218.7 800.69L219.01 801L219.34 801.3L219.69 801.59L220.07 801.86L220.47 802.12L220.89 802.36L221.33 802.59L221.78 802.8L222.24 803L222.7 803.19L223.17 803.37L223.64 803.53L224.12 803.69L224.58 803.83L225.04 803.97L225.5 804.1L225.94 804.23L226.37 804.36L226.78 804.48L227.18 804.6L227.57 804.72L227.95 804.83L228.32 804.95L228.68 805.06L229.03 805.17L229.37 805.28L229.71 805.39L230.03 805.49L230.35 805.6L230.67 805.7L230.98 805.79L231.29 805.89L231.59 805.98L231.9 806.06L232.2 806.14L232.51 806.21L232.82 806.27L233.12 806.33L233.43 806.38L233.73 806.43L234.02 806.48L234.32 806.52L234.61 806.56L234.89 806.6L235.17 806.64L235.44 806.68L235.71 806.72L235.97 806.76L236.23 806.8L236.48 806.84L236.73 806.88L236.98 806.92L237.23 806.95L237.47 806.99L237.71 807.02L237.95 807.05L238.18 807.08L238.41 807.11L238.65 807.13L238.88 807.15L239.11 807.17L239.33 807.19L239.56 807.21L239.78 807.22L240 807.23L240.22 807.24L240.44 807.25L240.66 807.26L240.87 807.26L241.08 807.27L241.29 807.28L241.5 807.28L241.71 807.29L241.91 807.3L242.11 807.3L242.31 807.31L242.51 807.32L242.71 807.33L242.9 807.34L243.09 807.36L243.28 807.37L243.47 807.39L243.66 807.4L243.85 807.42L244.04 807.44L244.23 807.45L244.41 807.46L244.6 807.47L244.79 807.48L244.97 807.49L245.16 807.5L245.34 807.5L245.53 807.5L245.71 807.5L245.9 807.5L246.08 807.5L246.27 807.49L246.45 807.49L246.63 807.48L246.82 807.47L247 807.47L247.18 807.46L247.37 807.45L247.55 807.44L247.73 807.44L247.91 807.43L248.1 807.43L248.28 807.42L248.46 807.42L248.65 807.42L248.83 807.42L249.02 807.42L249.2 807.41L249.39 807.41L249.58 807.41L249.77 807.41L249.96 807.41L250.15 807.41L250.34 807.41L250.53 807.4L250.72 807.4L250.92 807.4L251.12 807.39L251.31 807.39L251.51 807.39L251.71 807.38L251.91 807.38L252.12 807.37L252.32 807.37L252.53 807.37L252.74 807.37L252.96 807.37L253.17 807.37L253.39 807.37L253.62 807.37L253.84 807.38L254.07 807.38L254.31 807.39L254.54 807.39L254.78 807.4L255.03 807.4L255.27 807.41L255.52 807.41L255.77 807.41L256.03 807.4L256.29 807.4L256.55 807.39L256.81 807.38L257.07 807.36L257.34 807.35L257.61 807.33L257.89 807.31L258.17 807.29L258.46 807.27L258.75 807.26L259.05 807.24L259.35 807.22L259.66 807.2L259.98 807.18L260.31 807.16L260.64 807.14L260.98 807.12L261.33 807.1L261.69 807.08L262.06 807.06L262.43 807.03L262.82 807.01L263.22 806.99L263.63 806.96L264.05 806.94L264.48 806.91L264.92 806.88L265.37 806.84L265.82 806.8L266.29 806.76L266.76 806.7L267.24 806.64L267.72 806.58L268.22 806.5L268.73 806.43L269.25 806.35L269.79 806.26L270.35 806.18L270.93 806.09L271.52 805.99L272.14 805.9L272.76 805.79L273.4 805.67L274.04 805.54L274.67 805.39L275.28 805.21L275.87 805.02L276.45 804.8L277 804.57L277.54 804.31L278.06 804.05L278.58 803.76L279.09 803.46L279.58 803.15L280.05 802.82L280.5 802.48L280.91 802.11L281.28 801.73L281.6 801.33L281.86 800.91L282.06 800.47L282.22 800.03L282.31 799.57L282.35 799.1L282.34 798.62L282.27 798.14L282.15 797.66L281.98 797.18L281.76 796.69L281.51 796.22L281.24 795.74L280.95 795.28L280.67 794.82L280.38 794.37L280.1 793.93Z"/>
<path fill="#af0000" stroke="#000" stroke-opacity="0.75" stroke-width="0.5" stroke-linejoin="round" d="M268.49 793.5L268.28 793.22L268.08 792.95L267.88 792.68L267.69 792.42L267.5 792.16L267.31 791.9L267.12 791.65L266.92 791.41L266.71 791.17L266.48 790.93L266.23 790.71L265.96 790.5L265.65 790.3L265.32 790.11L264.96 789.93L264.57 789.76L264.18 789.61L263.77 789.47L263.36 789.34L262.96 789.22L262.57 789.11L262.2 789L261.84 788.89L261.5 788.79L261.18 788.69L260.87 788.59L260.57 788.49L260.29 788.4L260.01 788.31L259.74 788.22L259.48 788.14L259.23 788.06L258.98 787.98L258.75 787.9L258.52 787.82L258.3 787.74L258.08 787.67L257.87 787.6L257.66 787.53L257.46 787.46L257.27 787.39L257.07 787.33L256.88 787.27L256.69 787.2L256.51 787.15L256.33 787.09L256.15 787.03L255.98 786.98L255.81 786.92L255.65 786.87L255.48 786.81L255.32 786.76L255.17 786.71L255.02 786.65L254.87 786.6L254.72 786.55L254.58 786.49L254.44 786.44L254.3 786.39L254.16 786.34L254.03 786.29L253.89 786.24L253.76 786.19L253.62 786.15L253.49 786.1L253.36 786.06L253.22 786.02L253.09 785.98L252.96 785.94L252.83 785.9L252.71 785.86L252.58 785.82L252.45 785.78L252.33 785.75L252.21 785.71L252.08 785.67L251.96 785.63L251.85 785.59L251.73 785.55L251.61 785.51L251.5 785.47L251.38 785.43L251.27 785.38L251.16 785.34L251.05 785.29L250.94 785.24L250.83 785.19L250.72 785.14L250.61 785.09L250.5 785.04L250.39 784.99L250.28 784.94L250.17 784.9L250.06 784.85L249.95 784.8L249.84 784.76L249.73 784.71L249.62 784.67L249.5 784.62L249.39 784.58L249.28 784.54L249.16 784.5L249.05 784.46L248.93 784.42L248.81 784.39L248.7 784.35L248.58 784.31L248.46 784.28L248.34 784.25L248.22 784.22L248.1 784.19L247.98 784.16L247.86 784.13L247.74 784.11L247.62 784.08L247.49 784.06L247.37 784.04L247.25 784.02L247.12 784L247 783.98L246.88 783.96L246.75 783.94L246.62 783.92L246.5 783.91L246.37 783.89L246.24 783.88L246.11 783.87L245.99 783.85L245.86 783.84L245.73 783.83L245.6 783.82L245.47 783.81L245.33 783.8L245.2 783.79L245.07 783.79L244.93 783.78L244.8 783.78L244.66 783.77L244.53 783.77L244.39 783.76L244.25 783.76L244.11 783.76L243.97 783.76L243.83 783.76L243.69 783.75L243.55 783.75L243.4 783.75L243.25 783.74L243.1 783.73L242.95 783.73L242.8 783.72L242.64 783.71L242.48 783.69L242.32 783.68L242.15 783.67L241.98 783.66L241.81 783.64L241.64 783.63L241.47 783.62L241.29 783.61L241.11 783.59L240.92 783.58L240.74 783.57L240.55 783.56L240.35 783.55L240.16 783.54L239.96 783.53L239.75 783.52L239.54 783.51L239.32 783.5L239.1 783.48L238.87 783.47L238.64 783.45L238.4 783.43L238.16 783.41L237.9 783.4L237.64 783.38L237.37 783.35L237.09 783.33L236.8 783.3L236.5 783.27L236.19 783.24L235.87 783.21L235.54 783.18L235.21 783.16L234.87 783.14L234.53 783.13L234.2 783.14L233.88 783.16L233.57 783.19L233.27 783.25L232.98 783.31L232.7 783.39L232.43 783.49L232.17 783.59L231.91 783.7L231.65 783.82L231.39 783.94L231.13 784.06L230.87 784.19L230.6 784.31L230.32 784.44L230.03 784.57L229.74 784.7L229.43 784.84L229.11 784.97L228.79 785.1L228.45 785.24L228.1 785.38L227.73 785.52L227.36 785.66L226.97 785.81L226.57 785.96L226.17 786.12L225.79 786.3L225.42 786.49L225.08 786.69L224.78 786.92L224.52 787.16L224.3 787.42L224.12 787.69L223.97 787.97L223.84 788.26L223.73 788.55L223.63 788.85L223.54 789.15L223.45 789.45L223.36 789.76L223.27 790.06L223.18 790.36L223.08 790.67L222.98 790.98L222.87 791.28L222.76 791.59L222.65 791.9L222.55 792.22L222.46 792.54L222.37 792.86L222.3 793.18L222.25 793.5L222.22 793.82L222.2 794.15L222.2 794.47L222.21 794.8L222.24 795.12L222.28 795.45L222.32 795.77L222.38 796.09L222.45 796.41L222.52 796.72L222.61 797.04L222.72 797.35L222.83 797.65L222.97 797.95L223.12 798.25L223.29 798.54L223.48 798.82L223.69 799.1L223.92 799.36L224.16 799.62L224.42 799.87L224.69 800.11L224.97 800.34L225.27 800.56L225.58 800.77L225.9 800.97L226.24 801.16L226.59 801.33L226.97 801.49L227.36 801.64L227.76 801.77L228.18 801.88L228.61 801.98L229.04 802.07L229.47 802.14L229.89 802.22L230.3 802.29L230.7 802.35L231.08 802.42L231.45 802.48L231.8 802.54L232.14 802.6L232.47 802.67L232.8 802.72L233.11 802.78L233.41 802.84L233.71 802.9L233.99 802.95L234.27 803L234.55 803.06L234.82 803.11L235.08 803.15L235.34 803.2L235.59 803.25L235.83 803.29L236.07 803.34L236.31 803.38L236.54 803.43L236.76 803.47L236.98 803.52L237.2 803.56L237.41 803.61L237.61 803.65L237.82 803.7L238.02 803.74L238.21 803.79L238.41 803.83L238.6 803.87L238.79 803.91L238.98 803.95L239.17 803.99L239.36 804.02L239.54 804.05L239.73 804.08L239.91 804.11L240.1 804.13L240.28 804.15L240.47 804.16L240.65 804.17L240.84 804.18L241.02 804.18L241.2 804.18L241.38 804.17L241.56 804.17L241.74 804.16L241.92 804.14L242.1 804.13L242.27 804.11L242.45 804.1L242.62 804.08L242.79 804.06L242.95 804.05L243.11 804.04L243.27 804.02L243.43 804.01L243.59 804L243.74 803.99L243.89 803.99L244.04 803.98L244.19 803.98L244.34 803.97L244.49 803.97L244.63 803.96L244.78 803.95L244.92 803.95L245.07 803.94L245.21 803.93L245.35 803.92L245.49 803.91L245.63 803.9L245.77 803.88L245.91 803.87L246.05 803.86L246.19 803.85L246.32 803.84L246.46 803.83L246.59 803.82L246.73 803.81L246.87 803.8L247 803.79L247.13 803.78L247.27 803.78L247.4 803.77L247.54 803.77L247.67 803.76L247.81 803.76L247.94 803.76L248.08 803.75L248.21 803.75L248.35 803.75L248.49 803.74L248.62 803.74L248.76 803.74L248.9 803.73L249.03 803.73L249.17 803.72L249.31 803.72L249.45 803.71L249.59 803.7L249.73 803.69L249.87 803.68L250.01 803.67L250.16 803.66L250.3 803.65L250.44 803.64L250.58 803.62L250.73 803.61L250.88 803.6L251.02 803.59L251.17 803.58L251.32 803.57L251.48 803.56L251.63 803.55L251.79 803.55L251.95 803.54L252.12 803.54L252.28 803.54L252.45 803.54L252.62 803.53L252.79 803.53L252.97 803.53L253.14 803.52L253.32 803.52L253.5 803.51L253.68 803.5L253.87 803.49L254.05 803.48L254.24 803.47L254.43 803.45L254.62 803.44L254.82 803.42L255.02 803.4L255.22 803.38L255.43 803.37L255.64 803.35L255.85 803.33L256.06 803.31L256.28 803.28L256.51 803.26L256.74 803.24L256.97 803.21L257.21 803.19L257.45 803.16L257.7 803.13L257.95 803.11L258.21 803.08L258.48 803.05L258.76 803.02L259.04 802.99L259.33 802.96L259.63 802.93L259.93 802.9L260.25 802.86L260.58 802.83L260.91 802.79L261.25 802.76L261.61 802.72L261.98 802.68L262.36 802.64L262.75 802.6L263.17 802.55L263.59 802.51L264.04 802.47L264.51 802.42L264.99 802.37L265.49 802.32L266 802.26L266.52 802.19L267.03 802.11L267.53 802L268 801.88L268.46 801.74L268.88 801.57L269.27 801.39L269.64 801.19L269.99 800.97L270.31 800.74L270.61 800.49L270.88 800.24L271.13 799.96L271.34 799.68L271.52 799.39L271.66 799.08L271.74 798.76L271.77 798.43L271.73 798.08L271.64 797.73L271.49 797.38L271.28 797.02L271.04 796.67L270.78 796.31L270.5 795.97L270.22 795.63L269.94 795.31L269.68 794.99L269.42 794.67L269.17 794.37L268.94 794.07L268.71 793.78Z"/>
</g>
<path fill="none" stroke="#808080" stroke-width="1.1" d="M113.85 998.3v6.3M113.85 600.3v-6.3M134.87 998.3v6.3M134.87 600.3v-6.3M155.88 998.3v6.3M155.88 600.3v-6.3M176.9 998.3v12M176.9 600.3v-12M197.92 998.3v6.3M197.92 600.3v-6.3M218.93 998.3v6.3M218.93 600.3v-6.3M239.95 998.3v6.3M239.95 600.3v-6.3M260.96 998.3v12M260.96 600.3v-12M281.98 998.3v6.3M281.98 600.3v-6.3M302.99 998.3v6.3M302.99 600.3v-6.3M324.01 998.3v6.3M324.01 600.3v-6.3M345.02 998.3v12M345.02 600.3v-12M366.03 998.3v6.3M366.03 600.3v-6.3M387.05 998.3v6.3M387.05 600.3v-6.3M408.07 998.3v6.3M408.07 600.3v-6.3M429.08 998.3v12M429.08 600.3v-12M450.1 998.3v6.3M450.1 600.3v-6.3M471.11 998.3v6.3M471.11 600.3v-6.3M492.12 998.3v6.3M492.12 600.3v-6.3M104.9 998.41h-6.3M503.3 998.41h6.3M104.9 979.46h-6.3M503.3 979.46h6.3M104.9 966.02h-6.3M503.3 966.02h6.3M104.9 955.59h-6.3M503.3 955.59h6.3M104.9 947.07h-6.3M503.3 947.07h6.3M104.9 939.87h-6.3M503.3 939.87h6.3M104.9 933.63h-6.3M503.3 933.63h6.3M104.9 928.12h-6.3M503.3 928.12h6.3M104.9 923.2h-12M503.3 923.2h6.3M104.9 890.81h-6.3M503.3 890.81h6.3M104.9 871.86h-6.3M503.3 871.86h6.3M104.9 858.42h-6.3M503.3 858.42h6.3M104.9 847.99h-6.3M503.3 847.99h6.3M104.9 839.47h-6.3M503.3 839.47h6.3M104.9 832.27h-6.3M503.3 832.27h6.3M104.9 826.03h-6.3M503.3 826.03h6.3M104.9 820.52h-6.3M503.3 820.52h6.3M104.9 815.6h-12M503.3 815.6h6.3M104.9 783.21h-6.3M503.3 783.21h6.3M104.9 764.26h-6.3M503.3 764.26h6.3M104.9 750.82h-6.3M503.3 750.82h6.3M104.9 740.39h-6.3M503.3 740.39h6.3M104.9 731.87h-6.3M503.3 731.87h6.3M104.9 724.67h-6.3M503.3 724.67h6.3M104.9 718.43h-6.3M503.3 718.43h6.3M104.9 712.92h-6.3M503.3 712.92h6.3M104.9 708h-12M503.3 708h6.3M104.9 675.61h-6.3M503.3 675.61h6.3M104.9 656.66h-6.3M503.3 656.66h6.3M104.9 643.22h-6.3M503.3 643.22h6.3M104.9 632.79h-6.3M503.3 632.79h6.3M104.9 624.27h-6.3M503.3 624.27h6.3M104.9 617.07h-6.3M503.3 617.07h6.3M104.9 610.83h-6.3M503.3 610.83h6.3M104.9 605.32h-6.3M503.3 605.32h6.3M104.9 600.4h-12M503.3 600.4h6.3"/>
<linearGradient id="ccg" x1="0" y1="1" x2="0" y2="0"><stop offset="0" stop-color="#00008f"/><stop offset="0.125" stop-color="#0000ff"/><stop offset="0.375" stop-color="#00ffff"/><stop offset="0.625" stop-color="#ffff00"/><stop offset="0.875" stop-color="#ff0000"/><stop offset="1" stop-color="#800000"/></linearGradient>
<rect x="509.4" y="600.3" width="12.5" height="398" fill="url(#ccg)" stroke="#808080" stroke-width="0.8"/>
<text x="531.5" y="1006.3" font-size="24" font-family='"Liberation Serif", "DejaVu Serif", serif'>0</text>
<text x="531.5" y="938.4" font-size="24" font-family='"Liberation Serif", "DejaVu Serif", serif'>1</text>
<text x="531.5" y="870.5" font-size="24" font-family='"Liberation Serif", "DejaVu Serif", serif'>2</text>
<text x="531.5" y="802.6" font-size="24" font-family='"Liberation Serif", "DejaVu Serif", serif'>3</text>
<text x="531.5" y="734.7" font-size="24" font-family='"Liberation Serif", "DejaVu Serif", serif'>4</text>
<text x="531.5" y="666.8" font-size="24" font-family='"Liberation Serif", "DejaVu Serif", serif'>5</text>
<path fill="none" stroke="#808080" stroke-width="1" d="M521.9 998.3h-3M521.9 930.4h-3M521.9 862.5h-3M521.9 794.6h-3M521.9 726.7h-3M521.9 658.8h-3"/>
<text x="176.9" y="1037.5" font-size="24" text-anchor="middle" font-family='"Liberation Serif", "DejaVu Serif", serif'>0.8</text>
<text x="260.96" y="1037.5" font-size="24" text-anchor="middle" font-family='"Liberation Serif", "DejaVu Serif", serif'>1.0</text>
<text x="345.02" y="1037.5" font-size="24" text-anchor="middle" font-family='"Liberation Serif", "DejaVu Serif", serif'>1.2</text>
<text x="429.08" y="1037.5" font-size="24" text-anchor="middle" font-family='"Liberation Serif", "DejaVu Serif", serif'>1.4</text>
<text x="50.3" y="932.1" font-size="24" font-family='"Liberation Serif", "DejaVu Serif", serif'>10<tspan font-size="15.2" dy="-9.8">0</tspan></text>
<text x="50.3" y="824.5" font-size="24" font-family='"Liberation Serif", "DejaVu Serif", serif'>10<tspan font-size="15.2" dy="-9.8">1</tspan></text>
<text x="50.3" y="716.9" font-size="24" font-family='"Liberation Serif", "DejaVu Serif", serif'>10<tspan font-size="15.2" dy="-9.8">2</tspan></text>
<text x="50.3" y="609.3" font-size="24" font-family='"Liberation Serif", "DejaVu Serif", serif'>10<tspan font-size="15.2" dy="-9.8">3</tspan></text>
<text font-size="30" font-family='"Liberation Serif", "DejaVu Serif", serif'><tspan x="227" y="1083.8" font-style="italic">C</tspan><tspan x="249" y="1083.8" font-style="italic">f</tspan><tspan x="262.2" y="1088.4" font-style="italic" font-size="19.5">LS</tspan><tspan x="284" y="1090.3" font-size="39">/</tspan><tspan x="297.4" y="1083.8" font-style="italic">C</tspan><tspan x="320.5" y="1083.8" font-style="italic">f</tspan><tspan x="339" y="1087.3" font-family="DejaVu Sans, sans-serif" font-weight="200" font-size="31">+</tspan><tspan x="371.1" y="1083.8">1</tspan></text>
<line x1="299.9" y1="1058.9" x2="331.1" y2="1058.9" stroke="#000" stroke-width="1.6"/>
<text x="2.3" y="608.3" font-size="30" font-family='"Liberation Serif", "DejaVu Serif", serif'>(<tspan font-style="italic">c</tspan>)</text>
<text x="6.5" y="812.9" font-size="30" font-style="italic" font-family='"Liberation Serif", "DejaVu Serif", serif'>y<tspan x="17.7" y="803.2" font-style="normal" font-family="DejaVu Sans, sans-serif" font-weight="200" font-size="21.3">+</tspan></text>
<rect x="719.2" y="614.5" width="383.5" height="383.4" fill="#00008f"/>
<clipPath id="dd"><rect x="719.2" y="614.5" width="383.5" height="383.4"/></clipPath>
<g clip-path="url(#dd)">
<path fill="#0000bf" stroke="#000" stroke-opacity="0.75" stroke-width="0.5" stroke-linejoin="round" d="M724.7 652.58L724.95 643.01L725.33 635.2L725.83 629.16L726.59 624.88L727.59 622.36L729.36 620.34L731.88 618.83L736.16 617.7L742.2 616.94L759.84 616.49L789.06 616.34L826.5 616.38L872.17 616.6L903.4 617.35L920.19 618.61L936.98 620.71L953.77 623.64L970.57 627.21L987.36 631.41L1002.05 636.03L1014.65 641.07L1025.14 646.52L1033.54 652.4L1039.42 658.7L1042.77 665.42L1044.03 671.71L1043.19 677.59L1043.61 685.99L1045.29 696.9L1048.02 707.82L1051.8 718.73L1052.64 727.38L1050.54 733.76L1047.81 741.14L1044.45 749.54L1041.52 757.09L1039 763.81L1039 769.27L1041.52 773.47L1044.87 779.76L1049.07 788.16L1053.9 797.82L1059.36 808.73L1058.52 817.97L1051.38 825.52L1043.19 831.4L1033.96 835.6L1023.04 838.96L1010.45 841.48L997.85 843.07L985.26 843.74L972.67 843.74L960.07 843.07L947.48 841.9L934.88 840.22L920.19 837.28L903.4 833.08L894.08 830.14L892.24 828.46L887.12 825.73L878.73 821.96L869.49 819.44L859.42 818.18L848.92 820.07L838.01 825.1L826.25 829.72L813.66 833.92L801.06 836.52L788.47 837.53L775.87 836.69L763.28 834.01L752.78 829.72L744.39 823.85L738.09 817.55L733.89 810.83L731.16 803.27L729.9 794.88L729.69 787.32L730.53 780.6L731.79 773.47L733.47 765.91L733.68 759.78L732.42 755.09L730.74 746.44L728.64 733.85L726.75 719.15L725.08 702.36L724.32 684.81L724.49 666.52Z"/>
<path fill="#0000ef" stroke="#000" stroke-opacity="0.75" stroke-width="0.5" stroke-linejoin="round" d="M728.17 652.58L728.32 643.01L728.7 635.71L729.31 630.67L730.24 626.89L731.5 624.37L733.39 622.31L735.91 620.7L739.94 619.44L745.48 618.53L762.1 618.03L789.81 617.92L826.5 618.21L872.17 618.9L903.4 620.29L920.19 622.38L936.98 625.53L953.77 629.73L968.47 634.35L981.06 639.39L991.56 644.42L999.95 649.46L1005.62 653.66L1008.56 657.02L1010.66 663.32L1011.92 672.55L1014.65 685.57L1018.85 702.36L1019.69 716.46L1017.17 727.88L1012.97 738.62L1007.09 748.7L1001 757.09L994.71 763.81L994.29 771.37L999.74 779.76L1004.99 786.9L1010.03 792.78L1014.44 798.66L1018.22 804.53L1019.48 809.57L1018.22 813.77L1014.23 817.97L1007.51 822.17L997.85 825.52L985.26 828.04L972.67 829.3L960.07 829.3L947.48 828.46L934.88 826.78L923.55 824.27L913.47 820.91L905.08 816.71L898.36 811.67L893.66 808.73L890.98 807.89L886.28 804.11L879.57 797.4L873.27 792.15L867.39 788.37L864.24 785.43L863.82 783.33L862.57 781.65L860.47 780.39L856.06 782.07L849.34 786.69L842.62 791.94L835.91 797.82L830.03 804.11L824.99 810.83L817.43 816.5L807.36 821.12L797.28 823.85L787.21 824.69L777.13 824.06L767.06 821.96L758.66 818.81L751.94 814.61L747.12 809.57L744.18 803.69L742.5 797.4L742.08 790.68L743.34 783.12L746.28 774.73L747.96 768.43L748.38 764.23L747.75 759.78L746.07 755.09L743.13 746.44L738.93 733.85L735.15 719.15L731.79 702.36L729.61 684.81L728.6 666.52Z"/>
<path fill="#0020ff" stroke="#000" stroke-opacity="0.75" stroke-width="0.5" stroke-linejoin="round" d="M731.2 653.09L731.35 644.52L731.73 637.72L732.33 632.69L733.26 628.91L734.52 626.39L736.41 624.25L738.93 622.48L742.71 621.1L747.75 620.09L763.61 619.51L790.31 619.36L826.5 619.9L872.17 621.14L903.4 623.01L920.19 625.53L934.88 628.89L947.48 633.09L959.23 638.13L970.15 644.01L979.38 649.88L986.94 655.76L991.98 665.42L994.5 678.85L997.02 691.86L999.53 704.46L999.11 715.62L995.76 725.36L991.14 732.75L985.26 737.78L981.48 742.4L979.8 746.6L972.67 751.22L960.07 756.26L947.48 758.98L934.88 759.4L920.19 759.4L903.4 758.98L891.98 757.51L885.94 755L881.25 752.27L877.89 749.33L872.01 747.02L863.61 745.34L853.54 745.55L841.78 747.65L830.45 754.16L819.53 765.07L813.03 773.89L810.93 780.6L810.93 786.06L813.03 790.26L813.66 794.04L812.82 797.4L809.04 802.02L802.32 807.89L793.93 811.88L783.85 813.98L773.77 813.14L763.7 809.36L757.82 804.11L756.14 797.4L756.14 790.26L757.82 782.7L760.55 775.99L764.33 770.11L765.59 764.23L764.33 758.35L762.02 751.64L758.66 744.08L754.88 737.11L750.68 730.74L745.65 719.15L739.77 702.36L735.4 684.81L732.55 666.52Z"/>
<path fill="#0020ff" stroke="#000" stroke-opacity="0.75" stroke-width="0.5" stroke-linejoin="round" d="M922.29 785.01L926.49 783.75L934.67 783L946.85 782.75L956.08 785.47L962.38 791.18L969.31 797.31L976.86 803.86L976.86 809.32L969.31 813.69L961.75 816.5L954.19 817.76L947.06 817.76L940.34 816.5L934.46 814.19L929.42 810.83L925.02 807.05L921.24 802.85L919.77 799.08L920.61 795.72L920.82 791.94L920.4 787.74Z"/>
<path fill="#0050ff" stroke="#000" stroke-opacity="0.75" stroke-width="0.5" stroke-linejoin="round" d="M734.22 653.59L734.37 646.04L734.75 639.74L735.35 634.7L736.54 630.67L738.3 627.65L740.69 625.38L743.72 623.87L747.75 622.56L752.78 621.45L767.39 620.85L791.57 620.75L826.5 621.04L872.17 621.74L901.3 622.85L913.89 624.36L926.49 626.79L939.08 630.15L949.58 634.35L957.97 639.39L965.53 646.1L972.25 654.5L976.86 667.51L979.38 685.15L980.43 699L980.01 709.08L979.17 717.3L977.91 723.68L973.51 729.39L965.95 734.42L955.87 738.62L943.28 741.98L930.68 743.24L918.09 742.4L907.59 741.77L899.2 741.35L894.08 740.51L892.24 739.25L887.12 736.73L878.73 732.96L869.07 730.86L858.16 730.44L847.66 731.07L837.59 732.75L826.67 735.68L814.92 739.88L804.21 743.87L794.55 747.65L785.74 747.65L777.76 743.87L769.58 736.27L761.18 724.86L753.62 712.85L746.91 700.26L741.66 687.67L737.88 675.07L735.53 665.92L734.61 660.22Z"/>
<path fill="#0080ff" stroke="#000" stroke-opacity="0.75" stroke-width="0.5" stroke-linejoin="round" d="M959.28 658.5L958.83 656.45L958.32 654.42L957.74 652.4L957.08 650.4L956.28 648.42L955.29 646.48L954.07 644.57L952.58 642.73L950.83 640.94L948.83 639.24L946.59 637.61L944.11 636.07L941.42 634.63L938.52 633.29L935.45 632.05L932.27 630.92L929.04 629.87L925.77 628.9L922.5 628.02L919.22 627.22L915.93 626.51L912.63 625.88L909.35 625.32L906.12 624.83L902.94 624.4L899.84 624.03L896.79 623.71L893.8 623.45L890.84 623.26L887.93 623.11L885.09 623.02L882.34 622.96L879.69 622.92L877.16 622.89L874.75 622.87L872.47 622.85L870.29 622.83L868.22 622.82L866.25 622.8L864.37 622.78L862.57 622.76L860.84 622.75L859.19 622.73L857.61 622.71L856.08 622.7L854.62 622.68L853.21 622.66L851.85 622.65L850.54 622.63L849.27 622.61L848.04 622.6L846.86 622.58L845.71 622.56L844.59 622.55L843.51 622.53L842.46 622.52L841.45 622.5L840.45 622.48L839.49 622.47L838.55 622.45L837.63 622.44L836.74 622.42L835.87 622.4L835.01 622.39L834.18 622.37L833.37 622.36L832.57 622.34L831.79 622.33L831.03 622.31L830.28 622.3L829.54 622.28L828.82 622.27L828.12 622.25L827.42 622.24L826.74 622.23L826.07 622.21L825.4 622.2L824.75 622.18L824.11 622.17L823.48 622.16L822.86 622.14L822.25 622.13L821.64 622.12L821.04 622.11L820.45 622.09L819.87 622.08L819.29 622.07L818.73 622.06L818.16 622.05L817.6 622.03L817.05 622.02L816.51 622.01L815.97 622L815.43 621.99L814.9 621.98L814.37 621.97L813.85 621.96L813.33 621.95L812.81 621.94L812.3 621.93L811.79 621.92L811.28 621.91L810.78 621.91L810.28 621.9L809.78 621.89L809.29 621.88L808.79 621.87L808.3 621.87L807.81 621.86L807.32 621.85L806.84 621.85L806.35 621.84L805.87 621.83L805.39 621.83L804.9 621.82L804.42 621.82L803.94 621.81L803.46 621.81L802.98 621.8L802.5 621.8L802.02 621.8L801.54 621.8L801.06 621.81L800.58 621.81L800.1 621.82L799.61 621.82L799.13 621.82L798.65 621.83L798.16 621.83L797.67 621.83L797.18 621.83L796.69 621.83L796.2 621.83L795.7 621.83L795.21 621.83L794.71 621.83L794.2 621.83L793.7 621.83L793.19 621.84L792.68 621.84L792.16 621.84L791.64 621.84L791.12 621.84L790.59 621.84L790.06 621.84L789.52 621.84L788.98 621.84L788.43 621.84L787.88 621.84L787.32 621.85L786.75 621.85L786.18 621.85L785.6 621.85L785.02 621.85L784.43 621.85L783.83 621.85L783.22 621.85L782.6 621.85L781.98 621.85L781.34 621.85L780.7 621.85L780.04 621.85L779.38 621.86L778.7 621.86L778.02 621.86L777.32 621.86L776.6 621.86L775.88 621.86L775.14 621.86L774.38 621.86L773.62 621.86L772.83 621.87L772.04 621.87L771.23 621.89L770.42 621.91L769.59 621.95L768.75 621.99L767.9 622.04L767.04 622.1L766.16 622.16L765.25 622.22L764.33 622.28L763.39 622.34L762.42 622.41L761.42 622.48L760.4 622.55L759.36 622.62L758.29 622.7L757.2 622.79L756.11 622.91L755.03 623.06L753.98 623.25L752.97 623.49L751.99 623.78L751.04 624.12L750.12 624.48L749.2 624.87L748.29 625.28L747.38 625.71L746.49 626.16L745.64 626.66L744.84 627.2L744.12 627.78L743.46 628.42L742.85 629.08L742.28 629.78L741.74 630.49L741.22 631.22L740.72 631.96L740.25 632.72L739.82 633.49L739.44 634.29L739.11 635.12L738.83 635.95L738.59 636.81L738.38 637.66L738.18 638.53L737.98 639.39L737.8 640.25L737.62 641.12L737.47 641.98L737.33 642.85L737.21 643.73L737.12 644.6L737.06 645.48L737.01 646.36L736.97 647.24L736.94 648.12L736.91 648.99L736.88 649.86L736.85 650.73L736.82 651.6L736.79 652.46L736.76 653.33L736.73 654.19L736.71 655.05L736.7 655.91L736.7 656.78L736.72 657.64L736.76 658.5L736.82 659.36L736.88 660.22L736.96 661.08L737.04 661.93L737.12 662.79L737.21 663.64L737.29 664.49L737.37 665.35L737.46 666.2L737.54 667.05L737.63 667.91L737.71 668.76L737.8 669.62L737.88 670.48L737.97 671.34L738.05 672.2L738.14 673.06L738.24 673.93L738.36 674.79L738.5 675.65L738.68 676.5L738.91 677.34L739.18 678.16L739.5 678.97L739.84 679.77L740.2 680.56L740.57 681.35L740.94 682.13L741.32 682.91L741.69 683.69L742.06 684.47L742.44 685.24L742.81 686.02L743.18 686.79L743.56 687.57L743.93 688.34L744.3 689.12L744.68 689.89L745.06 690.67L745.43 691.45L745.81 692.23L746.19 693.01L746.56 693.79L746.94 694.58L747.33 695.37L747.72 696.15L748.13 696.93L748.55 697.7L749 698.45L749.48 699.18L749.98 699.9L750.51 700.6L751.04 701.3L751.59 701.99L752.13 702.67L752.68 703.36L753.23 704.04L753.78 704.73L754.34 705.42L754.89 706.11L755.45 706.8L756 707.5L756.56 708.19L757.13 708.89L757.69 709.6L758.26 710.3L758.82 711.01L759.4 711.73L759.97 712.45L760.55 713.17L761.13 713.9L761.72 714.63L762.31 715.37L762.9 716.12L763.5 716.86L764.12 717.59L764.77 718.3L765.44 718.97L766.15 719.6L766.9 720.17L767.67 720.69L768.47 721.18L769.28 721.65L770.1 722.09L770.92 722.54L771.75 722.98L772.57 723.41L773.4 723.85L774.23 724.3L775.06 724.74L775.9 725.18L776.73 725.63L777.57 726.08L778.41 726.53L779.26 726.98L780.1 727.43L780.95 727.89L781.81 728.35L782.67 728.81L783.53 729.28L784.41 729.75L785.28 730.22L786.17 730.68L787.07 731.11L787.98 731.5L788.91 731.82L789.86 732.03L790.84 732.14L791.82 732.13L792.82 732.04L793.81 731.88L794.81 731.69L795.79 731.48L796.77 731.26L797.75 731.04L798.71 730.83L799.67 730.62L800.62 730.41L801.56 730.2L802.5 730L803.43 729.8L804.36 729.59L805.29 729.39L806.2 729.18L807.12 728.97L808.03 728.75L808.93 728.51L809.83 728.26L810.73 728L811.61 727.72L812.5 727.45L813.38 727.17L814.25 726.89L815.12 726.6L815.99 726.32L816.86 726.05L817.72 725.77L818.58 725.49L819.44 725.21L820.3 724.94L821.16 724.66L822.02 724.39L822.87 724.11L823.73 723.84L824.58 723.56L825.44 723.28L826.3 723.01L827.16 722.73L828.02 722.46L828.88 722.19L829.75 721.94L830.64 721.7L831.54 721.49L832.46 721.3L833.39 721.15L834.36 721.02L835.34 720.91L836.34 720.82L837.35 720.73L838.38 720.64L839.41 720.55L840.47 720.46L841.53 720.36L842.61 720.27L843.71 720.17L844.82 720.08L845.95 719.98L847.09 719.88L848.26 719.78L849.44 719.67L850.64 719.57L851.87 719.46L853.12 719.36L854.39 719.26L855.7 719.17L857.06 719.09L858.47 719.05L859.95 719.04L861.5 719.06L863.13 719.13L864.84 719.23L866.63 719.36L868.51 719.51L870.48 719.71L872.59 719.97L874.9 720.34L877.47 720.85L880.36 721.55L883.57 722.41L887.04 723.37L890.65 724.32L894.28 725.18L897.87 725.9L901.39 726.46L904.89 726.92L908.44 727.3L912.08 727.64L915.81 727.94L919.61 728.17L923.38 728.29L927.03 728.24L930.44 727.96L933.53 727.44L936.29 726.67L938.76 725.7L941.02 724.57L943.15 723.34L945.21 722.04L947.25 720.69L949.28 719.3L951.26 717.85L953.16 716.33L954.9 714.72L956.44 713.01L957.74 711.2L958.78 709.28L959.61 707.28L960.27 705.23L960.83 703.15L961.31 701.05L961.76 698.95L962.16 696.83L962.51 694.71L962.77 692.57L962.94 690.41L963 688.25L962.95 686.07L962.81 683.89L962.61 681.71L962.36 679.55L962.09 677.39L961.81 675.24L961.53 673.11L961.25 670.99L960.97 668.89L960.68 666.79L960.37 664.7L960.05 662.63L959.68 660.56Z"/>
<path fill="#00afff" stroke="#000" stroke-opacity="0.75" stroke-width="0.5" stroke-linejoin="round" d="M951.48 658.5L951.14 656.55L950.75 654.62L950.29 652.69L949.74 650.78L949.08 648.89L948.24 647.03L947.18 645.21L945.87 643.43L944.31 641.72L942.51 640.07L940.46 638.5L938.19 637.01L935.68 635.61L932.97 634.32L930.08 633.12L927.05 632.03L923.94 631.02L920.77 630.11L917.57 629.28L914.35 628.53L911.14 627.86L907.94 627.27L904.79 626.74L901.69 626.27L898.67 625.86L895.71 625.49L892.82 625.18L890 624.91L887.25 624.69L884.56 624.51L881.95 624.37L879.43 624.25L877 624.15L874.67 624.08L872.44 624.01L870.3 623.96L868.25 623.91L866.29 623.87L864.41 623.83L862.61 623.79L860.89 623.76L859.24 623.73L857.66 623.7L856.14 623.67L854.67 623.64L853.26 623.61L851.91 623.58L850.6 623.56L849.33 623.53L848.11 623.5L846.93 623.48L845.78 623.45L844.67 623.43L843.59 623.41L842.53 623.39L841.51 623.38L840.51 623.36L839.54 623.35L838.59 623.34L837.67 623.33L836.77 623.32L835.89 623.32L835.03 623.31L834.2 623.3L833.38 623.29L832.58 623.28L831.8 623.27L831.03 623.26L830.29 623.25L829.55 623.25L828.83 623.24L828.13 623.23L827.43 623.22L826.75 623.21L826.08 623.2L825.43 623.2L824.78 623.19L824.14 623.18L823.52 623.17L822.9 623.16L822.29 623.16L821.69 623.15L821.1 623.14L820.52 623.13L819.94 623.13L819.38 623.12L818.81 623.11L818.26 623.11L817.71 623.1L817.17 623.09L816.63 623.08L816.1 623.08L815.57 623.07L815.05 623.06L814.53 623.06L814.02 623.05L813.51 623.04L813 623.04L812.5 623.03L812 623.03L811.51 623.02L811.02 623.02L810.53 623.02L810.04 623.01L809.56 623.01L809.08 623.01L808.6 623L808.12 623L807.65 622.99L807.18 622.99L806.7 622.98L806.23 622.97L805.77 622.96L805.3 622.95L804.83 622.94L804.36 622.93L803.9 622.92L803.43 622.91L802.97 622.9L802.5 622.9L802.03 622.9L801.57 622.9L801.1 622.91L800.64 622.92L800.17 622.92L799.7 622.93L799.23 622.93L798.76 622.94L798.29 622.94L797.82 622.94L797.34 622.94L796.87 622.95L796.39 622.95L795.91 622.95L795.43 622.96L794.95 622.96L794.46 622.96L793.97 622.97L793.48 622.97L792.98 622.98L792.48 622.98L791.98 622.98L791.47 622.99L790.96 622.99L790.45 623L789.93 623L789.41 623.01L788.88 623.01L788.34 623.02L787.8 623.02L787.26 623.03L786.71 623.03L786.15 623.04L785.59 623.04L785.02 623.05L784.44 623.05L783.85 623.06L783.26 623.06L782.66 623.07L782.05 623.07L781.43 623.08L780.8 623.08L780.16 623.09L779.51 623.1L778.85 623.1L778.18 623.11L777.49 623.11L776.79 623.12L776.08 623.13L775.36 623.13L774.62 623.14L773.87 623.15L773.1 623.16L772.32 623.17L771.53 623.19L770.73 623.21L769.91 623.25L769.08 623.29L768.25 623.34L767.39 623.39L766.53 623.46L765.65 623.53L764.75 623.61L763.84 623.69L762.9 623.77L761.93 623.85L760.94 623.94L759.93 624.03L758.9 624.13L757.87 624.25L756.84 624.4L755.82 624.59L754.84 624.82L753.9 625.1L752.99 625.42L752.1 625.77L751.23 626.15L750.36 626.55L749.5 626.97L748.65 627.41L747.83 627.88L747.06 628.4L746.35 628.96L745.7 629.56L745.12 630.2L744.59 630.88L744.1 631.58L743.63 632.29L743.18 633.01L742.74 633.75L742.34 634.5L741.97 635.27L741.65 636.05L741.37 636.85L741.13 637.67L740.93 638.49L740.74 639.32L740.57 640.16L740.42 640.99L740.27 641.82L740.13 642.66L740 643.5L739.89 644.33L739.81 645.17L739.74 646.02L739.69 646.86L739.66 647.7L739.63 648.54L739.6 649.38L739.58 650.22L739.56 651.05L739.53 651.88L739.51 652.71L739.48 653.54L739.46 654.37L739.43 655.19L739.41 656.02L739.38 656.85L739.36 657.67L739.33 658.5L739.31 659.33L739.28 660.16L739.25 660.99L739.22 661.82L739.2 662.65L739.19 663.48L739.21 664.32L739.26 665.15L739.36 665.97L739.49 666.8L739.66 667.61L739.85 668.42L740.06 669.23L740.28 670.03L740.5 670.83L740.71 671.63L740.93 672.43L741.14 673.23L741.36 674.03L741.6 674.82L741.86 675.6L742.14 676.38L742.46 677.14L742.8 677.9L743.17 678.64L743.55 679.37L743.95 680.1L744.36 680.82L744.78 681.53L745.19 682.24L745.61 682.94L746.02 683.65L746.43 684.35L746.84 685.05L747.25 685.75L747.65 686.45L748.06 687.14L748.46 687.84L748.86 688.54L749.26 689.24L749.66 689.94L750.06 690.64L750.46 691.34L750.85 692.04L751.25 692.75L751.64 693.45L752.05 694.16L752.47 694.85L752.9 695.54L753.34 696.22L753.81 696.88L754.29 697.54L754.79 698.18L755.3 698.81L755.82 699.44L756.34 700.06L756.87 700.68L757.4 701.29L757.94 701.91L758.47 702.53L759.01 703.14L759.54 703.77L760.08 704.39L760.61 705.02L761.15 705.65L761.68 706.29L762.22 706.93L762.76 707.58L763.3 708.23L763.84 708.88L764.39 709.53L764.94 710.19L765.5 710.85L766.06 711.52L766.63 712.18L767.21 712.85L767.8 713.5L768.41 714.12L769.05 714.73L769.71 715.3L770.38 715.85L771.08 716.37L771.79 716.86L772.52 717.34L773.26 717.8L774 718.24L774.76 718.68L775.52 719.1L776.28 719.52L777.05 719.94L777.82 720.36L778.59 720.79L779.37 721.21L780.14 721.63L780.93 722.06L781.71 722.48L782.5 722.91L783.29 723.34L784.09 723.77L784.89 724.21L785.7 724.64L786.52 725.08L787.34 725.5L788.17 725.9L789.03 726.24L789.9 726.5L790.79 726.63L791.71 726.6L792.65 726.42L793.6 726.1L794.55 725.67L795.49 725.17L796.42 724.67L797.33 724.19L798.22 723.76L799.1 723.4L799.96 723.11L800.81 722.87L801.66 722.67L802.5 722.5L803.34 722.34L804.17 722.19L805 722.05L805.82 721.9L806.65 721.74L807.46 721.58L808.28 721.41L809.09 721.24L809.9 721.06L810.71 720.87L811.51 720.67L812.32 720.47L813.12 720.28L813.91 720.08L814.71 719.88L815.5 719.68L816.3 719.48L817.09 719.28L817.89 719.08L818.68 718.88L819.47 718.67L820.26 718.46L821.06 718.26L821.85 718.05L822.64 717.84L823.44 717.63L824.24 717.43L825.04 717.22L825.84 717.01L826.65 716.81L827.47 716.61L828.29 716.42L829.12 716.24L829.97 716.09L830.83 715.95L831.71 715.82L832.6 715.7L833.5 715.59L834.41 715.49L835.34 715.38L836.27 715.27L837.22 715.16L838.18 715.05L839.15 714.94L840.13 714.82L841.13 714.71L842.14 714.59L843.16 714.47L844.2 714.35L845.26 714.23L846.33 714.1L847.43 713.98L848.54 713.85L849.67 713.73L850.83 713.61L852.03 713.5L853.26 713.41L854.54 713.34L855.87 713.29L857.25 713.25L858.69 713.24L860.19 713.24L861.74 713.26L863.36 713.3L865.07 713.37L866.9 713.5L868.9 713.72L871.08 714.04L873.46 714.44L876 714.9L878.63 715.35L881.3 715.75L883.95 716.07L886.59 716.3L889.25 716.47L891.98 716.61L894.79 716.73L897.72 716.85L900.75 716.95L903.83 717L906.9 716.97L909.91 716.82L912.8 716.53L915.58 716.12L918.25 715.58L920.86 714.95L923.45 714.26L926.07 713.51L928.71 712.73L931.4 711.89L934.1 711L936.77 710.04L939.35 708.99L941.76 707.81L943.93 706.51L945.82 705.07L947.43 703.5L948.78 701.83L949.91 700.08L950.87 698.25L951.65 696.38L952.26 694.45L952.69 692.48L952.96 690.48L953.09 688.45L953.12 686.41L953.08 684.37L953.03 682.34L952.97 680.32L952.91 678.3L952.86 676.3L952.81 674.3L952.74 672.31L952.65 670.32L952.54 668.33L952.4 666.36L952.22 664.38L952.02 662.42L951.77 660.45Z"/>
<path fill="#00dfff" stroke="#000" stroke-opacity="0.75" stroke-width="0.5" stroke-linejoin="round" d="M940.65 658.5L940.42 656.69L940.13 654.9L939.78 653.11L939.35 651.33L938.81 649.57L938.12 647.83L937.23 646.12L936.11 644.46L934.76 642.85L933.17 641.3L931.36 639.82L929.33 638.41L927.07 637.09L924.61 635.87L921.97 634.74L919.18 633.7L916.29 632.75L913.32 631.89L910.31 631.12L907.28 630.43L904.25 629.8L901.26 629.24L898.33 628.74L895.46 628.29L892.67 627.89L889.94 627.53L887.29 627.22L884.71 626.94L882.21 626.7L879.79 626.48L877.46 626.29L875.21 626.13L873.04 625.98L870.95 625.85L868.93 625.74L866.98 625.65L865.1 625.57L863.29 625.49L861.55 625.43L859.88 625.37L858.28 625.31L856.74 625.26L855.27 625.21L853.84 625.16L852.47 625.11L851.15 625.06L849.88 625.01L848.65 624.97L847.46 624.93L846.31 624.88L845.2 624.84L844.11 624.8L843.06 624.77L842.03 624.73L841.03 624.71L840.06 624.68L839.1 624.67L838.17 624.65L837.26 624.64L836.38 624.62L835.51 624.61L834.67 624.6L833.85 624.59L833.04 624.58L832.26 624.56L831.49 624.55L830.74 624.54L830.01 624.53L829.29 624.52L828.58 624.51L827.89 624.5L827.21 624.49L826.55 624.47L825.89 624.46L825.25 624.45L824.62 624.44L824 624.43L823.38 624.42L822.78 624.41L822.19 624.4L821.6 624.39L821.02 624.38L820.45 624.37L819.89 624.36L819.34 624.35L818.79 624.34L818.25 624.34L817.72 624.33L817.19 624.32L816.66 624.31L816.15 624.3L815.63 624.29L815.12 624.28L814.62 624.27L814.12 624.26L813.63 624.26L813.14 624.25L812.65 624.24L812.16 624.24L811.68 624.23L811.2 624.23L810.73 624.22L810.26 624.22L809.79 624.22L809.32 624.21L808.86 624.21L808.39 624.2L807.93 624.2L807.47 624.19L807.02 624.19L806.56 624.18L806.11 624.17L805.66 624.16L805.2 624.15L804.75 624.14L804.3 624.13L803.85 624.12L803.4 624.11L802.95 624.1L802.5 624.1L802.05 624.1L801.6 624.11L801.15 624.11L800.7 624.12L800.25 624.13L799.8 624.14L799.34 624.14L798.89 624.15L798.43 624.15L797.98 624.15L797.52 624.16L797.06 624.16L796.6 624.17L796.14 624.17L795.67 624.18L795.21 624.18L794.74 624.19L794.26 624.19L793.79 624.2L793.31 624.2L792.83 624.21L792.34 624.22L791.86 624.22L791.36 624.23L790.87 624.24L790.37 624.24L789.86 624.25L789.35 624.26L788.84 624.26L788.32 624.27L787.8 624.28L787.27 624.28L786.73 624.29L786.19 624.3L785.64 624.31L785.08 624.32L784.52 624.32L783.95 624.33L783.37 624.34L782.78 624.35L782.19 624.36L781.58 624.36L780.97 624.37L780.34 624.38L779.71 624.39L779.06 624.4L778.41 624.41L777.74 624.42L777.06 624.43L776.36 624.44L775.65 624.45L774.93 624.45L774.19 624.46L773.44 624.48L772.68 624.49L771.9 624.51L771.1 624.54L770.3 624.57L769.49 624.62L768.68 624.68L767.85 624.75L767.01 624.83L766.16 624.91L765.29 625L764.41 625.09L763.5 625.19L762.56 625.28L761.61 625.39L760.63 625.49L759.65 625.62L758.66 625.76L757.69 625.94L756.74 626.16L755.83 626.42L754.95 626.73L754.11 627.07L753.27 627.44L752.45 627.83L751.63 628.24L750.82 628.66L750.03 629.11L749.27 629.6L748.58 630.13L747.95 630.71L747.39 631.32L746.88 631.97L746.42 632.65L745.99 633.34L745.57 634.04L745.17 634.75L744.78 635.47L744.43 636.21L744.11 636.96L743.83 637.72L743.59 638.5L743.38 639.29L743.21 640.09L743.05 640.89L742.91 641.69L742.77 642.49L742.64 643.3L742.52 644.1L742.41 644.9L742.32 645.71L742.25 646.52L742.2 647.32L742.17 648.13L742.14 648.94L742.12 649.74L742.1 650.55L742.08 651.35L742.06 652.15L742.04 652.94L742.02 653.74L741.99 654.53L741.96 655.33L741.93 656.12L741.88 656.91L741.83 657.71L741.76 658.5L741.67 659.3L741.57 660.1L741.46 660.9L741.36 661.7L741.26 662.51L741.19 663.33L741.16 664.14L741.19 664.94L741.28 665.75L741.45 666.54L741.67 667.32L741.94 668.09L742.23 668.86L742.54 669.61L742.85 670.36L743.16 671.11L743.46 671.86L743.76 672.6L744.06 673.34L744.37 674.08L744.68 674.81L745 675.53L745.34 676.25L745.7 676.95L746.08 677.65L746.48 678.34L746.9 679.01L747.33 679.68L747.77 680.33L748.22 680.99L748.66 681.63L749.1 682.28L749.54 682.92L749.97 683.56L750.4 684.19L750.82 684.83L751.25 685.46L751.67 686.1L752.09 686.73L752.51 687.36L752.92 687.99L753.34 688.63L753.75 689.26L754.15 689.9L754.56 690.53L754.96 691.17L755.37 691.81L755.77 692.45L756.19 693.08L756.61 693.71L757.05 694.33L757.5 694.94L757.96 695.54L758.45 696.13L758.94 696.7L759.44 697.27L759.96 697.83L760.47 698.38L760.99 698.94L761.51 699.49L762.03 700.05L762.54 700.61L763.06 701.17L763.57 701.74L764.08 702.31L764.6 702.88L765.11 703.46L765.62 704.04L766.14 704.62L766.66 705.2L767.19 705.79L767.72 706.38L768.25 706.96L768.78 707.56L769.32 708.15L769.87 708.75L770.42 709.34L770.99 709.92L771.56 710.5L772.15 711.07L772.75 711.62L773.36 712.16L774 712.68L774.64 713.17L775.31 713.64L775.99 714.08L776.68 714.5L777.38 714.92L778.09 715.32L778.8 715.71L779.52 716.11L780.23 716.51L780.95 716.9L781.68 717.3L782.41 717.69L783.14 718.09L783.87 718.49L784.61 718.89L785.36 719.29L786.1 719.69L786.86 720.09L787.62 720.49L788.38 720.88L789.16 721.24L789.96 721.55L790.78 721.75L791.62 721.81L792.49 721.68L793.39 721.36L794.29 720.85L795.2 720.19L796.09 719.46L796.97 718.72L797.81 718.03L798.64 717.43L799.44 716.95L800.22 716.59L800.99 716.33L801.75 716.14L802.5 716L803.25 715.88L804 715.78L804.75 715.68L805.49 715.58L806.23 715.48L806.98 715.37L807.72 715.26L808.45 715.14L809.19 715.02L809.93 714.9L810.66 714.78L811.39 714.65L812.13 714.52L812.86 714.38L813.59 714.25L814.32 714.12L815.05 713.98L815.78 713.84L816.52 713.69L817.25 713.54L817.98 713.39L818.71 713.24L819.45 713.08L820.18 712.92L820.92 712.77L821.66 712.61L822.4 712.45L823.15 712.29L823.89 712.12L824.64 711.96L825.4 711.8L826.16 711.64L826.93 711.49L827.7 711.34L828.49 711.2L829.28 711.06L830.08 710.92L830.89 710.79L831.71 710.65L832.53 710.52L833.36 710.38L834.21 710.24L835.06 710.1L835.92 709.95L836.78 709.81L837.66 709.66L838.55 709.52L839.46 709.37L840.37 709.21L841.3 709.06L842.24 708.91L843.19 708.75L844.16 708.59L845.15 708.44L846.16 708.28L847.18 708.13L848.24 707.98L849.32 707.83L850.43 707.7L851.57 707.57L852.74 707.44L853.95 707.32L855.19 707.2L856.46 707.09L857.79 706.99L859.17 706.9L860.63 706.85L862.17 706.82L863.8 706.82L865.5 706.84L867.25 706.85L869.03 706.84L870.84 706.8L872.68 706.73L874.56 706.65L876.51 706.56L878.57 706.49L880.74 706.44L883.03 706.41L885.43 706.38L887.93 706.34L890.5 706.28L893.13 706.18L895.8 706.04L898.53 705.86L901.32 705.64L904.19 705.38L907.13 705.09L910.16 704.75L913.26 704.38L916.41 703.95L919.58 703.44L922.71 702.85L925.7 702.13L928.46 701.26L930.93 700.23L933.08 699.05L934.9 697.72L936.44 696.28L937.72 694.73L938.73 693.1L939.49 691.39L939.99 689.61L940.26 687.78L940.36 685.92L940.38 684.06L940.39 682.19L940.42 680.34L940.49 678.51L940.61 676.68L940.76 674.86L940.9 673.05L941.02 671.23L941.1 669.41L941.14 667.59L941.13 665.77L941.07 663.94L940.97 662.13L940.83 660.31Z"/>
<path fill="#10ffef" stroke="#000" stroke-opacity="0.75" stroke-width="0.5" stroke-linejoin="round" d="M930.86 658.5L930.71 656.82L930.51 655.15L930.24 653.48L929.89 651.82L929.45 650.18L928.86 648.56L928.1 646.96L927.14 645.4L925.96 643.89L924.56 642.43L922.94 641.04L921.11 639.71L919.08 638.47L916.84 637.31L914.44 636.23L911.89 635.25L909.23 634.35L906.48 633.54L903.67 632.81L900.84 632.15L898.03 631.56L895.25 631.02L892.55 630.54L889.91 630.1L887.34 629.7L884.83 629.34L882.4 629.02L880.05 628.73L877.78 628.47L875.59 628.22L873.49 628L871.47 627.79L869.52 627.6L867.63 627.44L865.79 627.29L864 627.16L862.27 627.05L860.6 626.95L858.99 626.87L857.43 626.78L855.94 626.71L854.5 626.63L853.12 626.56L851.79 626.49L850.5 626.43L849.26 626.36L848.06 626.3L846.9 626.24L845.78 626.18L844.69 626.13L843.63 626.07L842.61 626.02L841.6 625.98L840.63 625.94L839.67 625.9L838.73 625.88L837.82 625.85L836.92 625.83L836.05 625.82L835.2 625.8L834.37 625.79L833.56 625.77L832.76 625.76L831.99 625.75L831.24 625.73L830.5 625.72L829.77 625.71L829.07 625.69L828.37 625.68L827.69 625.67L827.02 625.66L826.37 625.65L825.73 625.63L825.1 625.62L824.48 625.61L823.87 625.6L823.27 625.59L822.67 625.58L822.09 625.57L821.52 625.56L820.95 625.55L820.4 625.54L819.85 625.53L819.31 625.52L818.77 625.51L818.24 625.5L817.72 625.49L817.2 625.48L816.69 625.47L816.19 625.46L815.69 625.45L815.19 625.44L814.7 625.43L814.21 625.42L813.73 625.41L813.25 625.41L812.78 625.4L812.31 625.39L811.84 625.39L811.37 625.38L810.91 625.38L810.45 625.38L810 625.37L809.54 625.37L809.09 625.36L808.64 625.36L808.2 625.35L807.75 625.35L807.31 625.34L806.87 625.34L806.43 625.33L805.99 625.33L805.55 625.33L805.11 625.32L804.67 625.32L804.24 625.31L803.8 625.31L803.37 625.3L802.93 625.3L802.5 625.3L802.07 625.3L801.63 625.31L801.2 625.32L800.76 625.33L800.33 625.34L799.89 625.35L799.45 625.35L799.02 625.36L798.58 625.36L798.14 625.37L797.7 625.38L797.25 625.38L796.81 625.39L796.36 625.39L795.92 625.4L795.47 625.41L795.01 625.41L794.56 625.42L794.1 625.43L793.64 625.44L793.18 625.45L792.71 625.45L792.24 625.46L791.77 625.47L791.29 625.48L790.81 625.49L790.33 625.5L789.84 625.51L789.34 625.52L788.84 625.53L788.34 625.54L787.83 625.55L787.31 625.56L786.79 625.57L786.27 625.58L785.73 625.59L785.19 625.6L784.64 625.61L784.09 625.62L783.53 625.64L782.96 625.65L782.38 625.66L781.79 625.67L781.19 625.68L780.58 625.7L779.96 625.71L779.33 625.72L778.69 625.73L778.04 625.75L777.38 625.76L776.7 625.77L776.01 625.79L775.3 625.8L774.58 625.81L773.85 625.83L773.1 625.85L772.34 625.87L771.57 625.91L770.8 625.96L770.02 626.02L769.23 626.09L768.44 626.18L767.64 626.27L766.82 626.37L765.99 626.48L765.13 626.58L764.25 626.69L763.36 626.8L762.44 626.92L761.51 627.05L760.57 627.19L759.64 627.36L758.73 627.57L757.86 627.82L757.02 628.11L756.21 628.44L755.42 628.8L754.64 629.17L753.87 629.57L753.1 629.98L752.34 630.41L751.62 630.87L750.94 631.37L750.33 631.92L749.78 632.5L749.29 633.12L748.86 633.77L748.45 634.43L748.06 635.11L747.68 635.79L747.32 636.48L746.97 637.19L746.66 637.9L746.38 638.63L746.14 639.37L745.94 640.12L745.76 640.88L745.61 641.65L745.47 642.42L745.34 643.18L745.21 643.95L745.09 644.72L744.98 645.49L744.89 646.25L744.82 647.03L744.76 647.8L744.73 648.57L744.7 649.35L744.68 650.12L744.67 650.89L744.65 651.65L744.63 652.42L744.62 653.18L744.6 653.94L744.57 654.7L744.54 655.46L744.5 656.22L744.44 656.98L744.37 657.74L744.27 658.5L744.15 659.26L744 660.03L743.84 660.8L743.68 661.58L743.53 662.37L743.41 663.15L743.34 663.94L743.35 664.72L743.45 665.49L743.63 666.25L743.89 667L744.21 667.73L744.57 668.45L744.94 669.17L745.31 669.88L745.68 670.58L746.04 671.28L746.39 671.97L746.74 672.66L747.09 673.35L747.43 674.03L747.77 674.71L748.12 675.39L748.48 676.05L748.86 676.71L749.26 677.35L749.68 677.99L750.12 678.61L750.57 679.22L751.02 679.82L751.48 680.42L751.93 681.02L752.38 681.61L752.82 682.2L753.26 682.78L753.69 683.37L754.12 683.95L754.55 684.53L754.97 685.12L755.4 685.7L755.82 686.27L756.23 686.85L756.65 687.43L757.06 688.01L757.48 688.58L757.89 689.16L758.3 689.74L758.71 690.32L759.12 690.89L759.53 691.47L759.96 692.04L760.39 692.6L760.84 693.15L761.3 693.69L761.77 694.22L762.26 694.73L762.76 695.24L763.26 695.74L763.76 696.24L764.26 696.74L764.76 697.24L765.26 697.74L765.76 698.25L766.26 698.75L766.76 699.25L767.26 699.76L767.77 700.26L768.27 700.77L768.78 701.27L769.29 701.78L769.8 702.29L770.32 702.79L770.84 703.3L771.36 703.81L771.88 704.33L772.4 704.84L772.93 705.36L773.46 705.88L774 706.41L774.54 706.93L775.09 707.45L775.65 707.96L776.22 708.45L776.81 708.92L777.42 709.36L778.04 709.78L778.68 710.17L779.33 710.54L779.98 710.91L780.64 711.27L781.31 711.62L781.97 711.98L782.64 712.33L783.31 712.69L783.99 713.04L784.66 713.4L785.34 713.75L786.03 714.11L786.72 714.46L787.41 714.82L788.11 715.17L788.81 715.53L789.52 715.87L790.24 716.19L790.97 716.45L791.73 716.61L792.51 716.63L793.32 716.46L794.15 716.09L794.99 715.53L795.83 714.82L796.66 714.03L797.47 713.24L798.25 712.51L799 711.89L799.73 711.4L800.44 711.04L801.13 710.79L801.82 710.62L802.5 710.5L803.18 710.41L803.86 710.34L804.53 710.26L805.21 710.19L805.88 710.12L806.56 710.04L807.23 709.97L807.9 709.89L808.57 709.81L809.24 709.73L809.92 709.64L810.59 709.56L811.26 709.47L811.93 709.38L812.6 709.29L813.28 709.19L813.95 709.1L814.62 708.99L815.3 708.89L815.97 708.78L816.65 708.66L817.33 708.55L818 708.43L818.68 708.31L819.37 708.19L820.05 708.06L820.74 707.94L821.43 707.81L822.12 707.69L822.82 707.56L823.52 707.43L824.22 707.29L824.93 707.16L825.64 707.02L826.36 706.89L827.08 706.75L827.81 706.61L828.54 706.47L829.28 706.32L830.03 706.18L830.78 706.03L831.54 705.88L832.3 705.73L833.08 705.58L833.86 705.43L834.65 705.28L835.45 705.12L836.26 704.96L837.07 704.8L837.9 704.64L838.75 704.48L839.6 704.31L840.46 704.15L841.34 703.98L842.23 703.81L843.14 703.63L844.06 703.46L845 703.28L845.95 703.1L846.92 702.92L847.91 702.74L848.92 702.56L849.96 702.37L851.01 702.18L852.08 701.98L853.19 701.79L854.31 701.59L855.46 701.39L856.65 701.19L857.86 700.98L859.1 700.77L860.38 700.55L861.7 700.34L863.06 700.12L864.48 699.92L865.98 699.72L867.56 699.55L869.24 699.4L871.05 699.28L872.98 699.19L875.04 699.13L877.23 699.08L879.55 699.04L881.98 699L884.54 698.96L887.23 698.91L890.03 698.85L892.94 698.77L895.97 698.66L899.09 698.51L902.29 698.31L905.55 698.06L908.81 697.72L911.99 697.27L914.98 696.68L917.71 695.93L920.12 695.02L922.21 693.96L923.99 692.76L925.48 691.45L926.67 690.04L927.56 688.52L928.14 686.93L928.48 685.28L928.64 683.59L928.72 681.89L928.82 680.21L928.97 678.53L929.21 676.87L929.5 675.22L929.83 673.57L930.15 671.92L930.44 670.26L930.68 668.59L930.86 666.91L930.96 665.23L931.01 663.55L931.01 661.87L930.96 660.18Z"/>
<path fill="#40ffbf" stroke="#000" stroke-opacity="0.75" stroke-width="0.5" stroke-linejoin="round" d="M918.98 658.5L918.9 656.98L918.75 655.46L918.54 653.94L918.25 652.43L917.87 650.94L917.37 649.46L916.72 648.01L915.89 646.58L914.87 645.2L913.65 643.87L912.23 642.59L910.63 641.37L908.84 640.23L906.87 639.16L904.77 638.16L902.53 637.24L900.19 636.39L897.77 635.63L895.29 634.93L892.78 634.31L890.29 633.74L887.83 633.22L885.43 632.75L883.1 632.31L880.83 631.91L878.61 631.55L876.46 631.21L874.38 630.91L872.37 630.62L870.44 630.36L868.59 630.1L866.81 629.87L865.08 629.65L863.41 629.45L861.77 629.27L860.18 629.11L858.62 628.97L857.12 628.85L855.66 628.73L854.25 628.62L852.89 628.52L851.58 628.42L850.32 628.33L849.1 628.24L847.93 628.15L846.79 628.06L845.69 627.98L844.62 627.9L843.58 627.82L842.57 627.75L841.59 627.68L840.63 627.62L839.7 627.56L838.78 627.51L837.88 627.47L837 627.43L836.14 627.4L835.3 627.37L834.48 627.34L833.68 627.32L832.9 627.29L832.14 627.27L831.39 627.25L830.66 627.23L829.95 627.2L829.25 627.18L828.56 627.16L827.89 627.14L827.23 627.12L826.59 627.1L825.96 627.09L825.34 627.07L824.73 627.05L824.13 627.03L823.54 627.01L822.96 627L822.39 626.98L821.83 626.96L821.27 626.94L820.73 626.93L820.19 626.91L819.66 626.89L819.14 626.88L818.62 626.86L818.11 626.85L817.6 626.83L817.11 626.82L816.61 626.8L816.12 626.79L815.64 626.78L815.16 626.76L814.69 626.75L814.22 626.74L813.75 626.73L813.29 626.72L812.83 626.71L812.37 626.7L811.92 626.69L811.47 626.68L811.03 626.67L810.58 626.67L810.14 626.66L809.71 626.65L809.27 626.64L808.84 626.64L808.41 626.63L807.98 626.62L807.55 626.61L807.12 626.61L806.7 626.6L806.28 626.6L805.85 626.61L805.43 626.62L805.01 626.63L804.59 626.65L804.17 626.66L803.75 626.67L803.33 626.68L802.92 626.68L802.5 626.69L802.08 626.69L801.67 626.7L801.25 626.71L800.83 626.72L800.42 626.73L800 626.74L799.58 626.75L799.16 626.76L798.74 626.76L798.32 626.77L797.9 626.78L797.48 626.78L797.05 626.79L796.62 626.79L796.19 626.8L795.76 626.81L795.33 626.82L794.9 626.82L794.46 626.83L794.02 626.84L793.57 626.85L793.13 626.86L792.68 626.87L792.22 626.87L791.77 626.88L791.31 626.89L790.84 626.9L790.37 626.91L789.9 626.92L789.42 626.93L788.94 626.94L788.45 626.95L787.96 626.96L787.46 626.97L786.96 626.98L786.45 627L785.93 627.01L785.41 627.02L784.88 627.03L784.34 627.04L783.79 627.05L783.24 627.06L782.67 627.08L782.1 627.09L781.52 627.1L780.93 627.11L780.33 627.12L779.71 627.14L779.09 627.15L778.45 627.16L777.8 627.17L777.14 627.18L776.47 627.2L775.78 627.21L775.08 627.23L774.37 627.25L773.64 627.28L772.92 627.33L772.18 627.38L771.45 627.45L770.71 627.53L769.96 627.62L769.2 627.72L768.43 627.83L767.65 627.94L766.85 628.05L766.03 628.16L765.18 628.28L764.32 628.4L763.44 628.53L762.55 628.67L761.67 628.83L760.8 629.03L759.96 629.26L759.15 629.54L758.38 629.85L757.63 630.19L756.89 630.55L756.16 630.93L755.43 631.32L754.71 631.74L754.01 632.17L753.35 632.64L752.75 633.15L752.2 633.7L751.72 634.28L751.28 634.89L750.87 635.51L750.49 636.16L750.13 636.81L749.77 637.46L749.44 638.13L749.13 638.81L748.85 639.5L748.61 640.21L748.4 640.92L748.22 641.65L748.06 642.37L747.91 643.1L747.76 643.83L747.62 644.56L747.49 645.29L747.37 646.03L747.27 646.76L747.19 647.5L747.13 648.24L747.09 648.98L747.07 649.72L747.05 650.46L747.03 651.2L747.02 651.93L747 652.67L746.99 653.4L746.97 654.13L746.94 654.86L746.91 655.59L746.87 656.31L746.82 657.04L746.74 657.77L746.64 658.5L746.51 659.23L746.36 659.97L746.19 660.71L746.02 661.46L745.85 662.21L745.72 662.97L745.64 663.72L745.64 664.48L745.74 665.22L745.93 665.95L746.2 666.66L746.53 667.37L746.9 668.05L747.28 668.73L747.67 669.41L748.06 670.07L748.44 670.73L748.81 671.39L749.18 672.04L749.53 672.69L749.88 673.34L750.23 673.98L750.57 674.62L750.93 675.26L751.3 675.88L751.69 676.49L752.1 677.09L752.53 677.68L752.98 678.26L753.44 678.82L753.89 679.38L754.35 679.94L754.8 680.49L755.24 681.04L755.68 681.59L756.12 682.13L756.55 682.68L756.98 683.22L757.4 683.76L757.82 684.29L758.25 684.83L758.67 685.36L759.09 685.89L759.52 686.41L759.95 686.93L760.37 687.45L760.8 687.97L761.23 688.49L761.65 689L762.08 689.52L762.51 690.03L762.94 690.53L763.39 691.03L763.85 691.51L764.32 691.98L764.8 692.45L765.28 692.91L765.77 693.36L766.25 693.81L766.74 694.26L767.23 694.7L767.73 695.14L768.22 695.58L768.72 696.02L769.22 696.44L769.73 696.87L770.24 697.28L770.76 697.7L771.27 698.11L771.79 698.52L772.31 698.93L772.82 699.34L773.34 699.76L773.86 700.17L774.38 700.58L774.9 701L775.42 701.42L775.94 701.85L776.45 702.28L776.97 702.71L777.5 703.15L778.03 703.57L778.57 703.99L779.12 704.38L779.69 704.75L780.27 705.1L780.87 705.43L781.47 705.74L782.07 706.04L782.68 706.34L783.3 706.64L783.91 706.93L784.52 707.23L785.14 707.52L785.76 707.81L786.38 708.1L787.01 708.4L787.63 708.69L788.26 708.98L788.9 709.27L789.53 709.56L790.17 709.85L790.82 710.14L791.47 710.4L792.13 710.61L792.82 710.75L793.52 710.76L794.25 710.62L794.99 710.3L795.74 709.83L796.49 709.24L797.24 708.59L797.96 707.94L798.66 707.34L799.33 706.84L799.99 706.44L800.63 706.15L801.26 705.94L801.88 705.8L802.5 705.7L803.12 705.62L803.73 705.56L804.35 705.5L804.96 705.44L805.57 705.37L806.18 705.31L806.8 705.25L807.41 705.18L808.02 705.11L808.63 705.04L809.24 704.97L809.85 704.9L810.46 704.82L811.07 704.75L811.68 704.67L812.3 704.59L812.91 704.51L813.53 704.43L814.14 704.34L814.76 704.25L815.37 704.15L815.99 704.05L816.61 703.95L817.24 703.85L817.86 703.75L818.49 703.64L819.11 703.53L819.75 703.42L820.38 703.31L821.01 703.2L821.65 703.08L822.29 702.96L822.94 702.84L823.59 702.71L824.24 702.58L824.89 702.44L825.55 702.31L826.21 702.17L826.88 702.03L827.55 701.89L828.23 701.74L828.91 701.6L829.6 701.45L830.3 701.3L831 701.15L831.71 701L832.43 700.85L833.16 700.7L833.89 700.54L834.64 700.38L835.39 700.22L836.16 700.06L836.93 699.9L837.72 699.73L838.51 699.56L839.32 699.39L840.13 699.21L840.96 699.02L841.79 698.83L842.64 698.64L843.5 698.44L844.37 698.23L845.26 698.02L846.16 697.81L847.08 697.59L848.01 697.37L848.95 697.14L849.91 696.89L850.88 696.64L851.87 696.38L852.89 696.13L853.94 695.87L855.03 695.63L856.16 695.38L857.34 695.14L858.58 694.92L859.88 694.7L861.26 694.51L862.74 694.34L864.31 694.19L866 694.06L867.79 693.95L869.7 693.86L871.73 693.77L873.87 693.7L876.13 693.62L878.51 693.54L881 693.45L883.6 693.35L886.31 693.21L889.1 693.05L891.97 692.84L894.87 692.58L897.73 692.22L900.48 691.76L903.03 691.16L905.34 690.43L907.4 689.57L909.19 688.59L910.73 687.5L912 686.31L912.99 685.03L913.71 683.66L914.2 682.24L914.53 680.78L914.8 679.31L915.09 677.85L915.44 676.39L915.87 674.94L916.36 673.49L916.87 672.04L917.38 670.57L917.84 669.1L918.23 667.61L918.53 666.1L918.74 664.59L918.89 663.07L918.97 661.55L919 660.03Z"/>
<path fill="#70ff8f" stroke="#000" stroke-opacity="0.75" stroke-width="0.5" stroke-linejoin="round" d="M908.2 658.5L908.17 657.12L908.06 655.74L907.87 654.36L907.61 652.99L907.25 651.63L906.8 650.29L906.21 648.97L905.48 647.68L904.58 646.42L903.49 645.2L902.23 644.04L900.81 642.93L899.23 641.88L897.51 640.89L895.69 639.96L893.77 639.1L891.77 638.3L889.7 637.56L887.58 636.89L885.42 636.28L883.27 635.72L881.14 635.21L879.06 634.73L877.02 634.29L875.04 633.88L873.11 633.5L871.22 633.15L869.39 632.82L867.63 632.52L865.92 632.23L864.28 631.96L862.69 631.7L861.15 631.46L859.65 631.24L858.19 631.04L856.76 630.86L855.36 630.69L854 630.54L852.68 630.4L851.4 630.27L850.16 630.15L848.96 630.03L847.81 629.91L846.69 629.8L845.61 629.69L844.57 629.59L843.55 629.49L842.56 629.39L841.6 629.3L840.66 629.22L839.74 629.15L838.83 629.08L837.95 629.01L837.09 628.96L836.24 628.91L835.41 628.87L834.6 628.83L833.81 628.79L833.03 628.76L832.27 628.73L831.54 628.69L830.81 628.66L830.11 628.64L829.42 628.61L828.74 628.58L828.07 628.56L827.42 628.53L826.79 628.51L826.16 628.49L825.55 628.46L824.94 628.44L824.35 628.42L823.77 628.4L823.2 628.38L822.64 628.36L822.09 628.34L821.54 628.32L821.01 628.3L820.48 628.28L819.96 628.26L819.45 628.24L818.94 628.22L818.44 628.2L817.95 628.18L817.46 628.17L816.98 628.15L816.5 628.14L816.03 628.12L815.56 628.11L815.09 628.09L814.64 628.08L814.18 628.07L813.73 628.06L813.28 628.05L812.84 628.03L812.4 628.02L811.97 628.01L811.53 628.01L811.1 628L810.68 627.99L810.25 627.98L809.83 627.97L809.41 627.96L808.99 627.95L808.58 627.94L808.17 627.93L807.76 627.92L807.35 627.91L806.94 627.9L806.53 627.9L806.12 627.91L805.71 627.94L805.31 627.97L804.9 628.01L804.5 628.06L804.09 628.1L803.69 628.13L803.29 628.16L802.9 628.18L802.5 628.19L802.1 628.2L801.71 628.21L801.31 628.22L800.91 628.23L800.52 628.24L800.12 628.25L799.72 628.27L799.32 628.27L798.92 628.28L798.52 628.29L798.12 628.29L797.72 628.3L797.31 628.3L796.9 628.31L796.5 628.31L796.09 628.32L795.67 628.33L795.26 628.33L794.84 628.34L794.42 628.35L794 628.36L793.57 628.36L793.14 628.37L792.71 628.38L792.28 628.39L791.84 628.39L791.4 628.4L790.95 628.41L790.5 628.42L790.04 628.43L789.58 628.44L789.12 628.44L788.65 628.45L788.17 628.46L787.69 628.47L787.2 628.48L786.71 628.49L786.21 628.5L785.7 628.51L785.19 628.52L784.67 628.53L784.14 628.54L783.6 628.55L783.05 628.56L782.5 628.56L781.93 628.57L781.35 628.58L780.77 628.59L780.17 628.59L779.56 628.6L778.94 628.61L778.3 628.62L777.66 628.64L777.01 628.66L776.35 628.68L775.68 628.71L775 628.75L774.32 628.81L773.64 628.87L772.95 628.95L772.25 629.04L771.55 629.13L770.85 629.24L770.12 629.35L769.39 629.46L768.64 629.58L767.86 629.69L767.07 629.81L766.27 629.94L765.44 630.06L764.6 630.2L763.76 630.36L762.94 630.54L762.13 630.76L761.36 631.01L760.61 631.3L759.9 631.62L759.2 631.96L758.51 632.33L757.82 632.71L757.14 633.1L756.48 633.51L755.84 633.95L755.23 634.42L754.68 634.92L754.17 635.45L753.71 636.01L753.29 636.59L752.9 637.19L752.53 637.8L752.19 638.43L751.86 639.06L751.56 639.71L751.29 640.36L751.04 641.03L750.82 641.71L750.62 642.39L750.43 643.08L750.26 643.77L750.08 644.46L749.92 645.15L749.76 645.84L749.63 646.54L749.51 647.24L749.43 647.94L749.36 648.65L749.32 649.36L749.29 650.07L749.27 650.78L749.26 651.49L749.24 652.2L749.22 652.9L749.21 653.6L749.19 654.3L749.16 655L749.14 655.7L749.1 656.4L749.06 657.1L749 657.8L748.92 658.5L748.82 659.2L748.71 659.91L748.58 660.62L748.44 661.33L748.31 662.05L748.21 662.77L748.15 663.49L748.16 664.21L748.24 664.92L748.4 665.62L748.63 666.31L748.92 666.99L749.24 667.65L749.59 668.31L749.94 668.95L750.31 669.59L750.67 670.23L751.04 670.86L751.39 671.48L751.74 672.1L752.08 672.72L752.41 673.34L752.74 673.95L753.08 674.56L753.43 675.16L753.81 675.74L754.2 676.32L754.62 676.88L755.06 677.43L755.51 677.96L755.96 678.49L756.41 679.02L756.86 679.54L757.31 680.06L757.75 680.57L758.18 681.08L758.61 681.59L759.03 682.1L759.46 682.61L759.88 683.11L760.3 683.6L760.73 684.09L761.17 684.58L761.61 685.05L762.05 685.52L762.5 685.99L762.95 686.45L763.4 686.9L763.85 687.36L764.3 687.81L764.74 688.26L765.19 688.71L765.65 689.15L766.11 689.58L766.58 690L767.05 690.42L767.53 690.83L768.01 691.23L768.49 691.64L768.97 692.03L769.45 692.43L769.94 692.81L770.44 693.19L770.94 693.55L771.46 693.9L771.98 694.24L772.51 694.56L773.04 694.88L773.57 695.2L774.1 695.51L774.63 695.82L775.16 696.13L775.69 696.44L776.21 696.75L776.74 697.06L777.26 697.37L777.78 697.69L778.29 698L778.8 698.33L779.32 698.65L779.83 698.98L780.34 699.31L780.87 699.62L781.4 699.92L781.93 700.2L782.48 700.47L783.04 700.72L783.6 700.96L784.16 701.19L784.72 701.42L785.28 701.65L785.85 701.88L786.41 702.1L786.98 702.33L787.55 702.55L788.11 702.78L788.68 703L789.25 703.22L789.82 703.44L790.4 703.67L790.97 703.89L791.55 704.11L792.13 704.32L792.72 704.52L793.31 704.69L793.92 704.81L794.54 704.83L795.17 704.75L795.82 704.55L796.48 704.23L797.14 703.82L797.78 703.37L798.42 702.92L799.04 702.51L799.64 702.15L800.23 701.87L800.8 701.65L801.37 701.5L801.94 701.38L802.5 701.3L803.06 701.23L803.62 701.17L804.17 701.12L804.73 701.06L805.29 701.01L805.84 700.95L806.39 700.89L806.95 700.83L807.5 700.76L808.06 700.7L808.61 700.64L809.16 700.57L809.72 700.51L810.27 700.44L810.83 700.37L811.39 700.31L811.94 700.24L812.5 700.17L813.06 700.1L813.63 700.02L814.19 699.94L814.75 699.86L815.32 699.78L815.89 699.7L816.45 699.61L817.03 699.52L817.6 699.43L818.18 699.34L818.75 699.24L819.33 699.14L819.91 699.03L820.5 698.93L821.09 698.81L821.67 698.7L822.27 698.58L822.86 698.46L823.46 698.34L824.06 698.21L824.67 698.09L825.28 697.96L825.9 697.83L826.52 697.7L827.15 697.56L827.78 697.43L828.42 697.29L829.07 697.16L829.72 697.02L830.39 696.88L831.06 696.74L831.74 696.6L832.42 696.46L833.12 696.31L833.83 696.17L834.54 696.02L835.26 695.86L835.99 695.69L836.72 695.52L837.46 695.34L838.21 695.16L838.96 694.96L839.73 694.77L840.5 694.56L841.29 694.36L842.09 694.15L842.9 693.93L843.72 693.71L844.55 693.47L845.39 693.23L846.24 692.98L847.1 692.72L847.98 692.46L848.9 692.21L849.84 691.96L850.83 691.71L851.84 691.47L852.9 691.23L854.01 691L855.17 690.77L856.39 690.56L857.69 690.36L859.06 690.18L860.52 690L862.07 689.84L863.71 689.69L865.45 689.54L867.28 689.4L869.21 689.26L871.24 689.1L873.35 688.94L875.54 688.75L877.81 688.55L880.14 688.3L882.51 688.02L884.87 687.67L887.17 687.24L889.35 686.72L891.38 686.1L893.24 685.38L894.93 684.57L896.43 683.67L897.75 682.69L898.87 681.64L899.78 680.51L900.51 679.33L901.13 678.12L901.69 676.88L902.27 675.64L902.89 674.4L903.57 673.15L904.29 671.9L905.02 670.63L905.72 669.35L906.36 668.04L906.9 666.72L907.33 665.37L907.66 664.01L907.9 662.64L908.06 661.26L908.16 659.88Z"/>
<path fill="#9fff60" stroke="#000" stroke-opacity="0.75" stroke-width="0.5" stroke-linejoin="round" d="M899.4 658.5L899.4 657.23L899.31 655.96L899.13 654.7L898.86 653.45L898.51 652.21L898.06 650.98L897.51 649.77L896.84 648.58L896.01 647.43L895.02 646.32L893.87 645.25L892.58 644.23L891.17 643.26L889.67 642.34L888.09 641.48L886.45 640.65L884.77 639.89L883.02 639.17L881.24 638.5L879.41 637.89L877.58 637.33L875.75 636.8L873.95 636.32L872.18 635.86L870.45 635.43L868.76 635.04L867.1 634.67L865.48 634.32L863.91 634L862.37 633.7L860.88 633.42L859.44 633.15L858.03 632.9L856.66 632.67L855.33 632.45L854.02 632.25L852.74 632.07L851.5 631.9L850.28 631.74L849.1 631.59L847.96 631.46L846.85 631.32L845.77 631.2L844.73 631.07L843.73 630.95L842.75 630.84L841.79 630.73L840.86 630.63L839.95 630.54L839.05 630.45L838.17 630.38L837.31 630.31L836.46 630.25L835.63 630.2L834.82 630.16L834.02 630.12L833.24 630.08L832.48 630.05L831.74 630.01L831.02 629.98L830.31 629.95L829.62 629.92L828.94 629.9L828.28 629.87L827.63 629.85L826.99 629.83L826.36 629.81L825.75 629.79L825.14 629.78L824.55 629.76L823.97 629.74L823.4 629.73L822.84 629.71L822.29 629.7L821.75 629.68L821.22 629.67L820.7 629.65L820.19 629.64L819.68 629.62L819.18 629.61L818.69 629.6L818.2 629.58L817.72 629.57L817.25 629.56L816.78 629.55L816.31 629.54L815.86 629.53L815.4 629.52L814.95 629.51L814.51 629.51L814.07 629.5L813.63 629.5L813.2 629.49L812.77 629.49L812.35 629.48L811.93 629.48L811.51 629.47L811.1 629.47L810.69 629.46L810.28 629.46L809.88 629.45L809.48 629.45L809.08 629.44L808.68 629.43L808.29 629.42L807.89 629.4L807.5 629.39L807.11 629.39L806.72 629.38L806.33 629.39L805.94 629.42L805.55 629.46L805.16 629.52L804.77 629.59L804.39 629.67L804.01 629.75L803.63 629.82L803.25 629.86L802.87 629.89L802.5 629.91L802.13 629.93L801.75 629.94L801.38 629.95L801 629.96L800.63 629.98L800.26 629.99L799.88 630L799.51 630.01L799.13 630.02L798.75 630.02L798.37 630.02L797.99 630.03L797.61 630.03L797.22 630.03L796.84 630.04L796.45 630.04L796.06 630.05L795.67 630.05L795.28 630.06L794.88 630.06L794.48 630.07L794.08 630.07L793.67 630.08L793.27 630.08L792.85 630.09L792.44 630.09L792.02 630.09L791.6 630.1L791.17 630.1L790.74 630.11L790.3 630.11L789.86 630.12L789.42 630.12L788.97 630.13L788.51 630.13L788.05 630.14L787.58 630.14L787.11 630.15L786.62 630.15L786.14 630.16L785.64 630.16L785.14 630.17L784.63 630.17L784.1 630.17L783.57 630.18L783.04 630.18L782.48 630.18L781.92 630.18L781.35 630.18L780.77 630.18L780.18 630.18L779.57 630.19L778.97 630.2L778.35 630.23L777.73 630.26L777.11 630.3L776.48 630.35L775.85 630.42L775.22 630.49L774.58 630.58L773.93 630.67L773.28 630.77L772.62 630.88L771.94 630.99L771.26 631.1L770.55 631.21L769.83 631.33L769.09 631.45L768.34 631.57L767.56 631.69L766.78 631.82L765.99 631.97L765.2 632.14L764.43 632.34L763.69 632.57L762.97 632.83L762.29 633.13L761.62 633.45L760.97 633.79L760.33 634.15L759.69 634.53L759.06 634.91L758.44 635.32L757.83 635.74L757.26 636.19L756.72 636.67L756.23 637.17L755.78 637.7L755.37 638.25L754.99 638.82L754.65 639.41L754.33 640.01L754.03 640.62L753.76 641.24L753.5 641.87L753.26 642.5L753.04 643.14L752.82 643.78L752.6 644.43L752.39 645.07L752.19 645.72L752.01 646.38L751.85 647.04L751.72 647.71L751.62 648.38L751.55 649.06L751.5 649.74L751.47 650.42L751.44 651.1L751.42 651.78L751.4 652.45L751.38 653.13L751.36 653.8L751.34 654.47L751.31 655.15L751.29 655.82L751.26 656.49L751.23 657.16L751.2 657.83L751.16 658.5L751.11 659.17L751.05 659.85L750.98 660.52L750.91 661.2L750.84 661.89L750.79 662.57L750.76 663.25L750.78 663.94L750.85 664.61L750.97 665.28L751.14 665.95L751.35 666.6L751.59 667.25L751.87 667.88L752.17 668.51L752.49 669.13L752.82 669.74L753.15 670.35L753.49 670.95L753.81 671.55L754.13 672.14L754.44 672.73L754.76 673.33L755.07 673.91L755.41 674.49L755.76 675.05L756.14 675.6L756.54 676.14L756.97 676.66L757.41 677.18L757.86 677.68L758.3 678.18L758.75 678.67L759.19 679.16L759.63 679.64L760.06 680.12L760.49 680.6L760.91 681.08L761.33 681.56L761.75 682.03L762.18 682.49L762.62 682.94L763.06 683.38L763.52 683.82L763.98 684.24L764.45 684.65L764.93 685.05L765.4 685.45L765.87 685.85L766.34 686.24L766.81 686.64L767.28 687.02L767.74 687.41L768.21 687.79L768.68 688.16L769.15 688.53L769.62 688.89L770.09 689.25L770.56 689.61L771.04 689.96L771.52 690.31L772 690.64L772.5 690.95L773.01 691.25L773.54 691.52L774.08 691.78L774.62 692.02L775.17 692.25L775.72 692.47L776.26 692.69L776.81 692.91L777.35 693.12L777.88 693.33L778.41 693.55L778.94 693.76L779.46 693.98L779.98 694.19L780.49 694.41L781.01 694.63L781.51 694.85L782.02 695.07L782.52 695.29L783.03 695.5L783.54 695.71L784.05 695.9L784.57 696.09L785.09 696.26L785.61 696.44L786.13 696.6L786.65 696.77L787.17 696.93L787.69 697.09L788.2 697.25L788.72 697.41L789.24 697.57L789.75 697.73L790.27 697.89L790.79 698.04L791.3 698.2L791.82 698.36L792.34 698.51L792.86 698.67L793.38 698.82L793.9 698.96L794.43 699.09L794.96 699.19L795.5 699.24L796.05 699.22L796.61 699.14L797.17 698.99L797.73 698.78L798.29 698.55L798.84 698.3L799.39 698.07L799.92 697.87L800.45 697.7L800.97 697.57L801.48 697.46L801.99 697.37L802.5 697.3L803.01 697.24L803.51 697.18L804.02 697.13L804.52 697.08L805.03 697.03L805.53 696.97L806.03 696.92L806.53 696.86L807.03 696.8L807.53 696.74L808.04 696.69L808.54 696.63L809.04 696.57L809.55 696.51L810.05 696.46L810.56 696.4L811.06 696.35L811.57 696.29L812.08 696.23L812.59 696.17L813.11 696.11L813.62 696.05L814.14 695.98L814.66 695.92L815.18 695.85L815.7 695.78L816.23 695.71L816.75 695.63L817.28 695.55L817.81 695.47L818.34 695.38L818.88 695.29L819.42 695.2L819.96 695.1L820.5 695L821.05 694.9L821.6 694.8L822.15 694.69L822.71 694.59L823.28 694.49L823.85 694.38L824.42 694.27L825 694.16L825.59 694.05L826.18 693.94L826.78 693.83L827.39 693.72L828 693.6L828.63 693.49L829.26 693.37L829.9 693.26L830.55 693.14L831.21 693.02L831.87 692.89L832.54 692.76L833.22 692.61L833.89 692.46L834.58 692.3L835.26 692.13L835.96 691.96L836.66 691.78L837.38 691.6L838.1 691.41L838.84 691.22L839.58 691.02L840.34 690.82L841.11 690.61L841.89 690.4L842.67 690.17L843.48 689.94L844.3 689.71L845.15 689.48L846.02 689.26L846.91 689.03L847.84 688.79L848.79 688.56L849.76 688.32L850.77 688.08L851.82 687.84L852.91 687.61L854.06 687.37L855.26 687.14L856.52 686.92L857.84 686.7L859.23 686.48L860.69 686.25L862.21 686.03L863.8 685.79L865.44 685.54L867.15 685.28L868.9 684.99L870.69 684.67L872.5 684.33L874.32 683.93L876.12 683.49L877.87 682.99L879.55 682.42L881.15 681.8L882.67 681.11L884.1 680.36L885.44 679.56L886.66 678.71L887.77 677.8L888.78 676.84L889.71 675.85L890.59 674.83L891.48 673.79L892.38 672.74L893.31 671.67L894.26 670.58L895.2 669.47L896.09 668.34L896.9 667.17L897.59 665.98L898.15 664.77L898.58 663.54L898.91 662.29L899.15 661.03L899.31 659.77Z"/>
<path fill="#cfff30" stroke="#000" stroke-opacity="0.75" stroke-width="0.5" stroke-linejoin="round" d="M888.97 658.5L889 657.37L888.92 656.24L888.74 655.11L888.48 653.99L888.13 652.89L887.71 651.79L887.2 650.72L886.59 649.66L885.86 648.63L884.98 647.64L883.97 646.69L882.85 645.77L881.64 644.9L880.37 644.07L879.07 643.27L877.75 642.51L876.4 641.78L875.01 641.09L873.59 640.44L872.14 639.84L870.65 639.28L869.16 638.75L867.68 638.26L866.21 637.8L864.77 637.36L863.36 636.95L861.96 636.56L860.58 636.2L859.22 635.87L857.88 635.56L856.57 635.27L855.29 635L854.04 634.74L852.83 634.5L851.64 634.27L850.48 634.05L849.35 633.85L848.24 633.67L847.16 633.49L846.1 633.33L845.07 633.17L844.07 633.02L843.1 632.88L842.16 632.74L841.25 632.61L840.36 632.48L839.48 632.36L838.63 632.25L837.79 632.15L836.96 632.06L836.14 631.98L835.33 631.91L834.54 631.85L833.76 631.8L833 631.75L832.26 631.71L831.53 631.66L830.82 631.62L830.13 631.58L829.45 631.55L828.79 631.51L828.15 631.47L827.51 631.44L826.89 631.41L826.28 631.39L825.68 631.36L825.09 631.34L824.51 631.32L823.94 631.3L823.38 631.28L822.84 631.27L822.3 631.25L821.77 631.23L821.25 631.22L820.74 631.2L820.24 631.18L819.75 631.17L819.26 631.15L818.78 631.13L818.31 631.12L817.84 631.1L817.38 631.09L816.93 631.07L816.48 631.06L816.04 631.05L815.6 631.04L815.16 631.03L814.73 631.02L814.31 631.02L813.89 631.01L813.47 631.01L813.05 631.01L812.64 631L812.24 631L811.84 630.99L811.44 630.99L811.04 630.98L810.65 630.98L810.26 630.98L809.88 630.97L809.49 630.96L809.11 630.95L808.74 630.94L808.36 630.93L807.99 630.92L807.62 630.9L807.24 630.89L806.87 630.88L806.5 630.88L806.13 630.89L805.76 630.93L805.39 630.98L805.02 631.07L804.65 631.17L804.28 631.28L803.92 631.38L803.56 631.47L803.21 631.54L802.85 631.58L802.5 631.61L802.15 631.62L801.8 631.63L801.44 631.65L801.09 631.66L800.74 631.67L800.39 631.69L800.04 631.7L799.68 631.71L799.33 631.71L798.97 631.72L798.62 631.72L798.26 631.72L797.9 631.73L797.54 631.73L797.18 631.73L796.81 631.73L796.44 631.74L796.08 631.74L795.7 631.74L795.33 631.74L794.95 631.75L794.58 631.75L794.19 631.75L793.81 631.75L793.42 631.75L793.03 631.75L792.63 631.76L792.23 631.76L791.83 631.76L791.42 631.76L791.01 631.76L790.59 631.76L790.17 631.76L789.75 631.76L789.31 631.76L788.88 631.76L788.43 631.76L787.98 631.77L787.53 631.77L787.07 631.77L786.6 631.77L786.12 631.77L785.63 631.77L785.14 631.77L784.64 631.76L784.12 631.76L783.6 631.76L783.07 631.75L782.52 631.75L781.97 631.74L781.41 631.74L780.84 631.75L780.26 631.76L779.69 631.79L779.11 631.83L778.53 631.88L777.96 631.95L777.38 632.03L776.79 632.11L776.21 632.21L775.61 632.3L775 632.41L774.39 632.51L773.76 632.62L773.11 632.73L772.46 632.84L771.79 632.95L771.1 633.07L770.39 633.19L769.67 633.31L768.94 633.44L768.2 633.58L767.45 633.73L766.72 633.91L766.01 634.12L765.32 634.36L764.66 634.63L764.03 634.93L763.42 635.25L762.82 635.59L762.22 635.94L761.62 636.3L761.02 636.67L760.42 637.06L759.83 637.46L759.27 637.88L758.75 638.33L758.27 638.81L757.84 639.31L757.45 639.84L757.11 640.39L756.79 640.95L756.49 641.53L756.21 642.11L755.94 642.7L755.68 643.29L755.42 643.88L755.16 644.48L754.91 645.08L754.66 645.68L754.42 646.29L754.21 646.91L754.02 647.53L753.88 648.16L753.77 648.81L753.69 649.45L753.63 650.1L753.59 650.75L753.56 651.4L753.53 652.05L753.51 652.7L753.48 653.35L753.45 653.99L753.42 654.64L753.39 655.28L753.37 655.93L753.35 656.57L753.34 657.21L753.33 657.86L753.32 658.5L753.31 659.14L753.31 659.79L753.3 660.43L753.29 661.08L753.29 661.73L753.29 662.37L753.3 663.02L753.33 663.67L753.38 664.31L753.46 664.96L753.56 665.6L753.7 666.23L753.87 666.86L754.08 667.47L754.33 668.08L754.6 668.68L754.89 669.27L755.2 669.86L755.51 670.43L755.82 671.01L756.12 671.58L756.41 672.15L756.71 672.72L757.01 673.28L757.33 673.83L757.67 674.38L758.04 674.9L758.43 675.42L758.85 675.92L759.28 676.4L759.73 676.88L760.18 677.34L760.63 677.8L761.07 678.26L761.51 678.72L761.94 679.17L762.36 679.62L762.79 680.06L763.21 680.5L763.63 680.94L764.07 681.37L764.51 681.78L764.96 682.18L765.43 682.57L765.92 682.94L766.41 683.3L766.91 683.65L767.41 684L767.9 684.34L768.39 684.67L768.88 685.01L769.36 685.34L769.84 685.67L770.31 685.99L770.78 686.31L771.25 686.63L771.72 686.95L772.18 687.27L772.65 687.58L773.11 687.89L773.59 688.18L774.07 688.46L774.57 688.72L775.08 688.95L775.61 689.16L776.16 689.34L776.71 689.51L777.27 689.66L777.83 689.8L778.38 689.93L778.93 690.07L779.47 690.2L780 690.34L780.53 690.47L781.05 690.6L781.57 690.73L782.08 690.87L782.59 691L783.09 691.13L783.59 691.26L784.08 691.39L784.57 691.52L785.06 691.65L785.55 691.77L786.03 691.89L786.52 692L787 692.12L787.48 692.23L787.96 692.33L788.44 692.44L788.92 692.55L789.39 692.65L789.86 692.76L790.33 692.86L790.8 692.97L791.27 693.07L791.73 693.17L792.2 693.27L792.66 693.37L793.13 693.47L793.59 693.57L794.06 693.67L794.52 693.77L794.98 693.87L795.45 693.96L795.91 694.05L796.38 694.11L796.85 694.15L797.33 694.17L797.81 694.15L798.28 694.11L798.76 694.05L799.24 693.99L799.71 693.91L800.18 693.83L800.65 693.76L801.12 693.69L801.58 693.62L802.04 693.56L802.5 693.5L802.96 693.44L803.41 693.39L803.87 693.34L804.32 693.3L804.78 693.25L805.23 693.2L805.68 693.15L806.14 693.1L806.59 693.04L807.04 692.99L807.49 692.93L807.94 692.88L808.4 692.82L808.85 692.77L809.31 692.72L809.76 692.67L810.22 692.63L810.68 692.58L811.14 692.53L811.6 692.47L812.07 692.42L812.53 692.37L813 692.32L813.47 692.26L813.94 692.21L814.42 692.15L814.89 692.09L815.37 692.02L815.84 691.95L816.32 691.88L816.81 691.8L817.29 691.72L817.78 691.64L818.27 691.55L818.76 691.47L819.25 691.38L819.75 691.3L820.26 691.21L820.77 691.12L821.28 691.03L821.8 690.94L822.33 690.85L822.85 690.76L823.39 690.67L823.93 690.57L824.48 690.48L825.03 690.39L825.6 690.29L826.17 690.2L826.75 690.1L827.33 690L827.93 689.9L828.53 689.8L829.14 689.69L829.75 689.57L830.36 689.44L830.97 689.3L831.59 689.16L832.22 689.01L832.85 688.85L833.48 688.68L834.13 688.52L834.79 688.35L835.46 688.17L836.14 688L836.83 687.82L837.53 687.64L838.25 687.45L838.98 687.26L839.72 687.06L840.48 686.86L841.26 686.66L842.06 686.46L842.87 686.24L843.7 686.03L844.54 685.8L845.4 685.57L846.27 685.32L847.15 685.07L848.06 684.81L849 684.54L849.96 684.27L850.96 684L851.99 683.72L853.06 683.43L854.17 683.15L855.32 682.85L856.5 682.54L857.71 682.22L858.95 681.88L860.21 681.53L861.49 681.14L862.78 680.74L864.07 680.3L865.36 679.84L866.64 679.34L867.93 678.82L869.2 678.26L870.47 677.67L871.74 677.05L872.99 676.4L874.22 675.72L875.42 675L876.58 674.25L877.7 673.46L878.8 672.64L879.88 671.8L880.96 670.93L882.04 670.03L883.12 669.11L884.17 668.17L885.17 667.19L886.07 666.18L886.84 665.14L887.47 664.07L887.97 662.98L888.35 661.87L888.65 660.76L888.85 659.63Z"/>
<path fill="#ffff00" stroke="#000" stroke-opacity="0.75" stroke-width="0.5" stroke-linejoin="round" d="M878.56 658.5L878.6 657.5L878.53 656.51L878.36 655.52L878.1 654.54L877.78 653.57L877.39 652.61L876.94 651.66L876.4 650.73L875.77 649.83L875.02 648.95L874.17 648.11L873.23 647.3L872.22 646.52L871.19 645.77L870.15 645.04L869.1 644.34L868.05 643.67L866.98 643.02L865.89 642.4L864.75 641.82L863.59 641.27L862.41 640.75L861.23 640.26L860.05 639.8L858.88 639.36L857.73 638.94L856.58 638.55L855.43 638.18L854.28 637.84L853.13 637.53L851.99 637.24L850.88 636.96L849.78 636.7L848.71 636.46L847.68 636.22L846.66 636L845.67 635.79L844.7 635.59L843.75 635.4L842.82 635.22L841.91 635.05L841.02 634.89L840.16 634.74L839.32 634.59L838.5 634.44L837.7 634.31L836.92 634.18L836.15 634.06L835.38 633.95L834.62 633.85L833.87 633.77L833.13 633.69L832.4 633.63L831.69 633.57L830.98 633.52L830.3 633.47L829.63 633.42L828.98 633.37L828.34 633.33L827.72 633.28L827.11 633.24L826.52 633.19L825.93 633.15L825.35 633.12L824.79 633.08L824.23 633.05L823.69 633.03L823.15 633L822.62 632.98L822.1 632.96L821.59 632.94L821.09 632.92L820.59 632.9L820.11 632.88L819.63 632.86L819.16 632.84L818.7 632.82L818.25 632.8L817.8 632.78L817.36 632.77L816.92 632.75L816.49 632.73L816.07 632.71L815.65 632.7L815.23 632.69L814.82 632.67L814.41 632.66L814.01 632.66L813.61 632.65L813.21 632.65L812.82 632.64L812.43 632.64L812.04 632.63L811.66 632.63L811.28 632.62L810.91 632.62L810.54 632.61L810.17 632.6L809.81 632.6L809.44 632.59L809.08 632.58L808.72 632.57L808.37 632.56L808.02 632.54L807.67 632.52L807.32 632.51L806.97 632.49L806.62 632.48L806.27 632.48L805.92 632.49L805.57 632.53L805.22 632.6L804.87 632.7L804.52 632.81L804.18 632.94L803.83 633.06L803.5 633.16L803.16 633.23L802.83 633.28L802.5 633.31L802.17 633.33L801.84 633.34L801.51 633.35L801.18 633.37L800.85 633.38L800.52 633.4L800.19 633.41L799.86 633.42L799.53 633.43L799.2 633.43L798.87 633.44L798.53 633.44L798.19 633.44L797.86 633.44L797.52 633.44L797.17 633.45L796.83 633.45L796.49 633.45L796.14 633.45L795.79 633.45L795.44 633.45L795.08 633.45L794.72 633.46L794.36 633.46L794 633.46L793.63 633.46L793.26 633.46L792.89 633.46L792.51 633.46L792.13 633.46L791.74 633.46L791.35 633.46L790.95 633.46L790.55 633.45L790.15 633.45L789.74 633.45L789.32 633.45L788.9 633.45L788.47 633.45L788.04 633.45L787.6 633.45L787.15 633.45L786.69 633.44L786.23 633.44L785.76 633.44L785.28 633.44L784.79 633.44L784.29 633.43L783.78 633.43L783.26 633.42L782.73 633.43L782.2 633.44L781.67 633.46L781.14 633.49L780.61 633.54L780.08 633.6L779.56 633.68L779.03 633.77L778.5 633.86L777.96 633.96L777.42 634.06L776.86 634.17L776.29 634.27L775.71 634.38L775.12 634.49L774.52 634.6L773.9 634.71L773.27 634.83L772.62 634.95L771.96 635.07L771.28 635.19L770.6 635.32L769.9 635.46L769.21 635.62L768.54 635.81L767.89 636.02L767.27 636.27L766.67 636.55L766.1 636.84L765.54 637.16L764.98 637.49L764.42 637.82L763.84 638.16L763.27 638.51L762.69 638.87L762.13 639.24L761.6 639.64L761.11 640.07L760.67 640.53L760.28 641.01L759.94 641.52L759.62 642.04L759.32 642.57L759.03 643.11L758.74 643.65L758.46 644.19L758.17 644.73L757.88 645.28L757.59 645.83L757.31 646.39L757.04 646.96L756.81 647.53L756.6 648.11L756.44 648.71L756.32 649.31L756.23 649.92L756.17 650.54L756.12 651.15L756.08 651.77L756.04 652.38L756.01 653L755.97 653.61L755.93 654.22L755.89 654.83L755.86 655.44L755.83 656.05L755.81 656.67L755.8 657.28L755.8 657.89L755.82 658.5L755.84 659.11L755.87 659.72L755.9 660.33L755.93 660.94L755.96 661.55L755.99 662.16L756.02 662.77L756.06 663.38L756.09 663.99L756.14 664.6L756.2 665.21L756.29 665.82L756.42 666.42L756.58 667.01L756.79 667.59L757.04 668.16L757.31 668.73L757.6 669.28L757.89 669.83L758.19 670.37L758.47 670.92L758.76 671.46L759.04 671.99L759.33 672.53L759.64 673.05L759.98 673.56L760.33 674.06L760.72 674.54L761.14 675L761.57 675.45L762.02 675.89L762.47 676.32L762.91 676.75L763.36 677.17L763.79 677.59L764.22 678L764.65 678.41L765.07 678.82L765.49 679.23L765.91 679.62L766.34 680.01L766.79 680.39L767.25 680.74L767.72 681.09L768.21 681.41L768.71 681.72L769.22 682.02L769.73 682.31L770.23 682.6L770.73 682.88L771.22 683.16L771.71 683.44L772.19 683.71L772.66 683.99L773.12 684.26L773.58 684.54L774.04 684.81L774.49 685.08L774.94 685.35L775.39 685.61L775.85 685.86L776.32 686.09L776.81 686.29L777.31 686.48L777.83 686.63L778.36 686.76L778.91 686.87L779.45 686.96L780 687.04L780.54 687.12L781.07 687.2L781.59 687.28L782.1 687.36L782.61 687.44L783.11 687.52L783.6 687.6L784.09 687.67L784.57 687.75L785.05 687.83L785.52 687.9L785.99 687.98L786.45 688.05L786.91 688.12L787.37 688.2L787.82 688.27L788.27 688.34L788.71 688.41L789.15 688.48L789.59 688.55L790.02 688.62L790.46 688.69L790.89 688.75L791.31 688.82L791.74 688.89L792.16 688.95L792.58 689.02L793 689.08L793.42 689.15L793.84 689.21L794.25 689.27L794.67 689.33L795.08 689.4L795.49 689.46L795.91 689.53L796.32 689.59L796.72 689.66L797.13 689.73L797.54 689.8L797.95 689.86L798.36 689.92L798.78 689.97L799.19 690.01L799.6 690.05L800.02 690.06L800.43 690.07L800.85 690.05L801.26 690.03L801.68 689.99L802.09 689.95L802.5 689.9L802.91 689.85L803.32 689.81L803.73 689.77L804.14 689.73L804.54 689.69L804.95 689.65L805.36 689.6L805.76 689.56L806.17 689.51L806.58 689.46L806.98 689.41L807.39 689.37L807.8 689.32L808.2 689.28L808.61 689.23L809.02 689.19L809.43 689.15L809.85 689.1L810.26 689.06L810.68 689.01L811.09 688.97L811.51 688.92L811.93 688.88L812.35 688.83L812.78 688.78L813.2 688.73L813.63 688.67L814.06 688.61L814.49 688.55L814.92 688.48L815.35 688.41L815.79 688.34L816.22 688.27L816.66 688.2L817.11 688.12L817.55 688.05L818.01 687.97L818.46 687.9L818.92 687.82L819.38 687.74L819.85 687.67L820.33 687.59L820.8 687.51L821.29 687.43L821.78 687.35L822.27 687.27L822.77 687.19L823.28 687.1L823.8 687.02L824.32 686.94L824.85 686.85L825.39 686.76L825.93 686.67L826.47 686.57L827.02 686.46L827.57 686.34L828.12 686.21L828.67 686.08L829.23 685.94L829.79 685.79L830.36 685.64L830.93 685.48L831.52 685.33L832.12 685.17L832.72 685.01L833.34 684.84L833.97 684.68L834.62 684.51L835.27 684.34L835.94 684.16L836.63 683.99L837.33 683.8L838.04 683.62L838.76 683.42L839.49 683.22L840.23 683L840.98 682.78L841.72 682.54L842.47 682.28L843.23 682.02L844 681.74L844.79 681.46L845.59 681.17L846.42 680.88L847.27 680.58L848.13 680.27L849.02 679.95L849.94 679.62L850.87 679.28L851.82 678.93L852.78 678.56L853.73 678.17L854.69 677.75L855.65 677.32L856.6 676.87L857.57 676.39L858.55 675.9L859.56 675.4L860.59 674.88L861.64 674.35L862.73 673.8L863.84 673.23L864.96 672.63L866.08 672.01L867.2 671.37L868.3 670.7L869.4 669.99L870.48 669.27L871.56 668.51L872.62 667.73L873.67 666.92L874.65 666.08L875.55 665.21L876.32 664.31L876.97 663.38L877.48 662.43L877.89 661.46L878.2 660.48L878.42 659.49Z"/>
<path fill="#ffcf00" stroke="#000" stroke-opacity="0.75" stroke-width="0.5" stroke-linejoin="round" d="M868.17 658.5L868.2 657.64L868.13 656.78L867.96 655.93L867.72 655.08L867.41 654.25L867.07 653.42L866.68 652.6L866.23 651.8L865.72 651.02L865.12 650.26L864.45 649.52L863.71 648.81L862.94 648.12L862.15 647.45L861.36 646.79L860.58 646.16L859.79 645.54L859 644.93L858.19 644.36L857.35 643.8L856.49 643.27L855.61 642.77L854.71 642.29L853.82 641.83L852.92 641.38L852.02 640.96L851.11 640.57L850.18 640.2L849.22 639.86L848.25 639.55L847.27 639.26L846.3 639L845.35 638.75L844.42 638.5L843.52 638.27L842.64 638.05L841.78 637.84L840.93 637.63L840.1 637.44L839.29 637.26L838.5 637.08L837.72 636.92L836.96 636.75L836.22 636.6L835.5 636.45L834.79 636.31L834.09 636.18L833.39 636.05L832.71 635.94L832.03 635.84L831.35 635.75L830.69 635.68L830.03 635.61L829.38 635.54L828.75 635.48L828.13 635.42L827.53 635.36L826.94 635.3L826.37 635.25L825.81 635.19L825.26 635.14L824.72 635.09L824.19 635.04L823.67 634.99L823.15 634.95L822.65 634.91L822.15 634.87L821.66 634.84L821.17 634.81L820.7 634.78L820.23 634.76L819.77 634.73L819.31 634.71L818.87 634.69L818.43 634.67L817.99 634.64L817.57 634.62L817.14 634.6L816.73 634.58L816.32 634.56L815.92 634.54L815.52 634.52L815.13 634.5L814.74 634.48L814.35 634.47L813.97 634.45L813.59 634.44L813.22 634.43L812.85 634.42L812.48 634.41L812.11 634.4L811.75 634.4L811.4 634.39L811.04 634.38L810.69 634.37L810.34 634.36L810 634.35L809.65 634.35L809.31 634.34L808.98 634.33L808.64 634.31L808.31 634.3L807.98 634.28L807.65 634.26L807.33 634.24L807 634.22L806.68 634.2L806.35 634.19L806.03 634.18L805.7 634.19L805.37 634.23L805.04 634.29L804.72 634.37L804.39 634.48L804.07 634.59L803.75 634.7L803.43 634.79L803.12 634.85L802.81 634.9L802.5 634.92L802.19 634.94L801.88 634.95L801.58 634.96L801.27 634.98L800.96 634.99L800.65 635L800.34 635.02L800.03 635.03L799.72 635.04L799.41 635.05L799.1 635.05L798.79 635.06L798.47 635.06L798.16 635.06L797.84 635.06L797.52 635.06L797.2 635.07L796.87 635.07L796.55 635.07L796.22 635.07L795.89 635.07L795.56 635.07L795.23 635.08L794.89 635.08L794.55 635.08L794.21 635.08L793.86 635.08L793.51 635.08L793.16 635.08L792.8 635.08L792.44 635.08L792.07 635.08L791.7 635.08L791.33 635.08L790.95 635.08L790.57 635.08L790.18 635.08L789.78 635.08L789.38 635.08L788.98 635.07L788.56 635.07L788.14 635.07L787.72 635.08L787.29 635.08L786.85 635.08L786.41 635.09L785.96 635.09L785.5 635.1L785.03 635.11L784.56 635.12L784.08 635.13L783.6 635.16L783.11 635.19L782.63 635.24L782.15 635.29L781.67 635.37L781.19 635.45L780.72 635.54L780.23 635.64L779.74 635.74L779.25 635.85L778.74 635.95L778.22 636.06L777.69 636.16L777.15 636.27L776.6 636.38L776.04 636.49L775.47 636.61L774.88 636.72L774.28 636.84L773.66 636.96L773.03 637.09L772.39 637.22L771.75 637.37L771.12 637.54L770.51 637.73L769.92 637.94L769.36 638.19L768.81 638.46L768.28 638.75L767.76 639.04L767.23 639.35L766.7 639.66L766.16 639.98L765.61 640.31L765.08 640.65L764.57 641.02L764.1 641.4L763.67 641.82L763.28 642.26L762.93 642.71L762.6 643.18L762.28 643.66L761.96 644.15L761.65 644.63L761.32 645.12L761 645.61L760.67 646.11L760.35 646.61L760.04 647.12L759.76 647.65L759.51 648.18L759.3 648.72L759.13 649.28L759 649.85L758.91 650.42L758.83 651L758.77 651.57L758.72 652.15L758.67 652.73L758.61 653.31L758.56 653.88L758.5 654.46L758.44 655.03L758.39 655.61L758.35 656.19L758.32 656.76L758.3 657.34L758.3 657.92L758.31 658.5L758.33 659.08L758.36 659.66L758.4 660.23L758.43 660.81L758.47 661.39L758.5 661.96L758.53 662.54L758.55 663.12L758.58 663.7L758.61 664.28L758.66 664.86L758.73 665.43L758.84 666L759 666.56L759.2 667.11L759.45 667.65L759.72 668.18L760.01 668.7L760.31 669.22L760.6 669.73L760.89 670.23L761.18 670.74L761.46 671.24L761.76 671.74L762.08 672.22L762.42 672.69L762.79 673.15L763.19 673.59L763.62 674.01L764.07 674.42L764.53 674.82L764.99 675.2L765.45 675.58L765.9 675.96L766.35 676.33L766.79 676.7L767.22 677.06L767.65 677.42L768.07 677.78L768.49 678.13L768.93 678.47L769.37 678.8L769.83 679.12L770.3 679.41L770.78 679.69L771.28 679.96L771.78 680.21L772.29 680.45L772.79 680.69L773.29 680.92L773.78 681.14L774.26 681.37L774.73 681.6L775.19 681.82L775.65 682.05L776.1 682.27L776.54 682.5L776.98 682.72L777.41 682.94L777.85 683.15L778.29 683.36L778.73 683.54L779.2 683.71L779.67 683.85L780.16 683.97L780.66 684.07L781.17 684.15L781.68 684.21L782.18 684.27L782.68 684.33L783.17 684.38L783.66 684.44L784.13 684.49L784.6 684.55L785.06 684.61L785.51 684.66L785.96 684.72L786.4 684.78L786.83 684.83L787.27 684.89L787.69 684.94L788.11 684.99L788.53 685.05L788.95 685.1L789.36 685.15L789.77 685.2L790.17 685.25L790.57 685.29L790.97 685.34L791.36 685.38L791.76 685.43L792.15 685.47L792.53 685.51L792.92 685.56L793.3 685.6L793.68 685.64L794.06 685.68L794.44 685.72L794.81 685.76L795.18 685.8L795.56 685.84L795.93 685.88L796.29 685.92L796.66 685.97L797.03 686.01L797.39 686.06L797.75 686.12L798.12 686.18L798.48 686.25L798.84 686.32L799.2 686.38L799.56 686.45L799.93 686.51L800.29 686.55L800.66 686.58L801.03 686.59L801.4 686.59L801.77 686.56L802.13 686.53L802.5 686.5L802.87 686.46L803.23 686.43L803.6 686.4L803.96 686.37L804.33 686.34L804.69 686.32L805.05 686.29L805.42 686.26L805.78 686.22L806.15 686.19L806.51 686.15L806.87 686.12L807.24 686.08L807.6 686.04L807.97 686.01L808.34 685.97L808.71 685.93L809.08 685.9L809.45 685.86L809.82 685.81L810.19 685.77L810.57 685.73L810.94 685.69L811.32 685.65L811.7 685.6L812.08 685.55L812.46 685.5L812.84 685.45L813.23 685.39L813.61 685.33L814 685.27L814.39 685.21L814.78 685.15L815.18 685.08L815.58 685.02L815.98 684.95L816.38 684.88L816.79 684.82L817.2 684.75L817.62 684.68L818.04 684.61L818.46 684.55L818.89 684.48L819.32 684.41L819.76 684.34L820.21 684.26L820.66 684.19L821.11 684.12L821.57 684.04L822.04 683.96L822.51 683.88L822.98 683.8L823.46 683.71L823.94 683.61L824.43 683.5L824.91 683.39L825.4 683.27L825.88 683.14L826.37 683.01L826.87 682.87L827.37 682.73L827.88 682.58L828.39 682.44L828.92 682.29L829.45 682.14L830 681.98L830.55 681.83L831.12 681.67L831.69 681.51L832.28 681.35L832.88 681.18L833.49 681.01L834.11 680.84L834.74 680.66L835.38 680.47L836.02 680.27L836.67 680.06L837.32 679.83L837.96 679.6L838.62 679.35L839.28 679.1L839.95 678.83L840.63 678.56L841.33 678.29L842.05 678L842.79 677.72L843.55 677.42L844.33 677.12L845.13 676.81L845.94 676.49L846.76 676.16L847.59 675.81L848.4 675.43L849.2 675.04L849.99 674.62L850.78 674.19L851.56 673.73L852.35 673.27L853.15 672.79L853.98 672.29L854.83 671.79L855.71 671.27L856.61 670.74L857.52 670.19L858.44 669.63L859.35 669.04L860.26 668.42L861.16 667.79L862.07 667.14L862.96 666.46L863.84 665.76L864.68 665.04L865.45 664.28L866.13 663.51L866.7 662.71L867.17 661.89L867.54 661.06L867.83 660.21L868.05 659.36Z"/>
<path fill="#ff9f00" stroke="#000" stroke-opacity="0.75" stroke-width="0.5" stroke-linejoin="round" d="M858.8 658.5L858.8 657.76L858.71 657.03L858.53 656.3L858.29 655.58L858.01 654.86L857.69 654.16L857.36 653.46L856.99 652.77L856.59 652.1L856.14 651.44L855.65 650.79L855.12 650.17L854.57 649.55L854.02 648.95L853.47 648.36L852.92 647.78L852.38 647.21L851.84 646.66L851.28 646.11L850.7 645.58L850.11 645.07L849.5 644.58L848.89 644.1L848.26 643.63L847.61 643.19L846.94 642.76L846.24 642.36L845.5 642L844.7 641.66L843.88 641.36L843.02 641.09L842.17 640.84L841.32 640.6L840.5 640.38L839.7 640.16L838.92 639.95L838.16 639.74L837.41 639.54L836.69 639.36L835.97 639.17L835.27 639L834.59 638.84L833.92 638.68L833.25 638.53L832.6 638.39L831.96 638.25L831.33 638.13L830.7 638.01L830.08 637.9L829.47 637.81L828.86 637.72L828.26 637.64L827.67 637.56L827.1 637.49L826.53 637.43L825.98 637.36L825.44 637.29L824.91 637.23L824.4 637.17L823.9 637.1L823.4 637.04L822.92 636.98L822.44 636.93L821.97 636.87L821.51 636.82L821.05 636.77L820.6 636.73L820.16 636.69L819.72 636.66L819.29 636.62L818.86 636.59L818.43 636.57L818.02 636.54L817.6 636.52L817.2 636.5L816.8 636.48L816.4 636.46L816.01 636.45L815.63 636.43L815.25 636.41L814.88 636.39L814.52 636.37L814.15 636.35L813.79 636.34L813.44 636.32L813.09 636.31L812.74 636.29L812.39 636.28L812.05 636.27L811.71 636.26L811.38 636.25L811.05 636.24L810.72 636.23L810.39 636.22L810.07 636.21L809.75 636.2L809.43 636.19L809.11 636.18L808.8 636.16L808.49 636.15L808.18 636.14L807.87 636.12L807.57 636.1L807.27 636.08L806.96 636.06L806.66 636.03L806.36 636.01L806.06 635.99L805.76 635.99L805.46 635.99L805.16 636L804.86 636.04L804.56 636.09L804.26 636.16L803.96 636.24L803.66 636.31L803.37 636.37L803.08 636.41L802.79 636.44L802.5 636.46L802.21 636.47L801.92 636.48L801.64 636.49L801.35 636.5L801.06 636.52L800.77 636.53L800.48 636.55L800.19 636.56L799.9 636.57L799.61 636.58L799.32 636.59L799.03 636.6L798.74 636.6L798.44 636.61L798.15 636.61L797.85 636.62L797.55 636.62L797.25 636.62L796.95 636.63L796.64 636.63L796.33 636.64L796.03 636.64L795.71 636.65L795.4 636.65L795.09 636.66L794.77 636.67L794.45 636.67L794.12 636.68L793.8 636.68L793.46 636.69L793.13 636.69L792.79 636.69L792.45 636.7L792.1 636.7L791.75 636.71L791.4 636.71L791.04 636.71L790.67 636.72L790.3 636.72L789.93 636.72L789.55 636.73L789.16 636.74L788.77 636.75L788.38 636.76L787.99 636.78L787.59 636.8L787.18 636.83L786.78 636.86L786.36 636.89L785.95 636.93L785.53 636.97L785.1 637.02L784.68 637.07L784.25 637.14L783.83 637.21L783.41 637.3L782.98 637.39L782.56 637.48L782.13 637.59L781.69 637.69L781.24 637.79L780.79 637.9L780.33 638.01L779.86 638.11L779.38 638.22L778.89 638.34L778.39 638.45L777.88 638.56L777.36 638.68L776.83 638.8L776.28 638.92L775.72 639.04L775.15 639.17L774.58 639.31L774 639.46L773.44 639.63L772.89 639.82L772.36 640.03L771.85 640.26L771.35 640.52L770.87 640.78L770.39 641.06L769.91 641.35L769.43 641.65L768.95 641.96L768.48 642.27L768.03 642.61L767.59 642.96L767.19 643.33L766.81 643.72L766.44 644.12L766.1 644.53L765.75 644.94L765.4 645.36L765.05 645.79L764.69 646.22L764.33 646.65L763.97 647.09L763.62 647.54L763.3 648L763.01 648.47L762.75 648.96L762.54 649.46L762.38 649.97L762.25 650.49L762.15 651.02L762.07 651.55L761.99 652.08L761.92 652.62L761.85 653.15L761.78 653.68L761.7 654.21L761.62 654.74L761.54 655.28L761.47 655.81L761.41 656.35L761.36 656.88L761.32 657.42L761.31 657.96L761.3 658.5L761.31 659.04L761.32 659.58L761.34 660.12L761.36 660.66L761.38 661.2L761.4 661.73L761.41 662.28L761.42 662.82L761.44 663.36L761.46 663.9L761.5 664.44L761.58 664.98L761.69 665.51L761.85 666.03L762.06 666.54L762.31 667.04L762.59 667.53L762.88 668.01L763.18 668.48L763.48 668.95L763.78 669.42L764.07 669.88L764.36 670.34L764.67 670.79L764.99 671.23L765.35 671.65L765.74 672.06L766.17 672.45L766.62 672.82L767.09 673.17L767.57 673.51L768.05 673.84L768.52 674.16L768.99 674.48L769.45 674.8L769.89 675.11L770.33 675.42L770.76 675.73L771.19 676.03L771.62 676.33L772.04 676.62L772.48 676.9L772.92 677.16L773.37 677.42L773.84 677.65L774.31 677.87L774.79 678.08L775.27 678.28L775.76 678.47L776.24 678.65L776.71 678.83L777.17 679.01L777.63 679.19L778.07 679.36L778.51 679.54L778.94 679.72L779.36 679.89L779.78 680.06L780.19 680.24L780.6 680.4L781.01 680.56L781.43 680.71L781.85 680.84L782.28 680.96L782.72 681.06L783.16 681.15L783.6 681.22L784.05 681.29L784.49 681.34L784.93 681.4L785.35 681.46L785.78 681.52L786.19 681.58L786.6 681.64L787 681.7L787.4 681.76L787.79 681.82L788.17 681.88L788.56 681.94L788.94 681.99L789.31 682.05L789.69 682.1L790.06 682.15L790.43 682.2L790.79 682.24L791.16 682.28L791.52 682.32L791.88 682.35L792.24 682.39L792.59 682.42L792.95 682.44L793.3 682.47L793.65 682.5L793.99 682.53L794.34 682.55L794.68 682.58L795.01 682.61L795.35 682.63L795.69 682.66L796.02 682.68L796.35 682.71L796.68 682.73L797.01 682.76L797.34 682.79L797.66 682.82L797.99 682.85L798.31 682.89L798.63 682.94L798.95 682.98L799.27 683.04L799.59 683.09L799.91 683.14L800.23 683.19L800.55 683.22L800.88 683.25L801.2 683.26L801.53 683.26L801.85 683.24L802.18 683.22L802.5 683.2L802.82 683.18L803.15 683.16L803.47 683.14L803.79 683.12L804.11 683.11L804.44 683.1L804.76 683.09L805.08 683.07L805.41 683.06L805.73 683.04L806.06 683.03L806.38 683.01L806.71 682.98L807.03 682.96L807.36 682.94L807.69 682.91L808.02 682.88L808.35 682.85L808.67 682.81L809.01 682.78L809.34 682.74L809.67 682.7L810 682.67L810.34 682.63L810.68 682.59L811.01 682.54L811.35 682.5L811.7 682.45L812.04 682.41L812.38 682.36L812.73 682.31L813.08 682.26L813.43 682.22L813.79 682.16L814.14 682.11L814.51 682.06L814.87 682.01L815.24 681.96L815.61 681.9L815.98 681.85L816.36 681.79L816.74 681.74L817.13 681.68L817.52 681.63L817.92 681.57L818.32 681.52L818.72 681.46L819.13 681.39L819.55 681.33L819.96 681.26L820.38 681.19L820.81 681.11L821.23 681.02L821.66 680.93L822.09 680.84L822.52 680.73L822.95 680.62L823.38 680.51L823.82 680.39L824.26 680.26L824.71 680.14L825.17 680.01L825.63 679.88L826.1 679.75L826.58 679.62L827.06 679.48L827.56 679.34L828.07 679.2L828.58 679.06L829.11 678.92L829.64 678.77L830.19 678.62L830.75 678.46L831.31 678.3L831.88 678.13L832.46 677.96L833.05 677.77L833.63 677.58L834.22 677.37L834.81 677.16L835.42 676.93L836.03 676.7L836.65 676.47L837.29 676.23L837.95 675.98L838.63 675.73L839.32 675.48L840.04 675.21L840.78 674.95L841.53 674.67L842.3 674.38L843.06 674.07L843.8 673.74L844.52 673.38L845.2 673L845.85 672.59L846.47 672.15L847.07 671.7L847.67 671.24L848.27 670.76L848.88 670.28L849.51 669.79L850.16 669.28L850.81 668.77L851.47 668.24L852.14 667.7L852.8 667.14L853.45 666.57L854.11 665.98L854.76 665.38L855.4 664.76L856.02 664.13L856.6 663.47L857.12 662.8L857.58 662.11L857.96 661.41L858.28 660.69L858.53 659.97L858.71 659.24Z"/>
<path fill="#ff7000" stroke="#000" stroke-opacity="0.75" stroke-width="0.5" stroke-linejoin="round" d="M850.5 658.5L850.47 657.87L850.37 657.25L850.19 656.63L849.96 656.01L849.7 655.41L849.41 654.81L849.13 654.22L848.83 653.63L848.52 653.05L848.2 652.48L847.87 651.92L847.52 651.37L847.17 650.82L846.82 650.29L846.47 649.75L846.12 649.23L845.77 648.71L845.42 648.2L845.07 647.69L844.71 647.19L844.34 646.7L843.96 646.22L843.58 645.75L843.17 645.28L842.74 644.84L842.27 644.42L841.75 644.02L841.16 643.66L840.51 643.34L839.8 643.05L839.05 642.8L838.29 642.57L837.53 642.35L836.79 642.15L836.06 641.95L835.37 641.75L834.69 641.56L834.03 641.38L833.39 641.2L832.76 641.03L832.14 640.87L831.53 640.71L830.93 640.56L830.34 640.42L829.75 640.29L829.17 640.17L828.59 640.06L828.02 639.96L827.46 639.86L826.9 639.78L826.36 639.69L825.82 639.62L825.3 639.54L824.78 639.47L824.28 639.4L823.79 639.33L823.31 639.27L822.84 639.2L822.38 639.13L821.93 639.07L821.49 639.01L821.06 638.95L820.63 638.89L820.21 638.83L819.8 638.77L819.39 638.72L818.99 638.68L818.59 638.63L818.19 638.6L817.8 638.56L817.41 638.53L817.02 638.51L816.64 638.49L816.27 638.47L815.89 638.46L815.53 638.44L815.16 638.43L814.81 638.42L814.46 638.4L814.11 638.39L813.77 638.38L813.43 638.36L813.1 638.35L812.77 638.34L812.45 638.33L812.13 638.32L811.81 638.3L811.5 638.29L811.19 638.28L810.88 638.27L810.57 638.26L810.27 638.25L809.97 638.24L809.68 638.23L809.38 638.22L809.09 638.21L808.8 638.2L808.52 638.19L808.23 638.18L807.95 638.16L807.67 638.15L807.39 638.13L807.11 638.11L806.84 638.09L806.56 638.07L806.29 638.05L806.02 638.03L805.75 638.01L805.47 638L805.2 637.99L804.93 637.99L804.66 637.99L804.38 638.01L804.11 638.04L803.84 638.06L803.57 638.09L803.3 638.11L803.03 638.13L802.77 638.14L802.5 638.15L802.23 638.16L801.97 638.17L801.7 638.18L801.44 638.19L801.17 638.2L800.9 638.22L800.64 638.24L800.37 638.25L800.11 638.27L799.84 638.28L799.57 638.3L799.3 638.31L799.03 638.32L798.76 638.32L798.49 638.33L798.21 638.33L797.94 638.34L797.66 638.35L797.38 638.35L797.1 638.36L796.82 638.37L796.54 638.38L796.25 638.39L795.97 638.4L795.68 638.41L795.39 638.42L795.09 638.43L794.8 638.43L794.5 638.44L794.2 638.45L793.89 638.46L793.58 638.47L793.27 638.48L792.95 638.49L792.63 638.49L792.31 638.5L791.98 638.51L791.65 638.51L791.31 638.52L790.97 638.53L790.62 638.54L790.28 638.55L789.93 638.57L789.58 638.6L789.22 638.63L788.87 638.67L788.52 638.72L788.17 638.77L787.81 638.83L787.45 638.89L787.09 638.96L786.73 639.03L786.37 639.11L786.01 639.19L785.64 639.28L785.27 639.37L784.9 639.46L784.53 639.56L784.15 639.66L783.76 639.76L783.37 639.86L782.97 639.97L782.56 640.07L782.15 640.18L781.73 640.28L781.3 640.39L780.86 640.51L780.42 640.62L779.96 640.73L779.5 640.85L779.02 640.97L778.53 641.09L778.03 641.21L777.52 641.34L777.01 641.47L776.5 641.61L775.99 641.77L775.5 641.95L775.01 642.15L774.55 642.36L774.1 642.6L773.67 642.85L773.25 643.11L772.83 643.38L772.43 643.67L772.03 643.96L771.63 644.27L771.25 644.58L770.87 644.91L770.49 645.24L770.13 645.58L769.76 645.93L769.38 646.28L769.01 646.64L768.62 647L768.22 647.36L767.82 647.73L767.43 648.11L767.06 648.51L766.72 648.91L766.42 649.34L766.17 649.78L765.96 650.23L765.79 650.7L765.66 651.17L765.54 651.65L765.45 652.13L765.36 652.62L765.27 653.1L765.17 653.59L765.07 654.07L764.97 654.56L764.87 655.04L764.76 655.53L764.67 656.02L764.59 656.51L764.52 657.01L764.47 657.5L764.43 658L764.41 658.5L764.4 659L764.4 659.5L764.4 660L764.41 660.5L764.41 661L764.41 661.5L764.42 662L764.42 662.5L764.42 663.01L764.44 663.51L764.49 664.01L764.57 664.51L764.69 665L764.86 665.48L765.08 665.94L765.34 666.4L765.63 666.84L765.93 667.28L766.24 667.71L766.55 668.13L766.85 668.56L767.15 668.97L767.45 669.38L767.77 669.78L768.12 670.17L768.49 670.54L768.91 670.89L769.36 671.22L769.83 671.53L770.33 671.83L770.83 672.11L771.32 672.38L771.81 672.65L772.29 672.91L772.75 673.17L773.21 673.43L773.65 673.68L774.08 673.93L774.51 674.17L774.93 674.42L775.35 674.65L775.77 674.88L776.2 675.1L776.63 675.3L777.06 675.5L777.51 675.68L777.96 675.85L778.41 676L778.86 676.15L779.31 676.29L779.76 676.43L780.2 676.56L780.63 676.69L781.05 676.82L781.46 676.95L781.87 677.08L782.27 677.2L782.66 677.33L783.05 677.45L783.43 677.57L783.81 677.69L784.18 677.8L784.56 677.91L784.94 678L785.32 678.09L785.7 678.18L786.07 678.25L786.45 678.32L786.82 678.39L787.18 678.46L787.54 678.53L787.9 678.6L788.25 678.67L788.59 678.74L788.93 678.81L789.27 678.88L789.6 678.95L789.93 679.02L790.25 679.08L790.58 679.15L790.9 679.21L791.23 679.26L791.55 679.32L791.87 679.37L792.19 679.41L792.51 679.45L792.83 679.48L793.15 679.51L793.47 679.53L793.78 679.55L794.1 679.57L794.41 679.58L794.72 679.6L795.02 679.61L795.33 679.63L795.63 679.65L795.93 679.66L796.23 679.68L796.52 679.7L796.82 679.71L797.11 679.73L797.4 679.74L797.69 679.76L797.98 679.78L798.26 679.79L798.55 679.81L798.83 679.84L799.12 679.86L799.4 679.89L799.68 679.92L799.96 679.95L800.24 679.97L800.52 680L800.81 680.01L801.09 680.02L801.37 680.03L801.65 680.03L801.94 680.02L802.22 680.01L802.5 680L802.78 679.99L803.06 679.98L803.34 679.98L803.63 679.98L803.91 679.98L804.19 679.99L804.47 679.99L804.76 680L805.04 680L805.33 680L805.62 680L805.9 680L806.19 679.99L806.48 679.98L806.77 679.96L807.06 679.94L807.35 679.92L807.64 679.89L807.93 679.86L808.22 679.83L808.51 679.8L808.8 679.77L809.09 679.73L809.39 679.7L809.68 679.66L809.98 679.63L810.28 679.59L810.58 679.56L810.89 679.52L811.19 679.49L811.5 679.45L811.81 679.42L812.13 679.38L812.44 679.35L812.76 679.31L813.08 679.27L813.41 679.24L813.74 679.2L814.07 679.16L814.41 679.12L814.75 679.08L815.09 679.05L815.44 679.01L815.79 678.97L816.15 678.93L816.51 678.89L816.88 678.85L817.25 678.8L817.62 678.75L817.99 678.69L818.37 678.63L818.74 678.56L819.12 678.48L819.5 678.4L819.88 678.32L820.26 678.23L820.65 678.13L821.03 678.03L821.43 677.93L821.82 677.82L822.23 677.72L822.64 677.61L823.05 677.5L823.48 677.39L823.91 677.28L824.35 677.16L824.8 677.05L825.26 676.93L825.72 676.81L826.2 676.68L826.68 676.56L827.18 676.43L827.68 676.29L828.19 676.16L828.71 676.02L829.24 675.87L829.78 675.71L830.32 675.55L830.87 675.38L831.43 675.2L832 675.02L832.58 674.83L833.17 674.64L833.78 674.44L834.4 674.23L835.04 674.02L835.71 673.81L836.39 673.59L837.1 673.36L837.82 673.13L838.56 672.88L839.29 672.62L839.99 672.33L840.65 672.01L841.26 671.66L841.8 671.27L842.29 670.85L842.73 670.42L843.15 669.96L843.55 669.5L843.95 669.03L844.35 668.55L844.76 668.06L845.17 667.57L845.58 667.07L846 666.56L846.41 666.04L846.82 665.52L847.23 664.99L847.64 664.44L848.05 663.89L848.45 663.33L848.83 662.76L849.2 662.18L849.53 661.58L849.84 660.98L850.1 660.37L850.3 659.75L850.44 659.13Z"/>
<path fill="#ff4000" stroke="#000" stroke-opacity="0.75" stroke-width="0.5" stroke-linejoin="round" d="M840.2 658.5L840.18 658.01L840.09 657.52L839.95 657.03L839.77 656.55L839.56 656.07L839.35 655.6L839.14 655.13L838.93 654.67L838.72 654.21L838.52 653.76L838.32 653.31L838.13 652.86L837.94 652.41L837.75 651.97L837.56 651.53L837.37 651.09L837.18 650.65L837 650.22L836.82 649.78L836.64 649.35L836.46 648.92L836.28 648.49L836.09 648.07L835.89 647.65L835.65 647.25L835.38 646.86L835.04 646.49L834.63 646.17L834.15 645.87L833.61 645.61L833.02 645.39L832.41 645.18L831.8 644.99L831.21 644.81L830.63 644.63L830.07 644.45L829.53 644.28L829 644.11L828.49 643.94L827.99 643.78L827.5 643.62L827.02 643.48L826.54 643.33L826.06 643.2L825.58 643.08L825.1 642.97L824.63 642.86L824.15 642.77L823.69 642.68L823.23 642.59L822.79 642.51L822.35 642.42L821.93 642.34L821.51 642.26L821.1 642.19L820.7 642.11L820.31 642.03L819.93 641.96L819.55 641.89L819.19 641.81L818.83 641.74L818.47 641.67L818.13 641.6L817.78 641.53L817.44 641.46L817.11 641.4L816.78 641.34L816.44 641.28L816.12 641.23L815.79 641.18L815.46 641.14L815.14 641.11L814.81 641.08L814.49 641.05L814.18 641.02L813.86 641L813.55 640.98L813.25 640.96L812.95 640.94L812.65 640.92L812.36 640.89L812.07 640.87L811.79 640.85L811.5 640.83L811.22 640.81L810.95 640.79L810.67 640.77L810.4 640.75L810.14 640.73L809.87 640.7L809.61 640.68L809.35 640.66L809.09 640.64L808.83 640.62L808.57 640.61L808.32 640.59L808.07 640.57L807.82 640.55L807.57 640.53L807.32 640.51L807.07 640.49L806.83 640.46L806.59 640.44L806.34 640.41L806.1 640.39L805.86 640.36L805.62 640.34L805.38 640.32L805.14 640.3L804.9 640.28L804.66 640.27L804.42 640.25L804.18 640.24L803.94 640.23L803.7 640.22L803.46 640.21L803.22 640.2L802.98 640.2L802.74 640.2L802.5 640.2L802.26 640.21L802.02 640.22L801.78 640.23L801.54 640.24L801.3 640.26L801.07 640.27L800.83 640.29L800.59 640.31L800.35 640.33L800.11 640.35L799.87 640.37L799.63 640.38L799.39 640.39L799.15 640.4L798.9 640.41L798.66 640.42L798.41 640.42L798.16 640.43L797.91 640.43L797.66 640.44L797.41 640.45L797.16 640.46L796.9 640.47L796.65 640.49L796.39 640.5L796.13 640.51L795.87 640.52L795.6 640.53L795.33 640.53L795.06 640.54L794.79 640.55L794.51 640.56L794.24 640.57L793.95 640.58L793.67 640.59L793.38 640.6L793.08 640.6L792.79 640.61L792.48 640.61L792.18 640.62L791.87 640.63L791.56 640.65L791.25 640.68L790.95 640.71L790.64 640.75L790.33 640.8L790.03 640.85L789.73 640.92L789.43 640.99L789.13 641.07L788.83 641.15L788.52 641.24L788.22 641.33L787.91 641.42L787.6 641.51L787.28 641.6L786.96 641.69L786.64 641.78L786.3 641.87L785.97 641.97L785.62 642.06L785.27 642.15L784.92 642.25L784.56 642.35L784.19 642.44L783.82 642.55L783.44 642.65L783.05 642.75L782.66 642.86L782.25 642.96L781.84 643.07L781.42 643.18L780.98 643.29L780.54 643.4L780.08 643.52L779.61 643.64L779.15 643.77L778.69 643.91L778.24 644.06L777.8 644.24L777.39 644.44L777 644.65L776.63 644.89L776.27 645.13L775.92 645.39L775.57 645.66L775.22 645.93L774.87 646.2L774.51 646.48L774.15 646.76L773.77 647.04L773.39 647.33L772.99 647.61L772.59 647.91L772.17 648.2L771.74 648.5L771.3 648.81L770.88 649.13L770.48 649.47L770.12 649.82L769.8 650.2L769.54 650.59L769.32 650.99L769.13 651.41L768.98 651.83L768.85 652.26L768.72 652.7L768.6 653.13L768.48 653.57L768.35 654L768.22 654.44L768.09 654.88L767.96 655.33L767.83 655.77L767.72 656.22L767.62 656.67L767.54 657.13L767.48 657.58L767.44 658.04L767.42 658.5L767.41 658.96L767.4 659.42L767.4 659.88L767.4 660.34L767.4 660.8L767.4 661.26L767.4 661.73L767.4 662.19L767.41 662.65L767.43 663.12L767.48 663.58L767.57 664.03L767.7 664.48L767.89 664.92L768.12 665.34L768.4 665.75L768.7 666.15L769.02 666.54L769.34 666.92L769.65 667.3L769.96 667.68L770.27 668.05L770.59 668.41L770.92 668.76L771.29 669.1L771.69 669.41L772.12 669.71L772.59 669.98L773.09 670.23L773.6 670.47L774.11 670.7L774.62 670.91L775.12 671.12L775.6 671.33L776.07 671.53L776.52 671.74L776.97 671.93L777.4 672.13L777.82 672.32L778.24 672.51L778.65 672.69L779.05 672.87L779.45 673.04L779.86 673.2L780.27 673.36L780.68 673.5L781.1 673.63L781.52 673.74L781.94 673.85L782.36 673.95L782.78 674.05L783.19 674.14L783.59 674.22L783.99 674.31L784.37 674.4L784.75 674.48L785.12 674.56L785.48 674.65L785.84 674.73L786.19 674.81L786.54 674.89L786.87 674.97L787.21 675.04L787.54 675.12L787.86 675.19L788.18 675.27L788.49 675.34L788.81 675.41L789.11 675.48L789.42 675.55L789.72 675.62L790.01 675.69L790.3 675.76L790.59 675.83L790.87 675.9L791.15 675.97L791.43 676.05L791.71 676.11L791.98 676.18L792.25 676.25L792.53 676.31L792.8 676.36L793.08 676.41L793.35 676.46L793.63 676.5L793.9 676.53L794.18 676.55L794.45 676.57L794.73 676.59L795 676.6L795.28 676.61L795.55 676.62L795.81 676.62L796.08 676.63L796.34 676.64L796.6 676.65L796.86 676.66L797.12 676.66L797.37 676.67L797.63 676.68L797.88 676.69L798.13 676.7L798.38 676.71L798.63 676.72L798.87 676.73L799.12 676.74L799.36 676.76L799.61 676.77L799.85 676.79L800.09 676.81L800.33 676.82L800.57 676.84L800.81 676.85L801.05 676.86L801.3 676.87L801.54 676.88L801.78 676.89L802.02 676.89L802.26 676.9L802.5 676.9L802.74 676.91L802.98 676.91L803.22 676.92L803.47 676.93L803.71 676.95L803.95 676.96L804.2 676.98L804.44 676.99L804.69 677L804.94 677.01L805.18 677.01L805.43 677.01L805.68 677.01L805.93 676.99L806.17 676.98L806.42 676.95L806.67 676.93L806.92 676.89L807.16 676.86L807.41 676.82L807.66 676.78L807.9 676.74L808.15 676.7L808.4 676.66L808.65 676.61L808.9 676.57L809.15 676.53L809.4 676.48L809.66 676.44L809.92 676.4L810.18 676.37L810.44 676.33L810.7 676.29L810.97 676.26L811.24 676.22L811.51 676.18L811.78 676.15L812.06 676.11L812.34 676.07L812.62 676.03L812.91 675.99L813.2 675.95L813.49 675.92L813.78 675.88L814.08 675.84L814.39 675.8L814.69 675.75L815 675.7L815.3 675.65L815.61 675.59L815.92 675.52L816.23 675.45L816.53 675.37L816.84 675.29L817.15 675.2L817.46 675.11L817.77 675.02L818.09 674.93L818.41 674.83L818.73 674.73L819.06 674.63L819.39 674.53L819.73 674.43L820.08 674.33L820.43 674.22L820.79 674.12L821.15 674.01L821.52 673.9L821.9 673.79L822.29 673.68L822.68 673.57L823.08 673.45L823.49 673.33L823.9 673.21L824.33 673.09L824.76 672.96L825.21 672.83L825.65 672.69L826.11 672.55L826.58 672.4L827.05 672.25L827.54 672.1L828.04 671.94L828.55 671.77L829.07 671.6L829.61 671.43L830.16 671.25L830.74 671.07L831.34 670.89L831.95 670.7L832.57 670.5L833.19 670.28L833.78 670.04L834.32 669.77L834.79 669.46L835.19 669.12L835.52 668.75L835.8 668.36L836.03 667.96L836.25 667.54L836.45 667.12L836.65 666.7L836.85 666.27L837.05 665.84L837.25 665.41L837.46 664.98L837.66 664.54L837.87 664.1L838.09 663.66L838.3 663.21L838.52 662.76L838.74 662.31L838.97 661.85L839.21 661.39L839.44 660.92L839.67 660.45L839.87 659.97L840.04 659.48L840.15 658.99Z"/>
<path fill="#ff1000" stroke="#000" stroke-opacity="0.75" stroke-width="0.5" stroke-linejoin="round" d="M831.59 658.5L831.6 658.12L831.56 657.74L831.48 657.36L831.37 656.99L831.23 656.62L831.09 656.25L830.95 655.89L830.81 655.52L830.67 655.17L830.55 654.81L830.43 654.45L830.32 654.09L830.21 653.74L830.1 653.38L830 653.03L829.89 652.68L829.78 652.33L829.68 651.97L829.58 651.62L829.49 651.27L829.4 650.91L829.31 650.56L829.22 650.2L829.11 649.85L828.98 649.51L828.81 649.18L828.59 648.88L828.3 648.6L827.95 648.35L827.55 648.12L827.1 647.93L826.64 647.75L826.17 647.59L825.71 647.43L825.27 647.27L824.84 647.12L824.42 646.97L824.02 646.81L823.63 646.67L823.25 646.52L822.87 646.38L822.5 646.25L822.12 646.12L821.75 646L821.37 645.89L821 645.79L820.62 645.7L820.24 645.61L819.87 645.53L819.51 645.45L819.16 645.37L818.81 645.29L818.47 645.22L818.14 645.14L817.82 645.07L817.5 644.99L817.19 644.92L816.89 644.85L816.59 644.78L816.29 644.71L816.01 644.63L815.73 644.56L815.45 644.49L815.17 644.42L814.9 644.36L814.64 644.29L814.37 644.22L814.11 644.16L813.85 644.11L813.58 644.05L813.32 644.01L813.06 643.96L812.8 643.92L812.54 643.89L812.29 643.85L812.03 643.82L811.78 643.79L811.53 643.76L811.28 643.73L811.04 643.7L810.8 643.67L810.57 643.64L810.33 643.62L810.1 643.59L809.87 643.56L809.64 643.53L809.41 643.5L809.19 643.47L808.97 643.45L808.75 643.42L808.53 643.39L808.31 643.36L808.09 643.34L807.88 643.31L807.66 643.29L807.45 643.26L807.24 643.24L807.03 643.22L806.82 643.19L806.61 643.17L806.4 643.14L806.19 643.12L805.99 643.09L805.78 643.06L805.58 643.04L805.37 643.02L805.16 642.99L804.96 642.97L804.75 642.95L804.55 642.93L804.34 642.91L804.14 642.89L803.94 642.87L803.73 642.85L803.53 642.83L803.32 642.82L803.12 642.81L802.91 642.8L802.71 642.8L802.5 642.81L802.29 642.82L802.09 642.83L801.89 642.85L801.68 642.87L801.48 642.89L801.27 642.91L801.07 642.94L800.87 642.97L800.66 642.99L800.46 643.02L800.26 643.04L800.06 643.06L799.85 643.08L799.65 643.1L799.44 643.11L799.23 643.13L799.02 643.14L798.81 643.15L798.6 643.16L798.39 643.17L798.18 643.19L797.97 643.2L797.76 643.22L797.54 643.24L797.32 643.25L797.11 643.27L796.89 643.28L796.66 643.29L796.44 643.31L796.21 643.32L795.99 643.34L795.76 643.35L795.52 643.37L795.29 643.38L795.05 643.39L794.81 643.41L794.57 643.42L794.32 643.43L794.07 643.44L793.82 643.46L793.56 643.48L793.31 643.5L793.05 643.53L792.8 643.57L792.55 643.61L792.31 643.67L792.06 643.73L791.82 643.8L791.58 643.88L791.34 643.96L791.1 644.04L790.87 644.13L790.62 644.22L790.38 644.31L790.13 644.4L789.88 644.48L789.62 644.56L789.35 644.64L789.08 644.73L788.81 644.81L788.53 644.89L788.24 644.97L787.95 645.05L787.66 645.14L787.36 645.22L787.06 645.31L786.75 645.4L786.44 645.49L786.12 645.59L785.8 645.68L785.46 645.78L785.12 645.87L784.77 645.97L784.41 646.07L784.04 646.16L783.65 646.26L783.26 646.36L782.88 646.48L782.5 646.6L782.13 646.74L781.79 646.9L781.46 647.08L781.15 647.27L780.86 647.47L780.57 647.68L780.28 647.9L779.99 648.12L779.69 648.34L779.38 648.57L779.05 648.79L778.71 649.01L778.36 649.23L777.99 649.46L777.61 649.69L777.22 649.92L776.82 650.16L776.41 650.4L776.01 650.65L775.63 650.92L775.28 651.21L774.97 651.51L774.7 651.83L774.47 652.16L774.26 652.5L774.07 652.84L773.89 653.2L773.72 653.56L773.56 653.92L773.39 654.28L773.23 654.65L773.07 655.02L772.92 655.39L772.78 655.77L772.65 656.15L772.55 656.54L772.47 656.93L772.42 657.32L772.4 657.71L772.4 658.11L772.42 658.5L772.45 658.89L772.49 659.29L772.54 659.68L772.58 660.07L772.62 660.46L772.65 660.85L772.68 661.24L772.71 661.63L772.75 662.02L772.8 662.41L772.87 662.8L772.97 663.18L773.11 663.55L773.3 663.91L773.52 664.26L773.79 664.6L774.07 664.93L774.36 665.26L774.66 665.57L774.94 665.88L775.23 666.19L775.51 666.49L775.8 666.79L776.11 667.07L776.44 667.35L776.8 667.6L777.2 667.84L777.62 668.05L778.06 668.25L778.51 668.44L778.96 668.61L779.41 668.78L779.84 668.94L780.27 669.11L780.67 669.26L781.07 669.42L781.46 669.57L781.83 669.72L782.2 669.87L782.56 670.01L782.91 670.16L783.25 670.29L783.6 670.43L783.94 670.55L784.28 670.67L784.63 670.78L784.98 670.88L785.34 670.97L785.7 671.05L786.05 671.12L786.4 671.19L786.75 671.25L787.09 671.32L787.42 671.38L787.75 671.44L788.07 671.5L788.38 671.56L788.68 671.61L788.98 671.67L789.27 671.73L789.56 671.78L789.84 671.84L790.11 671.9L790.38 671.96L790.64 672.03L790.89 672.09L791.14 672.16L791.39 672.22L791.63 672.29L791.87 672.36L792.1 672.42L792.33 672.49L792.56 672.56L792.79 672.63L793.01 672.7L793.24 672.77L793.46 672.83L793.68 672.9L793.9 672.96L794.11 673.02L794.33 673.08L794.55 673.14L794.77 673.19L794.99 673.23L795.22 673.27L795.44 673.3L795.67 673.33L795.89 673.35L796.11 673.36L796.34 673.38L796.56 673.39L796.78 673.4L797 673.41L797.22 673.42L797.43 673.43L797.65 673.44L797.86 673.45L798.07 673.46L798.28 673.47L798.49 673.48L798.69 673.49L798.9 673.5L799.1 673.51L799.31 673.52L799.51 673.53L799.71 673.55L799.91 673.57L800.11 673.59L800.31 673.62L800.51 673.65L800.7 673.67L800.9 673.7L801.1 673.73L801.3 673.75L801.5 673.78L801.7 673.8L801.9 673.83L802.1 673.85L802.3 673.88L802.5 673.9L802.7 673.92L802.9 673.94L803.11 673.97L803.31 673.99L803.52 674.01L803.72 674.03L803.93 674.05L804.14 674.07L804.34 674.08L804.55 674.09L804.76 674.09L804.97 674.08L805.18 674.07L805.38 674.05L805.59 674.03L805.79 674L806 673.96L806.2 673.92L806.41 673.88L806.61 673.83L806.81 673.78L807.01 673.73L807.21 673.68L807.41 673.62L807.62 673.57L807.82 673.52L808.02 673.46L808.22 673.41L808.43 673.36L808.64 673.32L808.85 673.27L809.06 673.23L809.27 673.19L809.49 673.15L809.7 673.11L809.92 673.07L810.14 673.03L810.37 672.99L810.59 672.95L810.82 672.91L811.05 672.87L811.28 672.83L811.52 672.79L811.75 672.75L811.99 672.71L812.24 672.67L812.48 672.62L812.72 672.57L812.96 672.51L813.21 672.45L813.45 672.39L813.69 672.32L813.93 672.24L814.17 672.17L814.41 672.08L814.65 672L814.9 671.91L815.14 671.82L815.39 671.73L815.64 671.64L815.9 671.55L816.16 671.46L816.42 671.37L816.69 671.28L816.96 671.18L817.24 671.09L817.52 670.99L817.81 670.9L818.1 670.8L818.4 670.7L818.71 670.6L819.02 670.5L819.33 670.4L819.66 670.29L819.99 670.18L820.33 670.08L820.67 669.96L821.02 669.85L821.38 669.73L821.75 669.61L822.12 669.49L822.5 669.36L822.89 669.23L823.28 669.09L823.69 668.95L824.11 668.81L824.54 668.66L824.98 668.51L825.45 668.36L825.92 668.2L826.4 668.04L826.88 667.86L827.33 667.66L827.74 667.44L828.09 667.19L828.37 666.9L828.59 666.6L828.75 666.28L828.89 665.94L829 665.6L829.1 665.25L829.19 664.91L829.29 664.56L829.39 664.21L829.49 663.87L829.6 663.52L829.71 663.18L829.83 662.83L829.95 662.48L830.08 662.13L830.21 661.78L830.36 661.43L830.52 661.07L830.69 660.72L830.88 660.36L831.07 660L831.25 659.63L831.41 659.26L831.52 658.88Z"/>
<path fill="#df0000" stroke="#000" stroke-opacity="0.75" stroke-width="0.5" stroke-linejoin="round" d="M823.31 658.5L823.37 658.23L823.4 657.95L823.4 657.68L823.37 657.41L823.33 657.14L823.26 656.87L823.2 656.6L823.12 656.33L823.05 656.07L822.98 655.8L822.91 655.54L822.84 655.28L822.77 655.02L822.7 654.76L822.63 654.5L822.55 654.24L822.47 653.98L822.39 653.72L822.32 653.47L822.24 653.21L822.16 652.96L822.08 652.7L822 652.44L821.91 652.19L821.8 651.95L821.67 651.71L821.51 651.49L821.3 651.28L821.06 651.09L820.79 650.92L820.49 650.77L820.18 650.63L819.87 650.49L819.56 650.36L819.26 650.23L818.98 650.11L818.7 649.98L818.43 649.85L818.16 649.73L817.9 649.61L817.64 649.49L817.39 649.38L817.13 649.27L816.87 649.17L816.61 649.07L816.34 648.99L816.08 648.9L815.82 648.83L815.56 648.75L815.3 648.68L815.05 648.61L814.8 648.54L814.56 648.47L814.32 648.41L814.09 648.34L813.86 648.27L813.63 648.21L813.41 648.15L813.19 648.08L812.98 648.02L812.77 647.95L812.57 647.89L812.37 647.82L812.17 647.76L811.98 647.69L811.79 647.63L811.6 647.56L811.41 647.5L811.23 647.43L811.04 647.37L810.86 647.31L810.67 647.25L810.49 647.2L810.3 647.14L810.12 647.09L809.94 647.05L809.76 647L809.58 646.95L809.4 646.9L809.22 646.86L809.05 646.81L808.87 646.77L808.7 646.72L808.52 646.68L808.35 646.63L808.18 646.59L808.01 646.55L807.84 646.51L807.67 646.47L807.5 646.43L807.33 646.39L807.16 646.35L807 646.31L806.83 646.28L806.66 646.25L806.49 646.21L806.32 646.18L806.16 646.15L805.99 646.12L805.82 646.09L805.66 646.06L805.49 646.03L805.33 646.01L805.16 645.98L805 645.96L804.83 645.93L804.66 645.91L804.5 645.89L804.33 645.88L804.16 645.86L804 645.85L803.83 645.84L803.66 645.82L803.5 645.81L803.33 645.81L803.17 645.8L803 645.8L802.83 645.81L802.67 645.83L802.5 645.85L802.33 645.87L802.17 645.9L802.01 645.93L801.84 645.96L801.68 646L801.52 646.03L801.36 646.07L801.2 646.11L801.04 646.15L800.88 646.19L800.72 646.22L800.56 646.26L800.4 646.29L800.24 646.32L800.08 646.35L799.92 646.38L799.76 646.41L799.6 646.43L799.44 646.46L799.28 646.48L799.12 646.51L798.95 646.53L798.79 646.56L798.63 646.58L798.46 646.61L798.3 646.63L798.13 646.66L797.96 646.68L797.8 646.71L797.63 646.74L797.46 646.76L797.29 646.79L797.11 646.82L796.94 646.85L796.77 646.87L796.59 646.9L796.41 646.93L796.23 646.96L796.05 646.99L795.87 647.02L795.69 647.05L795.51 647.09L795.32 647.13L795.15 647.17L794.97 647.23L794.79 647.28L794.62 647.35L794.45 647.41L794.28 647.49L794.11 647.56L793.94 647.64L793.77 647.72L793.6 647.8L793.42 647.87L793.25 647.95L793.07 648.02L792.88 648.09L792.69 648.16L792.5 648.23L792.3 648.3L792.1 648.37L791.89 648.44L791.69 648.51L791.48 648.58L791.27 648.65L791.05 648.72L790.83 648.8L790.61 648.87L790.39 648.95L790.16 649.03L789.92 649.11L789.69 649.19L789.44 649.27L789.19 649.35L788.94 649.44L788.67 649.52L788.41 649.61L788.14 649.7L787.88 649.8L787.62 649.91L787.38 650.03L787.14 650.16L786.92 650.3L786.7 650.45L786.49 650.61L786.28 650.76L786.06 650.92L785.84 651.08L785.61 651.24L785.36 651.4L785.11 651.56L784.84 651.72L784.57 651.89L784.29 652.05L784 652.22L783.7 652.39L783.39 652.57L783.09 652.75L782.79 652.94L782.5 653.14L782.23 653.35L781.97 653.57L781.72 653.8L781.48 654.03L781.24 654.27L781.01 654.52L780.78 654.77L780.55 655.02L780.34 655.29L780.14 655.56L779.95 655.83L779.79 656.11L779.66 656.4L779.57 656.7L779.51 656.99L779.5 657.29L779.52 657.6L779.59 657.9L779.69 658.2L779.81 658.5L779.94 658.8L780.08 659.09L780.22 659.38L780.36 659.66L780.48 659.94L780.6 660.22L780.7 660.5L780.81 660.78L780.9 661.06L781.01 661.33L781.12 661.6L781.25 661.87L781.4 662.12L781.58 662.38L781.77 662.62L781.98 662.86L782.21 663.09L782.43 663.32L782.65 663.54L782.87 663.76L783.09 663.97L783.3 664.19L783.52 664.39L783.74 664.59L783.98 664.79L784.23 664.97L784.5 665.14L784.79 665.3L785.09 665.45L785.39 665.59L785.69 665.72L785.99 665.85L786.28 665.98L786.56 666.1L786.84 666.22L787.1 666.34L787.37 666.46L787.62 666.58L787.87 666.69L788.12 666.8L788.36 666.91L788.6 667.02L788.84 667.12L789.07 667.22L789.31 667.31L789.55 667.4L789.79 667.48L790.04 667.55L790.28 667.62L790.53 667.69L790.77 667.74L791.01 667.8L791.25 667.85L791.48 667.91L791.71 667.96L791.94 668.01L792.16 668.06L792.37 668.11L792.58 668.16L792.79 668.21L792.99 668.26L793.19 668.31L793.38 668.36L793.57 668.42L793.75 668.48L793.93 668.54L794.1 668.6L794.27 668.66L794.44 668.73L794.6 668.79L794.77 668.86L794.93 668.92L795.09 668.99L795.24 669.06L795.4 669.13L795.56 669.19L795.71 669.26L795.87 669.32L796.02 669.39L796.18 669.45L796.34 669.5L796.5 669.56L796.65 669.61L796.81 669.66L796.97 669.7L797.14 669.74L797.3 669.78L797.46 669.81L797.63 669.84L797.79 669.87L797.95 669.9L798.12 669.92L798.28 669.94L798.44 669.97L798.6 669.99L798.76 670.01L798.92 670.03L799.08 670.05L799.24 670.07L799.39 670.09L799.55 670.12L799.71 670.14L799.86 670.16L800.02 670.18L800.17 670.21L800.32 670.25L800.48 670.28L800.63 670.32L800.78 670.37L800.93 670.41L801.08 670.46L801.24 670.51L801.39 670.56L801.55 670.61L801.7 670.66L801.86 670.71L802.02 670.76L802.18 670.81L802.34 670.86L802.5 670.9L802.66 670.94L802.83 670.98L802.99 671.02L803.16 671.05L803.32 671.08L803.49 671.1L803.66 671.12L803.83 671.14L804 671.14L804.16 671.14L804.33 671.13L804.5 671.12L804.66 671.09L804.83 671.06L804.99 671.02L805.15 670.98L805.31 670.93L805.47 670.87L805.63 670.82L805.78 670.75L805.94 670.69L806.09 670.62L806.24 670.55L806.39 670.48L806.54 670.41L806.69 670.34L806.84 670.27L806.99 670.21L807.15 670.14L807.3 670.08L807.45 670.02L807.61 669.97L807.76 669.92L807.92 669.86L808.08 669.82L808.24 669.77L808.4 669.72L808.57 669.67L808.73 669.63L808.9 669.58L809.06 669.53L809.23 669.49L809.4 669.44L809.57 669.39L809.75 669.34L809.92 669.29L810.09 669.24L810.26 669.19L810.44 669.13L810.61 669.07L810.78 669L810.95 668.93L811.12 668.86L811.29 668.79L811.45 668.71L811.62 668.63L811.79 668.55L811.96 668.47L812.13 668.39L812.31 668.31L812.48 668.22L812.66 668.14L812.84 668.05L813.02 667.97L813.2 667.89L813.39 667.8L813.58 667.72L813.78 667.63L813.97 667.55L814.18 667.46L814.38 667.37L814.6 667.29L814.81 667.2L815.03 667.11L815.26 667.03L815.49 666.94L815.73 666.85L815.97 666.75L816.21 666.66L816.46 666.56L816.71 666.46L816.97 666.35L817.23 666.25L817.49 666.14L817.76 666.03L818.03 665.91L818.32 665.79L818.6 665.67L818.9 665.55L819.2 665.42L819.51 665.29L819.81 665.14L820.1 664.99L820.35 664.82L820.58 664.64L820.76 664.43L820.9 664.21L821.02 663.98L821.11 663.75L821.18 663.51L821.25 663.26L821.32 663.02L821.38 662.77L821.45 662.53L821.52 662.28L821.6 662.04L821.68 661.79L821.76 661.55L821.84 661.3L821.94 661.06L822.04 660.81L822.15 660.57L822.28 660.32L822.43 660.07L822.59 659.82L822.76 659.56L822.92 659.3L823.08 659.04L823.21 658.77Z"/>
<path fill="#af0000" stroke="#000" stroke-opacity="0.75" stroke-width="0.5" stroke-linejoin="round" d="M815.48 658.5L815.62 658.33L815.74 658.15L815.83 657.98L815.91 657.8L815.96 657.62L815.99 657.44L816 657.26L815.98 657.08L815.95 656.91L815.9 656.74L815.84 656.57L815.77 656.4L815.68 656.23L815.59 656.07L815.49 655.92L815.38 655.76L815.26 655.61L815.13 655.47L815 655.33L814.86 655.19L814.72 655.05L814.57 654.92L814.42 654.8L814.26 654.68L814.1 654.56L813.94 654.45L813.78 654.34L813.62 654.23L813.46 654.13L813.29 654.03L813.13 653.93L812.97 653.84L812.81 653.75L812.65 653.66L812.5 653.57L812.34 653.48L812.19 653.4L812.05 653.32L811.9 653.24L811.75 653.16L811.61 653.08L811.46 653.01L811.31 652.94L811.16 652.87L811.01 652.81L810.86 652.75L810.71 652.7L810.56 652.64L810.41 652.59L810.26 652.55L810.11 652.5L809.96 652.46L809.81 652.42L809.67 652.38L809.52 652.34L809.38 652.31L809.24 652.27L809.1 652.23L808.97 652.2L808.84 652.16L808.71 652.13L808.58 652.09L808.46 652.05L808.34 652.01L808.23 651.97L808.12 651.92L808.01 651.87L807.91 651.82L807.81 651.77L807.71 651.72L807.61 651.66L807.51 651.6L807.41 651.55L807.32 651.49L807.22 651.44L807.12 651.38L807.02 651.33L806.93 651.28L806.83 651.23L806.73 651.18L806.63 651.13L806.53 651.08L806.43 651.03L806.33 650.99L806.23 650.94L806.13 650.9L806.02 650.85L805.92 650.81L805.82 650.77L805.72 650.74L805.61 650.7L805.51 650.66L805.4 650.63L805.3 650.59L805.19 650.56L805.09 650.53L804.98 650.5L804.88 650.48L804.77 650.45L804.66 650.43L804.56 650.41L804.45 650.39L804.34 650.37L804.23 650.35L804.12 650.33L804.02 650.32L803.91 650.31L803.8 650.3L803.69 650.3L803.58 650.3L803.47 650.3L803.36 650.31L803.25 650.32L803.14 650.33L803.03 650.35L802.93 650.38L802.82 650.4L802.71 650.43L802.61 650.47L802.5 650.5L802.4 650.54L802.29 650.58L802.19 650.63L802.09 650.67L801.99 650.71L801.89 650.76L801.79 650.81L801.7 650.85L801.6 650.9L801.51 650.94L801.41 650.99L801.32 651.03L801.22 651.07L801.13 651.11L801.04 651.15L800.95 651.18L800.85 651.22L800.76 651.25L800.67 651.28L800.57 651.3L800.48 651.33L800.38 651.35L800.29 651.38L800.19 651.4L800.1 651.43L800 651.45L799.91 651.48L799.81 651.5L799.72 651.53L799.62 651.56L799.53 651.58L799.43 651.61L799.34 651.64L799.24 651.67L799.14 651.69L799.05 651.72L798.95 651.75L798.85 651.78L798.76 651.82L798.66 651.85L798.56 651.88L798.47 651.92L798.37 651.95L798.27 651.99L798.17 652.02L798.08 652.06L797.98 652.1L797.88 652.14L797.78 652.18L797.68 652.22L797.58 652.26L797.48 652.3L797.38 652.34L797.27 652.38L797.17 652.42L797.06 652.46L796.95 652.49L796.83 652.53L796.71 652.56L796.59 652.59L796.47 652.63L796.35 652.66L796.22 652.7L796.09 652.73L795.96 652.77L795.83 652.8L795.7 652.84L795.56 652.88L795.43 652.92L795.29 652.97L795.15 653.01L795.01 653.06L794.87 653.11L794.73 653.16L794.59 653.22L794.45 653.28L794.31 653.34L794.17 653.4L794.03 653.46L793.89 653.53L793.74 653.6L793.6 653.67L793.45 653.74L793.3 653.81L793.15 653.89L792.99 653.97L792.84 654.05L792.68 654.13L792.52 654.21L792.36 654.3L792.19 654.39L792.03 654.48L791.86 654.57L791.68 654.67L791.5 654.77L791.32 654.87L791.13 654.97L790.94 655.08L790.73 655.18L790.5 655.29L790.26 655.39L790 655.5L789.71 655.61L789.41 655.72L789.09 655.83L788.77 655.96L788.45 656.09L788.14 656.23L787.85 656.38L787.59 656.54L787.36 656.71L787.19 656.89L787.06 657.08L787 657.28L787 657.48L787.07 657.69L787.2 657.9L787.38 658.1L787.6 658.3L787.85 658.5L788.12 658.69L788.4 658.87L788.67 659.04L788.93 659.21L789.17 659.37L789.4 659.53L789.61 659.68L789.81 659.83L790 659.98L790.18 660.12L790.36 660.26L790.53 660.4L790.7 660.53L790.87 660.66L791.03 660.78L791.18 660.91L791.34 661.03L791.49 661.14L791.63 661.26L791.77 661.38L791.91 661.49L792.04 661.6L792.17 661.71L792.3 661.82L792.42 661.92L792.55 662.02L792.67 662.13L792.79 662.23L792.91 662.33L793.03 662.42L793.15 662.52L793.27 662.61L793.38 662.7L793.5 662.79L793.61 662.88L793.73 662.97L793.84 663.05L793.96 663.14L794.07 663.22L794.19 663.3L794.3 663.38L794.41 663.45L794.53 663.53L794.65 663.6L794.76 663.67L794.88 663.74L795 663.8L795.12 663.86L795.24 663.92L795.36 663.98L795.48 664.03L795.6 664.09L795.72 664.14L795.84 664.19L795.96 664.24L796.08 664.28L796.19 664.33L796.31 664.38L796.42 664.42L796.53 664.47L796.64 664.52L796.75 664.56L796.85 664.61L796.95 664.66L797.05 664.71L797.15 664.76L797.25 664.81L797.34 664.87L797.43 664.93L797.52 664.99L797.61 665.04L797.7 665.1L797.79 665.16L797.88 665.22L797.97 665.28L798.06 665.34L798.15 665.4L798.24 665.46L798.33 665.51L798.42 665.57L798.51 665.62L798.61 665.67L798.7 665.72L798.79 665.77L798.89 665.82L798.99 665.87L799.08 665.92L799.18 665.96L799.28 666.01L799.37 666.05L799.47 666.09L799.57 666.13L799.67 666.17L799.77 666.21L799.87 666.25L799.97 666.29L800.07 666.32L800.17 666.36L800.27 666.39L800.38 666.43L800.48 666.46L800.58 666.5L800.68 666.54L800.78 666.58L800.88 666.63L800.98 666.68L801.08 666.74L801.19 666.8L801.29 666.87L801.39 666.94L801.49 667.01L801.6 667.09L801.7 667.17L801.81 667.25L801.92 667.33L802.03 667.41L802.15 667.49L802.26 667.56L802.38 667.63L802.5 667.7L802.62 667.76L802.74 667.82L802.87 667.87L802.99 667.91L803.12 667.95L803.25 667.97L803.37 667.99L803.5 667.99L803.62 667.99L803.75 667.98L803.87 667.95L803.99 667.92L804.11 667.88L804.23 667.83L804.35 667.78L804.46 667.71L804.57 667.65L804.68 667.57L804.79 667.5L804.89 667.42L804.99 667.34L805.09 667.25L805.19 667.17L805.29 667.08L805.38 666.99L805.48 666.91L805.57 666.82L805.66 666.74L805.75 666.66L805.85 666.58L805.94 666.5L806.03 666.43L806.13 666.36L806.22 666.3L806.32 666.24L806.42 666.18L806.51 666.13L806.61 666.08L806.71 666.02L806.81 665.97L806.91 665.91L807.01 665.86L807.11 665.8L807.21 665.75L807.3 665.69L807.4 665.63L807.5 665.57L807.6 665.51L807.69 665.45L807.79 665.39L807.88 665.33L807.98 665.26L808.07 665.2L808.17 665.13L808.26 665.07L808.35 665L808.44 664.93L808.53 664.86L808.63 664.79L808.72 664.72L808.81 664.64L808.9 664.57L808.99 664.5L809.08 664.42L809.17 664.35L809.26 664.27L809.36 664.2L809.45 664.13L809.55 664.06L809.66 663.99L809.76 663.92L809.87 663.86L809.98 663.79L810.1 663.72L810.21 663.65L810.33 663.59L810.45 663.52L810.57 663.45L810.69 663.37L810.81 663.3L810.94 663.22L811.06 663.15L811.18 663.07L811.3 662.98L811.42 662.9L811.54 662.81L811.65 662.72L811.76 662.62L811.87 662.53L811.98 662.43L812.09 662.33L812.19 662.22L812.3 662.11L812.4 662L812.5 661.89L812.59 661.78L812.69 661.66L812.79 661.55L812.88 661.43L812.98 661.31L813.07 661.19L813.17 661.06L813.27 660.94L813.36 660.81L813.46 660.68L813.56 660.55L813.66 660.42L813.76 660.28L813.87 660.15L813.98 660.01L814.1 659.87L814.23 659.73L814.37 659.59L814.52 659.45L814.68 659.3L814.84 659.15L815.01 658.99L815.17 658.83L815.33 658.67Z"/>
<line x1="719.2" y1="864.6" x2="1102.7" y2="864.6" stroke="#2c2ca8" stroke-width="0.6" stroke-dasharray="1 1.6"/>
</g>
<path fill="none" stroke="#808080" stroke-width="1.1" d="M727.42 997.9v6.3M727.42 614.5v-6.3M747.65 997.9v6.3M747.65 614.5v-6.3M767.88 997.9v6.3M767.88 614.5v-6.3M788.1 997.9v12M788.1 614.5v-12M808.33 997.9v6.3M808.33 614.5v-6.3M828.55 997.9v6.3M828.55 614.5v-6.3M848.78 997.9v6.3M848.78 614.5v-6.3M869 997.9v12M869 614.5v-12M889.23 997.9v6.3M889.23 614.5v-6.3M909.45 997.9v6.3M909.45 614.5v-6.3M929.68 997.9v6.3M929.68 614.5v-6.3M949.9 997.9v12M949.9 614.5v-12M970.12 997.9v6.3M970.12 614.5v-6.3M990.35 997.9v6.3M990.35 614.5v-6.3M1010.58 997.9v6.3M1010.58 614.5v-6.3M1030.8 997.9v12M1030.8 614.5v-12M1051.03 997.9v6.3M1051.03 614.5v-6.3M1071.25 997.9v6.3M1071.25 614.5v-6.3M1091.47 997.9v6.3M1091.47 614.5v-6.3M719.2 998.92h-6.3M1102.7 998.92h6.3M719.2 980.63h-6.3M1102.7 980.63h6.3M719.2 967.65h-6.3M1102.7 967.65h6.3M719.2 957.58h-6.3M1102.7 957.58h6.3M719.2 949.35h-6.3M1102.7 949.35h6.3M719.2 942.39h-6.3M1102.7 942.39h6.3M719.2 936.37h-6.3M1102.7 936.37h6.3M719.2 931.05h-6.3M1102.7 931.05h6.3M719.2 926.3h-12M1102.7 926.3h6.3M719.2 895.02h-6.3M1102.7 895.02h6.3M719.2 876.73h-6.3M1102.7 876.73h6.3M719.2 863.75h-6.3M1102.7 863.75h6.3M719.2 853.68h-6.3M1102.7 853.68h6.3M719.2 845.45h-6.3M1102.7 845.45h6.3M719.2 838.49h-6.3M1102.7 838.49h6.3M719.2 832.47h-6.3M1102.7 832.47h6.3M719.2 827.15h-6.3M1102.7 827.15h6.3M719.2 822.4h-12M1102.7 822.4h6.3M719.2 791.12h-6.3M1102.7 791.12h6.3M719.2 772.83h-6.3M1102.7 772.83h6.3M719.2 759.85h-6.3M1102.7 759.85h6.3M719.2 749.78h-6.3M1102.7 749.78h6.3M719.2 741.55h-6.3M1102.7 741.55h6.3M719.2 734.59h-6.3M1102.7 734.59h6.3M719.2 728.57h-6.3M1102.7 728.57h6.3M719.2 723.25h-6.3M1102.7 723.25h6.3M719.2 718.5h-12M1102.7 718.5h6.3M719.2 687.22h-6.3M1102.7 687.22h6.3M719.2 668.93h-6.3M1102.7 668.93h6.3M719.2 655.95h-6.3M1102.7 655.95h6.3M719.2 645.88h-6.3M1102.7 645.88h6.3M719.2 637.65h-6.3M1102.7 637.65h6.3M719.2 630.69h-6.3M1102.7 630.69h6.3M719.2 624.67h-6.3M1102.7 624.67h6.3M719.2 619.35h-6.3M1102.7 619.35h6.3M719.2 614.6h-12M1102.7 614.6h6.3"/>
<linearGradient id="ddg" x1="0" y1="1" x2="0" y2="0"><stop offset="0" stop-color="#00008f"/><stop offset="0.125" stop-color="#0000ff"/><stop offset="0.375" stop-color="#00ffff"/><stop offset="0.625" stop-color="#ffff00"/><stop offset="0.875" stop-color="#ff0000"/><stop offset="1" stop-color="#800000"/></linearGradient>
<rect x="1108.7" y="614.5" width="11.6" height="383.4" fill="url(#ddg)" stroke="#808080" stroke-width="0.8"/>
<text x="1131" y="1005.9" font-size="24" font-family='"Liberation Serif", "DejaVu Serif", serif'>0</text>
<text x="1131" y="960.8" font-size="24" font-family='"Liberation Serif", "DejaVu Serif", serif'>0.2</text>
<text x="1131" y="915.7" font-size="24" font-family='"Liberation Serif", "DejaVu Serif", serif'>0.4</text>
<text x="1131" y="870.6" font-size="24" font-family='"Liberation Serif", "DejaVu Serif", serif'>0.6</text>
<text x="1131" y="825.5" font-size="24" font-family='"Liberation Serif", "DejaVu Serif", serif'>0.8</text>
<text x="1131" y="780.4" font-size="24" font-family='"Liberation Serif", "DejaVu Serif", serif'>1.0</text>
<text x="1131" y="735.3" font-size="24" font-family='"Liberation Serif", "DejaVu Serif", serif'>1.2</text>
<text x="1131" y="690.2" font-size="24" font-family='"Liberation Serif", "DejaVu Serif", serif'>1.4</text>
<text x="1131" y="645.1" font-size="24" font-family='"Liberation Serif", "DejaVu Serif", serif'>1.6</text>
<path fill="none" stroke="#808080" stroke-width="1" d="M1120.3 997.9h-3M1120.3 952.8h-3M1120.3 907.7h-3M1120.3 862.6h-3M1120.3 817.5h-3M1120.3 772.4h-3M1120.3 727.3h-3M1120.3 682.2h-3M1120.3 637.1h-3"/>
<text x="788.1" y="1037.5" font-size="24" text-anchor="middle" font-family='"Liberation Serif", "DejaVu Serif", serif'>0.8</text>
<text x="869" y="1037.5" font-size="24" text-anchor="middle" font-family='"Liberation Serif", "DejaVu Serif", serif'>1.0</text>
<text x="949.9" y="1037.5" font-size="24" text-anchor="middle" font-family='"Liberation Serif", "DejaVu Serif", serif'>1.2</text>
<text x="1030.8" y="1037.5" font-size="24" text-anchor="middle" font-family='"Liberation Serif", "DejaVu Serif", serif'>1.4</text>
<text x="665.2" y="935.2" font-size="24" font-family='"Liberation Serif", "DejaVu Serif", serif'>10<tspan font-size="15.2" dy="-9.8">0</tspan></text>
<text x="665.2" y="831.3" font-size="24" font-family='"Liberation Serif", "DejaVu Serif", serif'>10<tspan font-size="15.2" dy="-9.8">1</tspan></text>
<text x="665.2" y="727.4" font-size="24" font-family='"Liberation Serif", "DejaVu Serif", serif'>10<tspan font-size="15.2" dy="-9.8">2</tspan></text>
<text x="665.2" y="623.5" font-size="24" font-family='"Liberation Serif", "DejaVu Serif", serif'>10<tspan font-size="15.2" dy="-9.8">3</tspan></text>
<text font-size="30" font-family='"Liberation Serif", "DejaVu Serif", serif'><tspan x="834" y="1083.8" font-style="italic">C</tspan><tspan x="856" y="1083.8" font-style="italic">f</tspan><tspan x="869.2" y="1088.4" font-style="italic" font-size="19.5">LS</tspan><tspan x="891" y="1090.3" font-size="39">/</tspan><tspan x="904.4" y="1083.8" font-style="italic">C</tspan><tspan x="927.5" y="1083.8" font-style="italic">f</tspan><tspan x="946" y="1087.3" font-family="DejaVu Sans, sans-serif" font-weight="200" font-size="31">+</tspan><tspan x="978.1" y="1083.8">1</tspan></text>
<line x1="906.9" y1="1058.9" x2="938.1" y2="1058.9" stroke="#000" stroke-width="1.6"/>
<text x="611" y="608.5" font-size="30" font-family='"Liberation Serif", "DejaVu Serif", serif'>(<tspan font-style="italic">d</tspan>)</text>
</svg>
</body></html>
